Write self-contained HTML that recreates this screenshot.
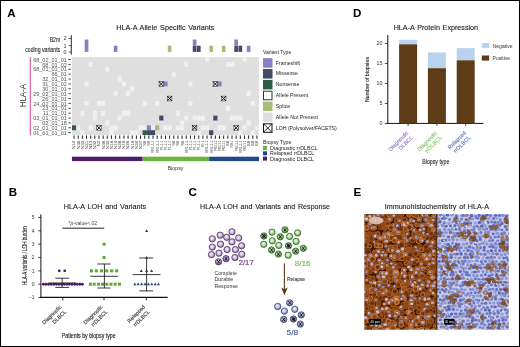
<!DOCTYPE html>
<html><head><meta charset="utf-8"><style>
html,body{margin:0;padding:0;background:#fff;}
svg{display:block;will-change:transform;}
text{font-family:"Liberation Sans", sans-serif;}
</style></head><body>
<svg width="520" height="347" viewBox="0 0 520 347" font-family="Liberation Sans, sans-serif">
<rect x="0.5" y="0.5" width="519" height="346" fill="#fff" stroke="#000" stroke-width="1"/>
<text x="7.20" y="16.90" font-size="11.6" fill="#000" font-weight="bold" >A</text>
<text x="353.00" y="17.30" font-size="11.6" fill="#000" font-weight="bold" >D</text>
<text x="8.70" y="195.60" font-size="11.6" fill="#000" font-weight="bold" >B</text>
<text x="188.40" y="196.40" font-size="11.6" fill="#000" font-weight="bold" >C</text>
<text x="353.60" y="196.10" font-size="11.6" fill="#000" font-weight="bold" >E</text>
<text x="116.20" y="30.20" font-size="7.7" fill="#222" textLength="98.2" lengthAdjust="spacingAndGlyphs" stroke="#222" stroke-width="0.12" word-spacing="0.8">HLA-A Allele Specific Variants</text>
<line x1="71.3" y1="35.2" x2="71.3" y2="54.6" stroke="#111" stroke-width="0.9"/>
<line x1="68.6" y1="38.4" x2="71.3" y2="38.4" stroke="#333" stroke-width="0.8"/>
<text x="66.60" y="40.30" font-size="5.4" fill="#333" text-anchor="end" >2</text>
<line x1="68.6" y1="45.6" x2="71.3" y2="45.6" stroke="#333" stroke-width="0.8"/>
<text x="66.60" y="47.50" font-size="5.4" fill="#333" text-anchor="end" >1</text>
<line x1="68.6" y1="52.0" x2="71.3" y2="52.0" stroke="#333" stroke-width="0.8"/>
<text x="66.60" y="53.90" font-size="5.4" fill="#333" text-anchor="end" >0</text>
<text x="60.20" y="42.30" font-size="7.2" fill="#222" text-anchor="end" textLength="10.5" lengthAdjust="spacingAndGlyphs" stroke="#222" stroke-width="0.1">B2m</text>
<text x="60.20" y="51.50" font-size="7.2" fill="#222" text-anchor="end" textLength="35.0" lengthAdjust="spacingAndGlyphs" stroke="#222" stroke-width="0.1">coding variants</text>
<rect x="84.67" y="39.50" width="3.7" height="12.40" fill="#8a7fc4"/>
<rect x="113.77" y="45.70" width="3.7" height="6.20" fill="#8a7fc4"/>
<rect x="167.81" y="45.70" width="3.7" height="6.20" fill="#a9bb78"/>
<rect x="192.75" y="45.70" width="3.7" height="6.20" fill="#434a66"/>
<rect x="192.75" y="39.50" width="3.7" height="6.20" fill="#8a7fc4"/>
<rect x="196.91" y="45.70" width="3.7" height="6.20" fill="#434a66"/>
<rect x="209.38" y="45.70" width="3.7" height="6.20" fill="#a9bb78"/>
<rect x="221.85" y="45.70" width="3.7" height="6.20" fill="#a9bb78"/>
<rect x="234.32" y="45.70" width="3.7" height="6.20" fill="#434a66"/>
<rect x="234.32" y="39.50" width="3.7" height="6.20" fill="#8a7fc4"/>
<rect x="238.48" y="45.70" width="3.7" height="6.20" fill="#434a66"/>
<rect x="246.79" y="45.70" width="3.7" height="6.20" fill="#8a7fc4"/>
<rect x="71.95" y="57.1" width="187.06" height="78.00" fill="#dfdfe0"/>
<rect x="204.97" y="57.10" width="4.16" height="4.88" fill="#f0f0f1"/>
<rect x="242.39" y="57.10" width="4.16" height="4.88" fill="#f0f0f1"/>
<rect x="88.58" y="61.98" width="4.16" height="4.88" fill="#f0f0f1"/>
<rect x="184.19" y="61.98" width="4.16" height="4.88" fill="#f0f0f1"/>
<rect x="225.76" y="61.98" width="4.16" height="4.88" fill="#f0f0f1"/>
<rect x="229.92" y="61.98" width="4.16" height="4.88" fill="#f0f0f1"/>
<rect x="105.21" y="66.85" width="4.16" height="4.88" fill="#f0f0f1"/>
<rect x="171.72" y="71.72" width="4.16" height="4.88" fill="#f0f0f1"/>
<rect x="117.68" y="76.60" width="4.16" height="4.88" fill="#f0f0f1"/>
<rect x="84.42" y="81.47" width="4.16" height="4.88" fill="#f0f0f1"/>
<rect x="121.83" y="81.47" width="4.16" height="4.88" fill="#f0f0f1"/>
<rect x="188.35" y="81.47" width="4.16" height="4.88" fill="#f0f0f1"/>
<rect x="130.15" y="86.35" width="4.16" height="4.88" fill="#f0f0f1"/>
<rect x="113.52" y="91.22" width="4.16" height="4.88" fill="#f0f0f1"/>
<rect x="125.99" y="91.22" width="4.16" height="4.88" fill="#f0f0f1"/>
<rect x="246.54" y="91.22" width="4.16" height="4.88" fill="#f0f0f1"/>
<rect x="84.42" y="100.97" width="4.16" height="4.88" fill="#f0f0f1"/>
<rect x="96.89" y="100.97" width="4.16" height="4.88" fill="#f0f0f1"/>
<rect x="101.05" y="100.97" width="4.16" height="4.88" fill="#f0f0f1"/>
<rect x="142.62" y="100.97" width="4.16" height="4.88" fill="#f0f0f1"/>
<rect x="155.09" y="100.97" width="4.16" height="4.88" fill="#f0f0f1"/>
<rect x="188.35" y="100.97" width="4.16" height="4.88" fill="#f0f0f1"/>
<rect x="250.70" y="100.97" width="4.16" height="4.88" fill="#f0f0f1"/>
<rect x="225.76" y="105.85" width="4.16" height="4.88" fill="#f0f0f1"/>
<rect x="80.26" y="110.72" width="4.16" height="4.88" fill="#f0f0f1"/>
<rect x="92.73" y="110.72" width="4.16" height="4.88" fill="#f0f0f1"/>
<rect x="101.05" y="110.72" width="4.16" height="4.88" fill="#f0f0f1"/>
<rect x="121.83" y="110.72" width="4.16" height="4.88" fill="#f0f0f1"/>
<rect x="125.99" y="110.72" width="4.16" height="4.88" fill="#f0f0f1"/>
<rect x="175.88" y="110.72" width="4.16" height="4.88" fill="#f0f0f1"/>
<rect x="92.73" y="115.60" width="4.16" height="4.88" fill="#f0f0f1"/>
<rect x="117.68" y="115.60" width="4.16" height="4.88" fill="#f0f0f1"/>
<rect x="184.19" y="115.60" width="4.16" height="4.88" fill="#f0f0f1"/>
<rect x="192.50" y="115.60" width="4.16" height="4.88" fill="#f0f0f1"/>
<rect x="196.66" y="115.60" width="4.16" height="4.88" fill="#f0f0f1"/>
<rect x="200.82" y="115.60" width="4.16" height="4.88" fill="#f0f0f1"/>
<rect x="229.92" y="115.60" width="4.16" height="4.88" fill="#f0f0f1"/>
<rect x="234.07" y="115.60" width="4.16" height="4.88" fill="#f0f0f1"/>
<rect x="238.23" y="115.60" width="4.16" height="4.88" fill="#f0f0f1"/>
<rect x="105.21" y="120.47" width="4.16" height="4.88" fill="#f0f0f1"/>
<rect x="180.03" y="120.47" width="4.16" height="4.88" fill="#f0f0f1"/>
<rect x="246.54" y="120.47" width="4.16" height="4.88" fill="#f0f0f1"/>
<rect x="76.11" y="125.35" width="4.16" height="4.88" fill="#f0f0f1"/>
<rect x="88.58" y="125.35" width="4.16" height="4.88" fill="#f0f0f1"/>
<rect x="109.36" y="125.35" width="4.16" height="4.88" fill="#f0f0f1"/>
<rect x="113.52" y="125.35" width="4.16" height="4.88" fill="#f0f0f1"/>
<rect x="138.46" y="125.35" width="4.16" height="4.88" fill="#f0f0f1"/>
<rect x="142.62" y="125.35" width="4.16" height="4.88" fill="#f0f0f1"/>
<rect x="150.93" y="125.35" width="4.16" height="4.88" fill="#f0f0f1"/>
<rect x="163.40" y="125.35" width="4.16" height="4.88" fill="#f0f0f1"/>
<rect x="167.56" y="125.35" width="4.16" height="4.88" fill="#f0f0f1"/>
<rect x="175.88" y="125.35" width="4.16" height="4.88" fill="#f0f0f1"/>
<rect x="180.03" y="125.35" width="4.16" height="4.88" fill="#f0f0f1"/>
<rect x="200.82" y="125.35" width="4.16" height="4.88" fill="#f0f0f1"/>
<rect x="204.97" y="125.35" width="4.16" height="4.88" fill="#f0f0f1"/>
<rect x="217.44" y="125.35" width="4.16" height="4.88" fill="#f0f0f1"/>
<rect x="221.60" y="125.35" width="4.16" height="4.88" fill="#f0f0f1"/>
<rect x="242.39" y="125.35" width="4.16" height="4.88" fill="#f0f0f1"/>
<rect x="254.86" y="125.35" width="4.16" height="4.88" fill="#f0f0f1"/>
<rect x="80.26" y="130.22" width="4.16" height="4.88" fill="#f0f0f1"/>
<rect x="109.36" y="130.22" width="4.16" height="4.88" fill="#f0f0f1"/>
<rect x="130.15" y="130.22" width="4.16" height="4.88" fill="#f0f0f1"/>
<rect x="134.31" y="130.22" width="4.16" height="4.88" fill="#f0f0f1"/>
<rect x="196.66" y="130.22" width="4.16" height="4.88" fill="#f0f0f1"/>
<rect x="238.23" y="130.22" width="4.16" height="4.88" fill="#f0f0f1"/>
<rect x="250.70" y="130.22" width="4.16" height="4.88" fill="#f0f0f1"/>
<rect x="71.95" y="125.35" width="4.16" height="4.88" fill="#2e5d45"/>
<rect x="142.62" y="130.22" width="4.16" height="4.88" fill="#2e5d45"/>
<rect x="163.40" y="81.47" width="4.16" height="4.88" fill="#8a7fc4"/>
<rect x="217.44" y="81.47" width="4.16" height="4.88" fill="#8a7fc4"/>
<rect x="146.78" y="125.35" width="4.16" height="4.88" fill="#8a7fc4"/>
<rect x="159.25" y="115.60" width="4.16" height="4.88" fill="#434a66"/>
<rect x="213.29" y="115.60" width="4.16" height="4.88" fill="#434a66"/>
<rect x="146.78" y="130.22" width="4.16" height="4.88" fill="#434a66"/>
<rect x="150.93" y="130.22" width="4.16" height="4.88" fill="#434a66"/>
<rect x="209.13" y="130.22" width="4.16" height="4.88" fill="#434a66"/>
<rect x="155.09" y="125.35" width="4.16" height="4.88" fill="#a9bb78"/>
<rect x="159.10" y="81.52" width="4.46" height="4.78" fill="#fff" stroke="#222" stroke-width="0.55"/>
<path d="M159.10 81.52L163.55 86.30M163.55 81.52L159.10 86.30" stroke="#111" stroke-width="1.0"/>
<rect x="213.14" y="81.52" width="4.46" height="4.78" fill="#fff" stroke="#222" stroke-width="0.55"/>
<path d="M213.14 81.52L217.60 86.30M217.60 81.52L213.14 86.30" stroke="#111" stroke-width="1.0"/>
<rect x="167.41" y="96.15" width="4.46" height="4.78" fill="#fff" stroke="#222" stroke-width="0.55"/>
<path d="M167.41 96.15L171.87 100.92M171.87 96.15L167.41 100.92" stroke="#111" stroke-width="1.0"/>
<rect x="221.45" y="96.15" width="4.46" height="4.78" fill="#fff" stroke="#222" stroke-width="0.55"/>
<path d="M221.45 96.15L225.91 100.92M225.91 96.15L221.45 100.92" stroke="#111" stroke-width="1.0"/>
<rect x="96.74" y="125.40" width="4.46" height="4.77" fill="#fff" stroke="#222" stroke-width="0.55"/>
<path d="M96.74 125.40L101.20 130.17M101.20 125.40L96.74 130.17" stroke="#111" stroke-width="1.0"/>
<rect x="192.35" y="125.40" width="4.46" height="4.77" fill="#fff" stroke="#222" stroke-width="0.55"/>
<path d="M192.35 125.40L196.81 130.17M196.81 125.40L192.35 130.17" stroke="#111" stroke-width="1.0"/>
<rect x="233.92" y="125.40" width="4.46" height="4.77" fill="#fff" stroke="#222" stroke-width="0.55"/>
<path d="M233.92 125.40L238.38 130.17M238.38 125.40L233.92 130.17" stroke="#111" stroke-width="1.0"/>
<text x="66.80" y="61.64" font-size="5.5" fill="#555" text-anchor="end" >68_02_01_01</text>
<line x1="68.4" y1="59.54" x2="70.9" y2="59.54" stroke="#222" stroke-width="0.8"/>
<text x="66.80" y="66.51" font-size="5.5" fill="#555" text-anchor="end" >68_01_02</text>
<line x1="68.4" y1="64.41" x2="70.9" y2="64.41" stroke="#222" stroke-width="0.8"/>
<text x="66.80" y="71.39" font-size="5.5" fill="#555" text-anchor="end" >68_01_01_01</text>
<line x1="68.4" y1="69.29" x2="70.9" y2="69.29" stroke="#222" stroke-width="0.8"/>
<text x="66.80" y="76.26" font-size="5.5" fill="#555" text-anchor="end" >66_01</text>
<line x1="68.4" y1="74.16" x2="70.9" y2="74.16" stroke="#222" stroke-width="0.8"/>
<text x="66.80" y="81.14" font-size="5.5" fill="#555" text-anchor="end" >32_01_01</text>
<line x1="68.4" y1="79.04" x2="70.9" y2="79.04" stroke="#222" stroke-width="0.8"/>
<text x="66.80" y="86.01" font-size="5.5" fill="#555" text-anchor="end" >31_01_02</text>
<line x1="68.4" y1="83.91" x2="70.9" y2="83.91" stroke="#222" stroke-width="0.8"/>
<text x="66.80" y="90.89" font-size="5.5" fill="#555" text-anchor="end" >30_01_01</text>
<line x1="68.4" y1="88.79" x2="70.9" y2="88.79" stroke="#222" stroke-width="0.8"/>
<text x="66.80" y="95.76" font-size="5.5" fill="#555" text-anchor="end" >29_02_01_01</text>
<line x1="68.4" y1="93.66" x2="70.9" y2="93.66" stroke="#222" stroke-width="0.8"/>
<text x="66.80" y="100.64" font-size="5.5" fill="#555" text-anchor="end" >26_01_01</text>
<line x1="68.4" y1="98.54" x2="70.9" y2="98.54" stroke="#222" stroke-width="0.8"/>
<text x="66.80" y="105.51" font-size="5.5" fill="#555" text-anchor="end" >24_02_01_01</text>
<line x1="68.4" y1="103.41" x2="70.9" y2="103.41" stroke="#222" stroke-width="0.8"/>
<text x="66.80" y="110.39" font-size="5.5" fill="#555" text-anchor="end" >23_01_01</text>
<line x1="68.4" y1="108.29" x2="70.9" y2="108.29" stroke="#222" stroke-width="0.8"/>
<text x="66.80" y="115.26" font-size="5.5" fill="#555" text-anchor="end" >11_01_01</text>
<line x1="68.4" y1="113.16" x2="70.9" y2="113.16" stroke="#222" stroke-width="0.8"/>
<text x="66.80" y="120.14" font-size="5.5" fill="#555" text-anchor="end" >03_01_01_01</text>
<line x1="68.4" y1="118.04" x2="70.9" y2="118.04" stroke="#222" stroke-width="0.8"/>
<text x="66.80" y="125.01" font-size="5.5" fill="#555" text-anchor="end" >02_01_18</text>
<line x1="68.4" y1="122.91" x2="70.9" y2="122.91" stroke="#222" stroke-width="0.8"/>
<text x="66.80" y="129.89" font-size="5.5" fill="#555" text-anchor="end" >02_01_01_01</text>
<line x1="68.4" y1="127.79" x2="70.9" y2="127.79" stroke="#222" stroke-width="0.8"/>
<text x="66.80" y="134.76" font-size="5.5" fill="#555" text-anchor="end" >01_01_01_01</text>
<line x1="68.4" y1="132.66" x2="70.9" y2="132.66" stroke="#222" stroke-width="0.8"/>
<line x1="30.3" y1="57" x2="30.3" y2="135.2" stroke="#d9539f" stroke-width="1.1"/>
<text transform="translate(25.8 95.6) rotate(-90)" x="0" y="0" font-size="8.4" fill="#333" text-anchor="middle" textLength="23.5" lengthAdjust="spacingAndGlyphs">HLA-A</text>
<line x1="74.03" y1="135.5" x2="74.03" y2="138.8" stroke="#111" stroke-width="0.95"/>
<text transform="translate(75.43 140.6) rotate(-90)" font-size="4.2" fill="#444" text-anchor="end" textLength="8.7" lengthAdjust="spacingAndGlyphs">N14</text>
<line x1="78.19" y1="135.5" x2="78.19" y2="138.8" stroke="#111" stroke-width="0.95"/>
<text transform="translate(79.59 140.6) rotate(-90)" font-size="4.2" fill="#444" text-anchor="end" textLength="8.7" lengthAdjust="spacingAndGlyphs">N38</text>
<line x1="82.34" y1="135.5" x2="82.34" y2="138.8" stroke="#111" stroke-width="0.95"/>
<text transform="translate(83.74 140.6) rotate(-90)" font-size="4.2" fill="#444" text-anchor="end" textLength="8.7" lengthAdjust="spacingAndGlyphs">N33</text>
<line x1="86.50" y1="135.5" x2="86.50" y2="138.8" stroke="#111" stroke-width="0.95"/>
<text transform="translate(87.90 140.6) rotate(-90)" font-size="4.2" fill="#444" text-anchor="end" textLength="8.7" lengthAdjust="spacingAndGlyphs">N21</text>
<line x1="90.66" y1="135.5" x2="90.66" y2="138.8" stroke="#111" stroke-width="0.95"/>
<text transform="translate(92.06 140.6) rotate(-90)" font-size="4.2" fill="#444" text-anchor="end" textLength="8.7" lengthAdjust="spacingAndGlyphs">N11</text>
<line x1="94.81" y1="135.5" x2="94.81" y2="138.8" stroke="#111" stroke-width="0.95"/>
<text transform="translate(96.21 140.6) rotate(-90)" font-size="4.2" fill="#444" text-anchor="end" textLength="8.7" lengthAdjust="spacingAndGlyphs">N32</text>
<line x1="98.97" y1="135.5" x2="98.97" y2="138.8" stroke="#111" stroke-width="0.95"/>
<text transform="translate(100.37 140.6) rotate(-90)" font-size="4.2" fill="#444" text-anchor="end" textLength="5.6" lengthAdjust="spacingAndGlyphs">N2</text>
<line x1="103.13" y1="135.5" x2="103.13" y2="138.8" stroke="#111" stroke-width="0.95"/>
<text transform="translate(104.53 140.6) rotate(-90)" font-size="4.2" fill="#444" text-anchor="end" textLength="8.7" lengthAdjust="spacingAndGlyphs">N36</text>
<line x1="107.28" y1="135.5" x2="107.28" y2="138.8" stroke="#111" stroke-width="0.95"/>
<text transform="translate(108.68 140.6) rotate(-90)" font-size="4.2" fill="#444" text-anchor="end" textLength="8.7" lengthAdjust="spacingAndGlyphs">N35</text>
<line x1="111.44" y1="135.5" x2="111.44" y2="138.8" stroke="#111" stroke-width="0.95"/>
<text transform="translate(112.84 140.6) rotate(-90)" font-size="4.2" fill="#444" text-anchor="end" textLength="8.7" lengthAdjust="spacingAndGlyphs">N16</text>
<line x1="115.60" y1="135.5" x2="115.60" y2="138.8" stroke="#111" stroke-width="0.95"/>
<text transform="translate(117.00 140.6) rotate(-90)" font-size="4.2" fill="#444" text-anchor="end" textLength="8.7" lengthAdjust="spacingAndGlyphs">N10</text>
<line x1="119.76" y1="135.5" x2="119.76" y2="138.8" stroke="#111" stroke-width="0.95"/>
<text transform="translate(121.16 140.6) rotate(-90)" font-size="4.2" fill="#444" text-anchor="end" textLength="8.7" lengthAdjust="spacingAndGlyphs">N28</text>
<line x1="123.91" y1="135.5" x2="123.91" y2="138.8" stroke="#111" stroke-width="0.95"/>
<text transform="translate(125.31 140.6) rotate(-90)" font-size="4.2" fill="#444" text-anchor="end" textLength="8.7" lengthAdjust="spacingAndGlyphs">N19</text>
<line x1="128.07" y1="135.5" x2="128.07" y2="138.8" stroke="#111" stroke-width="0.95"/>
<text transform="translate(129.47 140.6) rotate(-90)" font-size="4.2" fill="#444" text-anchor="end" textLength="8.7" lengthAdjust="spacingAndGlyphs">N26</text>
<line x1="132.23" y1="135.5" x2="132.23" y2="138.8" stroke="#111" stroke-width="0.95"/>
<text transform="translate(133.63 140.6) rotate(-90)" font-size="4.2" fill="#444" text-anchor="end" textLength="8.7" lengthAdjust="spacingAndGlyphs">N19</text>
<line x1="136.38" y1="135.5" x2="136.38" y2="138.8" stroke="#111" stroke-width="0.95"/>
<text transform="translate(137.78 140.6) rotate(-90)" font-size="4.2" fill="#444" text-anchor="end" textLength="8.7" lengthAdjust="spacingAndGlyphs">N24</text>
<line x1="140.54" y1="135.5" x2="140.54" y2="138.8" stroke="#111" stroke-width="0.95"/>
<text transform="translate(141.94 140.6) rotate(-90)" font-size="4.2" fill="#444" text-anchor="end" textLength="8.7" lengthAdjust="spacingAndGlyphs">N27</text>
<line x1="144.70" y1="135.5" x2="144.70" y2="138.8" stroke="#111" stroke-width="0.95"/>
<text transform="translate(146.10 140.6) rotate(-90)" font-size="4.2" fill="#444" text-anchor="end" textLength="5.2" lengthAdjust="spacingAndGlyphs">S8</text>
<line x1="148.85" y1="135.5" x2="148.85" y2="138.8" stroke="#111" stroke-width="0.95"/>
<text transform="translate(150.25 140.6) rotate(-90)" font-size="4.2" fill="#444" text-anchor="end" textLength="5.2" lengthAdjust="spacingAndGlyphs">S8</text>
<line x1="153.01" y1="135.5" x2="153.01" y2="138.8" stroke="#111" stroke-width="0.95"/>
<text transform="translate(154.41 140.6) rotate(-90)" font-size="4.2" fill="#444" text-anchor="end" textLength="12.2" lengthAdjust="spacingAndGlyphs">RR1-1-1</text>
<line x1="157.17" y1="135.5" x2="157.17" y2="138.8" stroke="#111" stroke-width="0.95"/>
<text transform="translate(158.57 140.6) rotate(-90)" font-size="4.2" fill="#444" text-anchor="end" textLength="12.2" lengthAdjust="spacingAndGlyphs">RR1-1-1</text>
<line x1="161.33" y1="135.5" x2="161.33" y2="138.8" stroke="#111" stroke-width="0.95"/>
<text transform="translate(162.73 140.6) rotate(-90)" font-size="4.2" fill="#444" text-anchor="end" textLength="9.6" lengthAdjust="spacingAndGlyphs">P1-1-1</text>
<line x1="165.48" y1="135.5" x2="165.48" y2="138.8" stroke="#111" stroke-width="0.95"/>
<text transform="translate(166.88 140.6) rotate(-90)" font-size="4.2" fill="#444" text-anchor="end" textLength="9.6" lengthAdjust="spacingAndGlyphs">P1-1-1</text>
<line x1="169.64" y1="135.5" x2="169.64" y2="138.8" stroke="#111" stroke-width="0.95"/>
<text transform="translate(171.04 140.6) rotate(-90)" font-size="4.2" fill="#444" text-anchor="end" textLength="9.6" lengthAdjust="spacingAndGlyphs">P1-1-1</text>
<line x1="173.80" y1="135.5" x2="173.80" y2="138.8" stroke="#111" stroke-width="0.95"/>
<text transform="translate(175.20 140.6) rotate(-90)" font-size="4.2" fill="#444" text-anchor="end" textLength="5.2" lengthAdjust="spacingAndGlyphs">S8</text>
<line x1="177.95" y1="135.5" x2="177.95" y2="138.8" stroke="#111" stroke-width="0.95"/>
<text transform="translate(179.35 140.6) rotate(-90)" font-size="4.2" fill="#444" text-anchor="end" textLength="5.2" lengthAdjust="spacingAndGlyphs">S8</text>
<line x1="182.11" y1="135.5" x2="182.11" y2="138.8" stroke="#111" stroke-width="0.95"/>
<text transform="translate(183.51 140.6) rotate(-90)" font-size="4.2" fill="#444" text-anchor="end" textLength="5.2" lengthAdjust="spacingAndGlyphs">S8</text>
<line x1="186.27" y1="135.5" x2="186.27" y2="138.8" stroke="#111" stroke-width="0.95"/>
<text transform="translate(187.67 140.6) rotate(-90)" font-size="4.2" fill="#444" text-anchor="end" textLength="12.2" lengthAdjust="spacingAndGlyphs">RR1-1-1</text>
<line x1="190.42" y1="135.5" x2="190.42" y2="138.8" stroke="#111" stroke-width="0.95"/>
<text transform="translate(191.82 140.6) rotate(-90)" font-size="4.2" fill="#444" text-anchor="end" textLength="9.6" lengthAdjust="spacingAndGlyphs">P1-1-1</text>
<line x1="194.58" y1="135.5" x2="194.58" y2="138.8" stroke="#111" stroke-width="0.95"/>
<text transform="translate(195.98 140.6) rotate(-90)" font-size="4.2" fill="#444" text-anchor="end" textLength="9.6" lengthAdjust="spacingAndGlyphs">P1-1-1</text>
<line x1="198.74" y1="135.5" x2="198.74" y2="138.8" stroke="#111" stroke-width="0.95"/>
<text transform="translate(200.14 140.6) rotate(-90)" font-size="4.2" fill="#444" text-anchor="end" textLength="9.6" lengthAdjust="spacingAndGlyphs">P1-1-1</text>
<line x1="202.90" y1="135.5" x2="202.90" y2="138.8" stroke="#111" stroke-width="0.95"/>
<text transform="translate(204.30 140.6) rotate(-90)" font-size="4.2" fill="#444" text-anchor="end" textLength="6.6" lengthAdjust="spacingAndGlyphs">R9-1</text>
<line x1="207.05" y1="135.5" x2="207.05" y2="138.8" stroke="#111" stroke-width="0.95"/>
<text transform="translate(208.45 140.6) rotate(-90)" font-size="4.2" fill="#444" text-anchor="end" textLength="12.2" lengthAdjust="spacingAndGlyphs">RR1-1-1</text>
<line x1="211.21" y1="135.5" x2="211.21" y2="138.8" stroke="#111" stroke-width="0.95"/>
<text transform="translate(212.61 140.6) rotate(-90)" font-size="4.2" fill="#444" text-anchor="end" textLength="12.2" lengthAdjust="spacingAndGlyphs">RR1-1-1</text>
<line x1="215.37" y1="135.5" x2="215.37" y2="138.8" stroke="#111" stroke-width="0.95"/>
<text transform="translate(216.77 140.6) rotate(-90)" font-size="4.2" fill="#444" text-anchor="end" textLength="10.4" lengthAdjust="spacingAndGlyphs">PR2-1-1</text>
<line x1="219.52" y1="135.5" x2="219.52" y2="138.8" stroke="#111" stroke-width="0.95"/>
<text transform="translate(220.92 140.6) rotate(-90)" font-size="4.2" fill="#444" text-anchor="end" textLength="10.4" lengthAdjust="spacingAndGlyphs">PR2-1-1</text>
<line x1="223.68" y1="135.5" x2="223.68" y2="138.8" stroke="#111" stroke-width="0.95"/>
<text transform="translate(225.08 140.6) rotate(-90)" font-size="4.2" fill="#444" text-anchor="end" textLength="10.4" lengthAdjust="spacingAndGlyphs">PR2-1-1</text>
<line x1="227.84" y1="135.5" x2="227.84" y2="138.8" stroke="#111" stroke-width="0.95"/>
<text transform="translate(229.24 140.6) rotate(-90)" font-size="4.2" fill="#444" text-anchor="end" textLength="5.7" lengthAdjust="spacingAndGlyphs">S8</text>
<line x1="231.99" y1="135.5" x2="231.99" y2="138.8" stroke="#111" stroke-width="0.95"/>
<text transform="translate(233.39 140.6) rotate(-90)" font-size="4.2" fill="#444" text-anchor="end" textLength="7.0" lengthAdjust="spacingAndGlyphs">R9-1</text>
<line x1="236.15" y1="135.5" x2="236.15" y2="138.8" stroke="#111" stroke-width="0.95"/>
<text transform="translate(237.55 140.6) rotate(-90)" font-size="4.2" fill="#444" text-anchor="end" textLength="10.4" lengthAdjust="spacingAndGlyphs">PR2-1-1</text>
<line x1="240.31" y1="135.5" x2="240.31" y2="138.8" stroke="#111" stroke-width="0.95"/>
<text transform="translate(241.71 140.6) rotate(-90)" font-size="4.2" fill="#444" text-anchor="end" textLength="12.2" lengthAdjust="spacingAndGlyphs">RR1-1-1</text>
<line x1="244.47" y1="135.5" x2="244.47" y2="138.8" stroke="#111" stroke-width="0.95"/>
<text transform="translate(245.87 140.6) rotate(-90)" font-size="4.2" fill="#444" text-anchor="end" textLength="10.4" lengthAdjust="spacingAndGlyphs">PR2-1-1</text>
<line x1="248.62" y1="135.5" x2="248.62" y2="138.8" stroke="#111" stroke-width="0.95"/>
<text transform="translate(250.02 140.6) rotate(-90)" font-size="4.2" fill="#444" text-anchor="end" textLength="5.7" lengthAdjust="spacingAndGlyphs">S8</text>
<line x1="252.78" y1="135.5" x2="252.78" y2="138.8" stroke="#111" stroke-width="0.95"/>
<text transform="translate(254.18 140.6) rotate(-90)" font-size="4.2" fill="#444" text-anchor="end" textLength="5.7" lengthAdjust="spacingAndGlyphs">S8</text>
<line x1="256.94" y1="135.5" x2="256.94" y2="138.8" stroke="#111" stroke-width="0.95"/>
<text transform="translate(258.34 140.6) rotate(-90)" font-size="4.2" fill="#444" text-anchor="end" textLength="5.7" lengthAdjust="spacingAndGlyphs">S8</text>
<rect x="71.95" y="156.7" width="70.67" height="4.4" fill="#4b1d6b"/>
<rect x="142.62" y="156.7" width="66.51" height="4.4" fill="#6cb23e"/>
<rect x="209.13" y="156.7" width="49.88" height="4.4" fill="#23478b"/>
<text x="167.50" y="169.60" font-size="6.0" fill="#333" textLength="16" lengthAdjust="spacingAndGlyphs" >Biopsy</text>
<text x="263.00" y="54.20" font-size="6.2" fill="#222" textLength="28.3" lengthAdjust="spacingAndGlyphs" >Variant Type</text>
<rect x="263" y="58.20" width="9.5" height="9.5" fill="#8a7fc4"/>
<text x="275.80" y="64.60" font-size="6.2" fill="#222" textLength="24.2" lengthAdjust="spacingAndGlyphs" >Frameshift</text>
<rect x="263" y="69.05" width="9.5" height="9.5" fill="#434a66"/>
<text x="275.80" y="75.45" font-size="6.2" fill="#222" textLength="22.0" lengthAdjust="spacingAndGlyphs" >Missense</text>
<rect x="263" y="79.90" width="9.5" height="9.5" fill="#2e5d45"/>
<text x="275.80" y="86.30" font-size="6.2" fill="#222" textLength="23.6" lengthAdjust="spacingAndGlyphs" >Nonsense</text>
<rect x="263.5" y="91.25" width="8.5" height="8.5" fill="#fff" stroke="#333" stroke-width="1"/>
<text x="275.80" y="97.15" font-size="6.2" fill="#222" textLength="32.4" lengthAdjust="spacingAndGlyphs" >Allele Present</text>
<rect x="263" y="101.60" width="9.5" height="9.5" fill="#a9bb78"/>
<text x="275.80" y="108.00" font-size="6.2" fill="#222" textLength="14.5" lengthAdjust="spacingAndGlyphs" >Splice</text>
<rect x="263" y="112.45" width="9.5" height="9.5" fill="#dfdfe0"/>
<text x="275.80" y="118.85" font-size="6.2" fill="#222" textLength="42.2" lengthAdjust="spacingAndGlyphs" >Allele Not Present</text>
<rect x="263.5" y="123.80" width="8.5" height="8.5" fill="#fff" stroke="#111" stroke-width="1"/>
<path d="M263.5 123.80L272 132.30M272 123.80L263.5 132.30" stroke="#111" stroke-width="0.9"/>
<text x="275.80" y="129.70" font-size="6.2" fill="#222" textLength="61" lengthAdjust="spacingAndGlyphs" >LOH (Polysolver/FACETS)</text>
<text x="263.00" y="144.40" font-size="6.0" fill="#222" textLength="28.3" lengthAdjust="spacingAndGlyphs" >Biopsy Type</text>
<rect x="263" y="146.00" width="4" height="4" fill="#6cb23e"/>
<text x="270.10" y="150.00" font-size="5.6" fill="#222" textLength="47.4" lengthAdjust="spacingAndGlyphs" >Diagnostic rrDLBCL</text>
<rect x="263" y="151.30" width="4" height="4" fill="#23478b"/>
<text x="270.10" y="155.30" font-size="5.6" fill="#222" textLength="44" lengthAdjust="spacingAndGlyphs" >Relapsed rrDLBCL</text>
<rect x="263" y="156.60" width="4" height="4" fill="#4b1d6b"/>
<text x="270.10" y="160.60" font-size="5.6" fill="#222" textLength="44" lengthAdjust="spacingAndGlyphs" >Diagnostic DLBCL</text>
<text x="393.70" y="30.30" font-size="7.7" fill="#222" textLength="84.4" lengthAdjust="spacingAndGlyphs" stroke="#222" stroke-width="0.12" word-spacing="0.8">HLA-A Protein Expression</text>
<line x1="387.8" y1="35" x2="387.8" y2="123.9" stroke="#111" stroke-width="1"/>
<line x1="387.3" y1="123.4" x2="483.4" y2="123.4" stroke="#111" stroke-width="1"/>
<line x1="384.8" y1="123.4" x2="387.8" y2="123.4" stroke="#111" stroke-width="0.8"/>
<text x="382.40" y="125.30" font-size="5.4" fill="#333" text-anchor="end" >0</text>
<line x1="384.8" y1="103.4" x2="387.8" y2="103.4" stroke="#111" stroke-width="0.8"/>
<text x="382.40" y="105.30" font-size="5.4" fill="#333" text-anchor="end" >5</text>
<line x1="384.8" y1="83.4" x2="387.8" y2="83.4" stroke="#111" stroke-width="0.8"/>
<text x="382.40" y="85.30" font-size="5.4" fill="#333" text-anchor="end" >10</text>
<line x1="384.8" y1="63.400000000000006" x2="387.8" y2="63.400000000000006" stroke="#111" stroke-width="0.8"/>
<text x="382.40" y="65.30" font-size="5.4" fill="#333" text-anchor="end" >15</text>
<line x1="384.8" y1="43.400000000000006" x2="387.8" y2="43.400000000000006" stroke="#111" stroke-width="0.8"/>
<text x="382.40" y="45.30" font-size="5.4" fill="#333" text-anchor="end" >20</text>
<rect x="399.1" y="39.8" width="18" height="4.5" fill="#b9d3ee"/>
<rect x="399.1" y="44.3" width="18" height="79.1" fill="#5d3c17"/>
<line x1="408.1" y1="123.4" x2="408.1" y2="125.8" stroke="#111" stroke-width="0.8"/>
<rect x="427.9" y="52.4" width="18" height="15.8" fill="#b9d3ee"/>
<rect x="427.9" y="68.2" width="18" height="55.2" fill="#5d3c17"/>
<line x1="436.9" y1="123.4" x2="436.9" y2="125.8" stroke="#111" stroke-width="0.8"/>
<rect x="456.7" y="48.1" width="18" height="12.2" fill="#b9d3ee"/>
<rect x="456.7" y="60.3" width="18" height="63.1" fill="#5d3c17"/>
<line x1="465.7" y1="123.4" x2="465.7" y2="125.8" stroke="#111" stroke-width="0.8"/>
<rect x="481.8" y="43" width="7.3" height="5.1" fill="#b9d3ee"/>
<rect x="481.8" y="55.5" width="7.3" height="5.1" fill="#5d3c17"/>
<text x="492.60" y="47.80" font-size="5.6" fill="#333" textLength="20" lengthAdjust="spacingAndGlyphs" >Negative</text>
<text x="492.60" y="60.10" font-size="5.6" fill="#333" textLength="17.5" lengthAdjust="spacingAndGlyphs" >Positive</text>
<text transform="translate(369.2 79.5) rotate(-90)" font-size="6.2" fill="#222" stroke="#222" stroke-width="0.12" text-anchor="middle" textLength="45" lengthAdjust="spacingAndGlyphs">Number of biopsies</text>
<g transform="translate(408.8 133.4) rotate(-45)" font-size="5.5" fill="#9273c0" stroke="#9273c0" stroke-width="0.12" text-anchor="end"><text x="0" y="0">Diagnostic</text><text x="0" y="6.4">DLBCL</text></g>
<g transform="translate(437.6 133.4) rotate(-45)" font-size="5.5" fill="#88c46a" stroke="#88c46a" stroke-width="0.12" text-anchor="end"><text x="0" y="0">Diagnostic</text><text x="0" y="6.4">rrDLBCL</text></g>
<g transform="translate(466.4 133.4) rotate(-45)" font-size="5.5" fill="#5b77b8" stroke="#5b77b8" stroke-width="0.12" text-anchor="end"><text x="0" y="0">Relapsed</text><text x="0" y="6.4">rrDLBCL</text></g>
<text x="422.30" y="164.00" font-size="6.6" fill="#333" textLength="27" lengthAdjust="spacingAndGlyphs" stroke="#333" stroke-width="0.15">Biopsy type</text>
<text x="63.80" y="209.40" font-size="7.7" fill="#222" textLength="82.4" lengthAdjust="spacingAndGlyphs" stroke="#222" stroke-width="0.12" word-spacing="0.8">HLA-A LOH and Variants</text>
<line x1="40.9" y1="214.3" x2="40.9" y2="297.9" stroke="#111" stroke-width="1"/>
<line x1="40.4" y1="297.4" x2="167.6" y2="297.4" stroke="#111" stroke-width="1.2"/>
<line x1="38.3" y1="217.45" x2="40.9" y2="217.45" stroke="#111" stroke-width="0.8"/>
<text x="34.60" y="219.25" font-size="5.0" fill="#333" text-anchor="end" >5</text>
<line x1="38.3" y1="230.80" x2="40.9" y2="230.80" stroke="#111" stroke-width="0.8"/>
<text x="34.60" y="232.60" font-size="5.0" fill="#333" text-anchor="end" >4</text>
<line x1="38.3" y1="244.15" x2="40.9" y2="244.15" stroke="#111" stroke-width="0.8"/>
<text x="34.60" y="245.95" font-size="5.0" fill="#333" text-anchor="end" >3</text>
<line x1="38.3" y1="257.50" x2="40.9" y2="257.50" stroke="#111" stroke-width="0.8"/>
<text x="34.60" y="259.30" font-size="5.0" fill="#333" text-anchor="end" >2</text>
<line x1="38.3" y1="270.85" x2="40.9" y2="270.85" stroke="#111" stroke-width="0.8"/>
<text x="34.60" y="272.65" font-size="5.0" fill="#333" text-anchor="end" >1</text>
<line x1="38.3" y1="284.20" x2="40.9" y2="284.20" stroke="#111" stroke-width="0.8"/>
<text x="34.60" y="286.00" font-size="5.0" fill="#333" text-anchor="end" >0</text>
<line x1="38.3" y1="297.55" x2="40.9" y2="297.55" stroke="#111" stroke-width="0.8"/>
<text x="34.60" y="299.35" font-size="5.0" fill="#333" text-anchor="end" >−1</text>
<text transform="translate(27.0 255.6) rotate(-90)" font-size="6.4" fill="#222" stroke="#222" stroke-width="0.12" text-anchor="middle" textLength="59" lengthAdjust="spacingAndGlyphs">HLA-A variants / LOH burden</text>
<line x1="62.4" y1="228.2" x2="104.2" y2="228.2" stroke="#222" stroke-width="1.0"/>
<text x="68.4" y="225.3" font-size="5.0" fill="#444" textLength="28.8" lengthAdjust="spacingAndGlyphs">*<tspan font-style="italic">p</tspan>-value&lt;.02</text>
<circle cx="43.40" cy="284.20" r="1.45" fill="#4a1a6a"/>
<circle cx="46.00" cy="284.20" r="1.45" fill="#4a1a6a"/>
<circle cx="48.60" cy="284.20" r="1.45" fill="#4a1a6a"/>
<circle cx="51.20" cy="284.20" r="1.45" fill="#4a1a6a"/>
<circle cx="53.80" cy="284.20" r="1.45" fill="#4a1a6a"/>
<circle cx="56.40" cy="284.20" r="1.45" fill="#4a1a6a"/>
<circle cx="59.00" cy="284.20" r="1.45" fill="#4a1a6a"/>
<circle cx="61.60" cy="284.20" r="1.45" fill="#4a1a6a"/>
<circle cx="64.20" cy="284.20" r="1.45" fill="#4a1a6a"/>
<circle cx="66.80" cy="284.20" r="1.45" fill="#4a1a6a"/>
<circle cx="69.40" cy="284.20" r="1.45" fill="#4a1a6a"/>
<circle cx="72.00" cy="284.20" r="1.45" fill="#4a1a6a"/>
<circle cx="74.60" cy="284.20" r="1.45" fill="#4a1a6a"/>
<circle cx="77.20" cy="284.20" r="1.45" fill="#4a1a6a"/>
<circle cx="79.80" cy="284.20" r="1.45" fill="#4a1a6a"/>
<circle cx="82.40" cy="284.20" r="1.45" fill="#4a1a6a"/>
<circle cx="59.3" cy="270.85" r="1.45" fill="#4a1a6a"/>
<circle cx="64.7" cy="270.85" r="1.45" fill="#4a1a6a"/>
<rect x="88.90" y="282.70" width="3" height="3" fill="#5ea82f"/>
<rect x="92.70" y="282.70" width="3" height="3" fill="#5ea82f"/>
<rect x="97.00" y="282.70" width="3" height="3" fill="#5ea82f"/>
<rect x="101.00" y="282.70" width="3" height="3" fill="#5ea82f"/>
<rect x="105.30" y="282.70" width="3" height="3" fill="#5ea82f"/>
<rect x="109.50" y="282.70" width="3" height="3" fill="#5ea82f"/>
<rect x="113.70" y="282.70" width="3" height="3" fill="#5ea82f"/>
<rect x="118.00" y="282.70" width="3" height="3" fill="#5ea82f"/>
<rect x="90.00" y="269.35" width="3" height="3" fill="#5ea82f"/>
<rect x="94.80" y="269.35" width="3" height="3" fill="#5ea82f"/>
<rect x="100.00" y="269.35" width="3" height="3" fill="#5ea82f"/>
<rect x="105.10" y="269.35" width="3" height="3" fill="#5ea82f"/>
<rect x="110.20" y="269.35" width="3" height="3" fill="#5ea82f"/>
<rect x="115.20" y="269.35" width="3" height="3" fill="#5ea82f"/>
<rect x="102.60" y="256.00" width="3" height="3" fill="#5ea82f"/>
<rect x="102.60" y="242.65" width="3" height="3" fill="#5ea82f"/>
<path d="M134.80 282.60L136.30 285.30L133.30 285.30Z" fill="#1e3b80"/>
<path d="M138.20 282.60L139.70 285.30L136.70 285.30Z" fill="#1e3b80"/>
<path d="M141.60 282.60L143.10 285.30L140.10 285.30Z" fill="#1e3b80"/>
<path d="M145.00 282.60L146.50 285.30L143.50 285.30Z" fill="#1e3b80"/>
<path d="M148.40 282.60L149.90 285.30L146.90 285.30Z" fill="#1e3b80"/>
<path d="M151.80 282.60L153.30 285.30L150.30 285.30Z" fill="#1e3b80"/>
<path d="M155.20 282.60L156.70 285.30L153.70 285.30Z" fill="#1e3b80"/>
<path d="M158.40 282.60L159.90 285.30L156.90 285.30Z" fill="#1e3b80"/>
<path d="M141.30 269.25L142.80 271.95L139.80 271.95Z" fill="#1e3b80"/>
<path d="M146.60 269.25L148.10 271.95L145.10 271.95Z" fill="#1e3b80"/>
<path d="M151.60 269.25L153.10 271.95L150.10 271.95Z" fill="#1e3b80"/>
<path d="M146.60 255.90L148.10 258.60L145.10 258.60Z" fill="#1e3b80"/>
<path d="M146.60 229.20L148.10 231.90L145.10 231.90Z" fill="#1e3b80"/>
<g stroke="#222" stroke-width="0.9"><line x1="48.4" y1="283.0" x2="76" y2="283.0"/><line x1="62.2" y1="278.2" x2="62.2" y2="287.4"/><line x1="55.3" y1="278.2" x2="69.1" y2="278.2"/><line x1="55.3" y1="287.4" x2="69.1" y2="287.4"/></g>
<g stroke="#222" stroke-width="0.9"><line x1="90.4" y1="276.3" x2="117.9" y2="276.3"/><line x1="104.4" y1="264" x2="104.4" y2="288"/><line x1="97.3" y1="264" x2="110.6" y2="264"/><line x1="97.3" y1="288" x2="110.6" y2="288"/></g>
<g stroke="#222" stroke-width="0.9"><line x1="132.6" y1="274.6" x2="160.5" y2="274.6"/><line x1="146.6" y1="258" x2="146.6" y2="290.9"/><line x1="139.3" y1="258" x2="153.2" y2="258"/><line x1="139.3" y1="290.9" x2="153.2" y2="290.9"/></g>
<line x1="62.8" y1="297.4" x2="62.8" y2="300.4" stroke="#111" stroke-width="0.9"/>
<g transform="translate(61.8 307.3) rotate(-45)" font-size="5.3" fill="#333" stroke="#333" stroke-width="0.14" text-anchor="end"><text x="0" y="0">Diagnostic</text><text x="0" y="6.8">DLBCL</text></g>
<line x1="104.0" y1="297.4" x2="104.0" y2="300.4" stroke="#111" stroke-width="0.9"/>
<g transform="translate(103.0 307.3) rotate(-45)" font-size="5.3" fill="#333" stroke="#333" stroke-width="0.14" text-anchor="end"><text x="0" y="0">Diagnostic</text><text x="0" y="6.8">rrDLBCL</text></g>
<line x1="146.3" y1="297.4" x2="146.3" y2="300.4" stroke="#111" stroke-width="0.9"/>
<g transform="translate(145.3 307.3) rotate(-45)" font-size="5.3" fill="#333" stroke="#333" stroke-width="0.14" text-anchor="end"><text x="0" y="0">Relapsed</text><text x="0" y="6.8">rrDLBCL</text></g>
<text x="61.80" y="338.40" font-size="6.8" fill="#222" textLength="53.8" lengthAdjust="spacingAndGlyphs" stroke="#222" stroke-width="0.15">Patients by biopsy type</text>
<text x="200.00" y="209.20" font-size="7.7" fill="#222" textLength="130" lengthAdjust="spacingAndGlyphs" stroke="#222" stroke-width="0.12" word-spacing="0.8">HLA-A LOH and Variants and Response</text>
<defs><radialGradient id="gp" cx="0.45" cy="0.42" r="0.58"><stop offset="0" stop-color="#fdfbfe"/><stop offset="0.5" stop-color="#d2bde0"/><stop offset="1" stop-color="#8a64a2"/></radialGradient><radialGradient id="gpx" cx="0.45" cy="0.42" r="0.58"><stop offset="0" stop-color="#e8dcf0"/><stop offset="0.5" stop-color="#b89ccc"/><stop offset="1" stop-color="#6e4a86"/></radialGradient><radialGradient id="gg" cx="0.45" cy="0.42" r="0.58"><stop offset="0" stop-color="#fbfef9"/><stop offset="0.5" stop-color="#b4e0a0"/><stop offset="1" stop-color="#5a9c44"/></radialGradient><radialGradient id="ggx" cx="0.45" cy="0.42" r="0.58"><stop offset="0" stop-color="#e2f4da"/><stop offset="0.5" stop-color="#98cc84"/><stop offset="1" stop-color="#4a8a38"/></radialGradient><radialGradient id="gb" cx="0.45" cy="0.42" r="0.58"><stop offset="0" stop-color="#fbfcfe"/><stop offset="0.5" stop-color="#bcc4e6"/><stop offset="1" stop-color="#6474a8"/></radialGradient><radialGradient id="gbx" cx="0.45" cy="0.42" r="0.58"><stop offset="0" stop-color="#dfe3f4"/><stop offset="0.5" stop-color="#a2acd6"/><stop offset="1" stop-color="#54628f"/></radialGradient></defs>
<circle cx="232.0" cy="231.8" r="3.15" fill="url(#gp)" stroke="#4c3360" stroke-width="0.8"/>
<circle cx="220.2" cy="235.2" r="3.15" fill="url(#gp)" stroke="#4c3360" stroke-width="0.8"/>
<circle cx="226.7" cy="237.3" r="3.15" fill="url(#gp)" stroke="#4c3360" stroke-width="0.8"/>
<circle cx="212.3" cy="238.8" r="3.15" fill="url(#gp)" stroke="#4c3360" stroke-width="0.8"/>
<circle cx="238.7" cy="238.0" r="3.15" fill="url(#gp)" stroke="#4c3360" stroke-width="0.8"/>
<circle cx="232.0" cy="241.9" r="3.15" fill="url(#gp)" stroke="#4c3360" stroke-width="0.8"/>
<circle cx="220.5" cy="244.2" r="3.15" fill="url(#gp)" stroke="#4c3360" stroke-width="0.8"/>
<circle cx="212.3" cy="247.1" r="3.15" fill="url(#gp)" stroke="#4c3360" stroke-width="0.8"/>
<circle cx="241.6" cy="245.7" r="3.15" fill="url(#gp)" stroke="#4c3360" stroke-width="0.8"/>
<circle cx="227.1" cy="249.6" r="3.15" fill="url(#gp)" stroke="#4c3360" stroke-width="0.8"/>
<circle cx="235.4" cy="249.6" r="3.15" fill="url(#gp)" stroke="#4c3360" stroke-width="0.8"/>
<circle cx="219.0" cy="253.2" r="3.15" fill="url(#gp)" stroke="#4c3360" stroke-width="0.8"/>
<circle cx="211.5" cy="254.6" r="3.15" fill="url(#gp)" stroke="#4c3360" stroke-width="0.8"/>
<circle cx="241.8" cy="254.3" r="3.15" fill="url(#gp)" stroke="#4c3360" stroke-width="0.8"/>
<circle cx="234.9" cy="257.5" r="3.15" fill="url(#gp)" stroke="#4c3360" stroke-width="0.8"/>
<circle cx="226.0" cy="258.7" r="3.15" fill="url(#gpx)" stroke="#4c3360" stroke-width="0.8"/>
<path d="M224.65 256.95L227.35 260.45M227.35 256.95L224.65 260.45" stroke="#111" stroke-width="0.95"/>
<circle cx="218.5" cy="261.8" r="3.15" fill="url(#gpx)" stroke="#4c3360" stroke-width="0.8"/>
<path d="M217.15 260.05L219.85 263.55M219.85 260.05L217.15 263.55" stroke="#111" stroke-width="0.95"/>
<circle cx="285.0" cy="229.8" r="3.15" fill="url(#ggx)" stroke="#34652b" stroke-width="0.8"/>
<path d="M283.65 228.05L286.35 231.55M286.35 228.05L283.65 231.55" stroke="#111" stroke-width="0.95"/>
<circle cx="272.0" cy="232.1" r="3.15" fill="url(#gg)" stroke="#34652b" stroke-width="0.8"/>
<circle cx="297.6" cy="232.9" r="3.15" fill="url(#gg)" stroke="#34652b" stroke-width="0.8"/>
<circle cx="263.9" cy="236.0" r="3.15" fill="url(#ggx)" stroke="#34652b" stroke-width="0.8"/>
<path d="M262.05 233.85L264.75 237.35M264.75 233.85L262.05 237.35" stroke="#111" stroke-width="1.0"/>
<path d="M263.15 234.75L265.85 238.25M265.85 234.75L263.15 238.25" stroke="#111" stroke-width="1.0"/>
<circle cx="263.9" cy="236.0" r="1.6" fill="#222" opacity="0.55"/>
<circle cx="280.3" cy="236.8" r="3.15" fill="url(#ggx)" stroke="#34652b" stroke-width="0.8"/>
<path d="M278.95 235.05L281.65 238.55M281.65 235.05L278.95 238.55" stroke="#111" stroke-width="0.95"/>
<circle cx="289.6" cy="236.5" r="3.15" fill="url(#gg)" stroke="#34652b" stroke-width="0.8"/>
<circle cx="272.3" cy="240.8" r="3.15" fill="url(#gg)" stroke="#34652b" stroke-width="0.8"/>
<circle cx="296.1" cy="241.4" r="3.15" fill="url(#gg)" stroke="#34652b" stroke-width="0.8"/>
<circle cx="263.7" cy="244.3" r="3.15" fill="url(#gg)" stroke="#34652b" stroke-width="0.8"/>
<circle cx="278.8" cy="245.4" r="3.15" fill="url(#gg)" stroke="#34652b" stroke-width="0.8"/>
<circle cx="288.5" cy="245.7" r="3.15" fill="url(#ggx)" stroke="#34652b" stroke-width="0.8"/>
<path d="M286.65 243.55L289.35 247.05M289.35 243.55L286.65 247.05" stroke="#111" stroke-width="1.0"/>
<path d="M287.75 244.45L290.45 247.95M290.45 244.45L287.75 247.95" stroke="#111" stroke-width="1.0"/>
<circle cx="288.5" cy="245.7" r="1.6" fill="#222" opacity="0.55"/>
<circle cx="303.3" cy="248.3" r="3.15" fill="url(#ggx)" stroke="#34652b" stroke-width="0.8"/>
<path d="M301.95 246.55L304.65 250.05M304.65 246.55L301.95 250.05" stroke="#111" stroke-width="0.95"/>
<circle cx="271.6" cy="250.0" r="3.15" fill="url(#ggx)" stroke="#34652b" stroke-width="0.8"/>
<path d="M270.25 248.25L272.95 251.75M272.95 248.25L270.25 251.75" stroke="#111" stroke-width="0.95"/>
<circle cx="295.7" cy="251.2" r="3.15" fill="url(#ggx)" stroke="#34652b" stroke-width="0.8"/>
<path d="M294.35 249.45L297.05 252.95M297.05 249.45L294.35 252.95" stroke="#111" stroke-width="0.95"/>
<circle cx="278.4" cy="254.1" r="3.15" fill="url(#ggx)" stroke="#34652b" stroke-width="0.8"/>
<path d="M277.05 252.35L279.75 255.85M279.75 252.35L277.05 255.85" stroke="#111" stroke-width="0.95"/>
<circle cx="288.2" cy="255.2" r="3.15" fill="url(#gg)" stroke="#34652b" stroke-width="0.8"/>
<circle cx="289.7" cy="302.8" r="3.15" fill="url(#gbx)" stroke="#3b4672" stroke-width="0.8"/>
<path d="M288.35 301.05L291.05 304.55M291.05 301.05L288.35 304.55" stroke="#111" stroke-width="0.95"/>
<circle cx="277.7" cy="306.5" r="3.15" fill="url(#gb)" stroke="#3b4672" stroke-width="0.8"/>
<circle cx="284.4" cy="311.1" r="3.15" fill="url(#gb)" stroke="#3b4672" stroke-width="0.8"/>
<circle cx="294.8" cy="309.3" r="3.15" fill="url(#gb)" stroke="#3b4672" stroke-width="0.8"/>
<circle cx="301.3" cy="314.9" r="3.15" fill="url(#gbx)" stroke="#3b4672" stroke-width="0.8"/>
<path d="M299.95 313.15L302.65 316.65M302.65 313.15L299.95 316.65" stroke="#111" stroke-width="0.95"/>
<circle cx="283.7" cy="319.4" r="3.15" fill="url(#gbx)" stroke="#3b4672" stroke-width="0.8"/>
<path d="M282.35 317.65L285.05 321.15M285.05 317.65L282.35 321.15" stroke="#111" stroke-width="0.95"/>
<circle cx="293.4" cy="319.0" r="3.15" fill="url(#gbx)" stroke="#3b4672" stroke-width="0.8"/>
<path d="M291.55 316.85L294.25 320.35M294.25 316.85L291.55 320.35" stroke="#111" stroke-width="1.0"/>
<path d="M292.65 317.75L295.35 321.25M295.35 317.75L292.65 321.25" stroke="#111" stroke-width="1.0"/>
<circle cx="293.4" cy="319.0" r="1.6" fill="#222" opacity="0.55"/>
<circle cx="300.3" cy="324.1" r="3.15" fill="url(#gbx)" stroke="#3b4672" stroke-width="0.8"/>
<path d="M298.95 322.35L301.65 325.85M301.65 322.35L298.95 325.85" stroke="#111" stroke-width="0.95"/>
<text x="238.7" y="265.1" font-size="7.4" fill="#6e4290" stroke="#6e4290" stroke-width="0.2" textLength="15" lengthAdjust="spacingAndGlyphs">2/17</text>
<text x="294.7" y="265.5" font-size="7.4" fill="#80bc60" stroke="#80bc60" stroke-width="0.2" textLength="15.9" lengthAdjust="spacingAndGlyphs">8/16</text>
<text x="286.5" y="335.1" font-size="7.4" fill="#556aa0" stroke="#556aa0" stroke-width="0.2" textLength="11.7" lengthAdjust="spacingAndGlyphs">5/8</text>
<text x="214.40" y="274.90" font-size="5.9" fill="#333" textLength="22.5" lengthAdjust="spacingAndGlyphs" >Complete</text>
<text x="214.40" y="281.30" font-size="5.9" fill="#333" textLength="19.0" lengthAdjust="spacingAndGlyphs" >Durable</text>
<text x="214.40" y="287.70" font-size="5.9" fill="#333" textLength="23.5" lengthAdjust="spacingAndGlyphs" >Response</text>
<line x1="284.4" y1="263.5" x2="284.4" y2="290" stroke="#5a3a17" stroke-width="1.1"/>
<path d="M281.2 287.4L284.4 295.2L287.7 287.4L284.4 289.3Z" fill="#5a3a17"/>
<text x="287.00" y="280.70" font-size="6.2" fill="#444" textLength="18.1" lengthAdjust="spacingAndGlyphs" stroke="#444" stroke-width="0.12">Relapse</text>
<text x="384.70" y="209.00" font-size="7.7" fill="#222" textLength="104.3" lengthAdjust="spacingAndGlyphs" stroke="#222" stroke-width="0.12" word-spacing="0.8">Immunohistochemistry of HLA-A</text>
<defs><clipPath id="cl"><rect x="364.3" y="214.1" width="72.2" height="115.7"/></clipPath><clipPath id="cr"><rect x="436.5" y="214.1" width="72.3" height="115.7"/></clipPath></defs>
<filter id="bl" x="0" y="0" width="1" height="1"><feGaussianBlur stdDeviation="0.5"/></filter>
<g clip-path="url(#cl)"><g filter="url(#bl)"><rect x="361.3" y="211.1" width="78.2" height="121.7" fill="#3e1805"/>
<ellipse cx="361.2" cy="211.3" rx="2.7" ry="2.5" fill="#743611" stroke="#af6329" stroke-width="0.9"/>
<ellipse cx="367.4" cy="211.0" rx="2.8" ry="2.8" fill="#894318" stroke="#ad6128" stroke-width="0.9"/>
<ellipse cx="371.1" cy="211.3" rx="2.5" ry="2.2" fill="#632c0b" stroke="#984f1b" stroke-width="1.0"/>
<ellipse cx="375.1" cy="211.1" rx="2.3" ry="2.1" fill="#743711" stroke="#c87939" stroke-width="0.8"/>
<ellipse cx="381.3" cy="211.9" rx="2.2" ry="2.1" fill="#7f3d14" stroke="#c67838" stroke-width="1.0"/>
<ellipse cx="381.7" cy="212.2" rx="1.4" ry="1.0" fill="#c7c2e4"/>
<ellipse cx="384.7" cy="210.5" rx="2.7" ry="2.3" fill="#944a1b" stroke="#9e541f" stroke-width="1.0"/>
<ellipse cx="389.6" cy="212.0" rx="2.2" ry="1.8" fill="#632c0b" stroke="#af6329" stroke-width="0.9"/>
<ellipse cx="396.1" cy="209.8" rx="2.8" ry="2.7" fill="#713510" stroke="#b66a2e" stroke-width="1.1"/>
<ellipse cx="396.4" cy="209.4" rx="1.5" ry="1.5" fill="#b2add2"/>
<ellipse cx="401.9" cy="212.4" rx="2.2" ry="1.9" fill="#813e15" stroke="#a55a23" stroke-width="1.0"/>
<ellipse cx="401.7" cy="212.5" rx="1.1" ry="1.3" fill="#b0abd1"/>
<ellipse cx="405.8" cy="211.4" rx="2.2" ry="2.0" fill="#833f16" stroke="#ca7b3a" stroke-width="1.0"/>
<ellipse cx="409.3" cy="209.7" rx="2.6" ry="2.4" fill="#8c4519" stroke="#bd6f32" stroke-width="1.2"/>
<ellipse cx="415.3" cy="209.9" rx="2.7" ry="2.5" fill="#793912" stroke="#a65b24" stroke-width="1.2"/>
<ellipse cx="419.2" cy="210.4" rx="2.5" ry="2.2" fill="#954a1c" stroke="#a85d25" stroke-width="0.8"/>
<ellipse cx="423.7" cy="211.0" rx="2.7" ry="2.7" fill="#823f15" stroke="#bb6e31" stroke-width="0.9"/>
<ellipse cx="429.7" cy="212.1" rx="2.1" ry="2.0" fill="#793a12" stroke="#944b18" stroke-width="1.0"/>
<ellipse cx="429.8" cy="211.9" rx="1.2" ry="1.2" fill="#b9b4d8"/>
<ellipse cx="434.9" cy="211.5" rx="2.3" ry="2.4" fill="#954a1c" stroke="#904716" stroke-width="1.1"/>
<ellipse cx="439.7" cy="211.6" rx="2.4" ry="2.4" fill="#6c310e" stroke="#c07234" stroke-width="1.0"/>
<ellipse cx="363.6" cy="214.9" rx="2.2" ry="2.0" fill="#662e0c" stroke="#bf7133" stroke-width="1.2"/>
<ellipse cx="363.5" cy="214.7" rx="1.1" ry="1.4" fill="#9b96bf"/>
<ellipse cx="370.0" cy="216.9" rx="2.7" ry="2.5" fill="#743611" stroke="#a55b23" stroke-width="0.8"/>
<ellipse cx="369.9" cy="216.9" rx="1.9" ry="1.8" fill="#c6c1e3"/>
<ellipse cx="374.5" cy="216.1" rx="2.4" ry="2.5" fill="#70340f" stroke="#994f1c" stroke-width="1.2"/>
<ellipse cx="374.4" cy="216.1" rx="1.3" ry="1.6" fill="#c2bde0"/>
<ellipse cx="377.9" cy="214.7" rx="2.8" ry="2.4" fill="#844016" stroke="#994f1c" stroke-width="1.2"/>
<ellipse cx="378.1" cy="214.6" rx="2.0" ry="1.8" fill="#928db7"/>
<ellipse cx="382.8" cy="214.3" rx="2.6" ry="2.7" fill="#884317" stroke="#944b19" stroke-width="1.0"/>
<ellipse cx="382.6" cy="214.5" rx="1.4" ry="1.3" fill="#9a95be"/>
<ellipse cx="389.0" cy="215.2" rx="2.3" ry="2.0" fill="#8e4619" stroke="#b76a2e" stroke-width="1.1"/>
<ellipse cx="394.1" cy="215.2" rx="2.5" ry="2.6" fill="#713410" stroke="#9a511d" stroke-width="1.1"/>
<ellipse cx="393.8" cy="215.6" rx="1.5" ry="1.4" fill="#b5b0d5"/>
<ellipse cx="399.3" cy="216.5" rx="2.5" ry="2.2" fill="#823f15" stroke="#8e4615" stroke-width="0.9"/>
<ellipse cx="401.6" cy="214.7" rx="2.2" ry="1.9" fill="#8c4519" stroke="#9e541f" stroke-width="0.9"/>
<ellipse cx="409.0" cy="215.4" rx="2.2" ry="1.8" fill="#9a4d1d" stroke="#c67837" stroke-width="1.0"/>
<ellipse cx="414.1" cy="215.2" rx="2.4" ry="2.0" fill="#7c3b13" stroke="#c87939" stroke-width="1.0"/>
<ellipse cx="416.5" cy="215.9" rx="2.4" ry="2.2" fill="#8d4619" stroke="#b66a2e" stroke-width="1.0"/>
<ellipse cx="423.3" cy="214.9" rx="2.6" ry="2.2" fill="#984c1d" stroke="#ad6228" stroke-width="1.1"/>
<ellipse cx="423.1" cy="214.8" rx="1.7" ry="1.6" fill="#b3aed3"/>
<ellipse cx="426.3" cy="215.0" rx="2.7" ry="2.3" fill="#7c3b13" stroke="#9b511d" stroke-width="1.0"/>
<ellipse cx="426.4" cy="215.2" rx="1.7" ry="1.7" fill="#8e89b3"/>
<ellipse cx="433.6" cy="216.2" rx="2.2" ry="2.1" fill="#602a0a" stroke="#954c1a" stroke-width="1.0"/>
<ellipse cx="433.9" cy="215.9" rx="1.6" ry="1.3" fill="#9d98c0"/>
<ellipse cx="436.2" cy="214.8" rx="2.5" ry="2.1" fill="#6d320e" stroke="#bf7133" stroke-width="0.9"/>
<ellipse cx="436.3" cy="214.8" rx="1.4" ry="1.5" fill="#a09bc3"/>
<ellipse cx="360.2" cy="218.7" rx="2.2" ry="1.9" fill="#69300d" stroke="#c17334" stroke-width="0.9"/>
<ellipse cx="367.0" cy="219.0" rx="2.7" ry="2.4" fill="#622c0b" stroke="#bf7133" stroke-width="0.9"/>
<ellipse cx="366.7" cy="219.0" rx="1.8" ry="1.8" fill="#cbc6e7"/>
<ellipse cx="371.3" cy="219.8" rx="2.2" ry="1.8" fill="#8b4418" stroke="#a95e26" stroke-width="0.9"/>
<ellipse cx="375.1" cy="220.5" rx="2.2" ry="2.0" fill="#70340f" stroke="#a55a23" stroke-width="0.8"/>
<ellipse cx="375.3" cy="220.7" rx="1.2" ry="1.1" fill="#ccc7e8"/>
<ellipse cx="379.9" cy="220.3" rx="2.5" ry="2.6" fill="#7a3a13" stroke="#9b521d" stroke-width="0.9"/>
<ellipse cx="380.0" cy="219.9" rx="1.5" ry="1.5" fill="#cbc6e7"/>
<ellipse cx="384.7" cy="219.7" rx="2.1" ry="2.2" fill="#884317" stroke="#a25721" stroke-width="1.0"/>
<ellipse cx="389.9" cy="219.3" rx="2.4" ry="2.2" fill="#91481a" stroke="#a55a23" stroke-width="1.1"/>
<ellipse cx="389.6" cy="219.3" rx="1.3" ry="1.2" fill="#a29dc5"/>
<ellipse cx="396.9" cy="220.7" rx="2.3" ry="2.1" fill="#713510" stroke="#aa5f26" stroke-width="1.2"/>
<ellipse cx="400.0" cy="221.0" rx="2.7" ry="2.2" fill="#753711" stroke="#994f1c" stroke-width="1.1"/>
<ellipse cx="399.6" cy="220.7" rx="1.5" ry="1.5" fill="#9d98c1"/>
<ellipse cx="404.6" cy="219.6" rx="2.7" ry="2.4" fill="#6f330f" stroke="#ba6d30" stroke-width="0.9"/>
<ellipse cx="411.3" cy="220.3" rx="2.4" ry="2.4" fill="#8a4418" stroke="#bd7032" stroke-width="0.8"/>
<ellipse cx="411.0" cy="220.6" rx="1.3" ry="1.5" fill="#a49fc7"/>
<ellipse cx="414.1" cy="221.3" rx="2.5" ry="2.1" fill="#763811" stroke="#8f4716" stroke-width="0.8"/>
<ellipse cx="413.7" cy="221.1" rx="1.5" ry="1.4" fill="#b2add2"/>
<ellipse cx="419.3" cy="219.2" rx="2.2" ry="2.2" fill="#6e330f" stroke="#b96c30" stroke-width="1.1"/>
<ellipse cx="419.1" cy="219.4" rx="1.3" ry="1.2" fill="#9994bd"/>
<ellipse cx="425.8" cy="219.4" rx="2.7" ry="2.4" fill="#70340f" stroke="#9a511d" stroke-width="0.9"/>
<ellipse cx="425.9" cy="219.5" rx="1.8" ry="1.8" fill="#8d88b3"/>
<ellipse cx="429.3" cy="218.7" rx="2.3" ry="2.0" fill="#964b1c" stroke="#b76a2e" stroke-width="1.1"/>
<ellipse cx="433.7" cy="220.1" rx="2.8" ry="2.7" fill="#6d320e" stroke="#c47636" stroke-width="0.8"/>
<ellipse cx="433.3" cy="220.0" rx="1.6" ry="1.6" fill="#a5a0c7"/>
<ellipse cx="439.0" cy="220.2" rx="2.3" ry="2.1" fill="#773812" stroke="#964d1a" stroke-width="0.9"/>
<ellipse cx="363.4" cy="224.2" rx="2.3" ry="2.1" fill="#733610" stroke="#924917" stroke-width="0.9"/>
<ellipse cx="369.9" cy="224.3" rx="2.6" ry="2.1" fill="#894318" stroke="#af642a" stroke-width="1.0"/>
<ellipse cx="369.9" cy="223.9" rx="1.6" ry="1.5" fill="#908bb5"/>
<ellipse cx="373.8" cy="225.3" rx="2.4" ry="2.0" fill="#6e330f" stroke="#a15621" stroke-width="0.9"/>
<ellipse cx="377.6" cy="223.3" rx="2.5" ry="2.1" fill="#874217" stroke="#9d531e" stroke-width="1.0"/>
<ellipse cx="384.5" cy="225.2" rx="2.8" ry="2.9" fill="#813e15" stroke="#a35922" stroke-width="1.1"/>
<ellipse cx="387.5" cy="223.4" rx="2.5" ry="2.2" fill="#773812" stroke="#a65b24" stroke-width="1.1"/>
<ellipse cx="393.8" cy="225.5" rx="2.4" ry="2.0" fill="#612b0a" stroke="#c77838" stroke-width="1.0"/>
<ellipse cx="394.2" cy="225.3" rx="1.3" ry="1.2" fill="#a39ec5"/>
<ellipse cx="397.2" cy="225.6" rx="2.6" ry="2.4" fill="#5f2a0a" stroke="#9b511d" stroke-width="1.0"/>
<ellipse cx="397.3" cy="225.6" rx="1.6" ry="1.5" fill="#aca7cd"/>
<ellipse cx="404.0" cy="224.6" rx="2.7" ry="2.4" fill="#733610" stroke="#ca7c3a" stroke-width="1.2"/>
<ellipse cx="404.2" cy="224.7" rx="1.9" ry="1.7" fill="#bab5d9"/>
<ellipse cx="407.6" cy="223.2" rx="2.2" ry="2.1" fill="#7c3b13" stroke="#b4682c" stroke-width="0.9"/>
<ellipse cx="407.7" cy="223.0" rx="1.2" ry="1.2" fill="#bcb7db"/>
<ellipse cx="411.5" cy="225.6" rx="2.2" ry="1.8" fill="#662e0c" stroke="#ad6128" stroke-width="0.8"/>
<ellipse cx="411.1" cy="225.6" rx="1.5" ry="1.2" fill="#b9b4d8"/>
<ellipse cx="416.9" cy="224.9" rx="2.2" ry="1.8" fill="#93491b" stroke="#c47636" stroke-width="0.9"/>
<ellipse cx="421.9" cy="225.2" rx="2.7" ry="2.3" fill="#894318" stroke="#a55a23" stroke-width="1.1"/>
<ellipse cx="422.1" cy="225.5" rx="1.8" ry="1.5" fill="#a19cc4"/>
<ellipse cx="427.7" cy="223.7" rx="2.4" ry="2.4" fill="#844016" stroke="#b96d30" stroke-width="1.1"/>
<ellipse cx="427.9" cy="223.5" rx="1.3" ry="1.1" fill="#a49fc6"/>
<ellipse cx="431.4" cy="224.9" rx="2.5" ry="2.1" fill="#994c1d" stroke="#c97a39" stroke-width="1.1"/>
<ellipse cx="431.4" cy="225.3" rx="1.8" ry="1.2" fill="#b5b0d4"/>
<ellipse cx="436.0" cy="223.5" rx="2.6" ry="2.3" fill="#612b0a" stroke="#934a18" stroke-width="1.1"/>
<ellipse cx="361.5" cy="229.7" rx="2.2" ry="2.0" fill="#602a0a" stroke="#a15721" stroke-width="1.0"/>
<ellipse cx="361.7" cy="230.0" rx="1.2" ry="1.2" fill="#a09bc3"/>
<ellipse cx="366.5" cy="228.1" rx="2.5" ry="2.3" fill="#994d1d" stroke="#bd7032" stroke-width="1.1"/>
<ellipse cx="372.3" cy="227.9" rx="2.7" ry="2.2" fill="#69300d" stroke="#954c19" stroke-width="1.2"/>
<ellipse cx="372.0" cy="227.7" rx="1.3" ry="1.5" fill="#aba6cc"/>
<ellipse cx="374.6" cy="228.1" rx="2.2" ry="1.9" fill="#6f330f" stroke="#b4682d" stroke-width="1.0"/>
<ellipse cx="374.3" cy="227.7" rx="1.5" ry="1.1" fill="#9c97c0"/>
<ellipse cx="380.7" cy="227.5" rx="2.2" ry="2.3" fill="#7c3b13" stroke="#974e1b" stroke-width="0.9"/>
<ellipse cx="384.9" cy="228.3" rx="2.4" ry="2.2" fill="#8f471a" stroke="#a65c24" stroke-width="0.8"/>
<ellipse cx="390.9" cy="227.7" rx="2.6" ry="2.6" fill="#6f330f" stroke="#b4682c" stroke-width="1.1"/>
<ellipse cx="395.2" cy="229.8" rx="2.4" ry="2.0" fill="#8a4418" stroke="#c27435" stroke-width="0.8"/>
<ellipse cx="394.9" cy="229.7" rx="1.6" ry="1.3" fill="#938eb8"/>
<ellipse cx="401.8" cy="229.1" rx="2.5" ry="2.6" fill="#6b310e" stroke="#8c4414" stroke-width="0.8"/>
<ellipse cx="405.9" cy="228.9" rx="2.7" ry="2.4" fill="#8b4418" stroke="#bf7133" stroke-width="1.1"/>
<ellipse cx="409.3" cy="227.4" rx="2.6" ry="2.7" fill="#652d0c" stroke="#cc7d3b" stroke-width="1.0"/>
<ellipse cx="413.9" cy="229.8" rx="2.3" ry="2.1" fill="#602a0a" stroke="#c77838" stroke-width="0.9"/>
<ellipse cx="414.0" cy="230.1" rx="1.3" ry="1.4" fill="#a49fc6"/>
<ellipse cx="420.7" cy="230.0" rx="2.3" ry="2.1" fill="#954a1c" stroke="#9e541f" stroke-width="0.8"/>
<ellipse cx="420.4" cy="230.2" rx="1.5" ry="1.4" fill="#bcb7da"/>
<ellipse cx="423.7" cy="229.1" rx="2.2" ry="2.0" fill="#672f0c" stroke="#924a18" stroke-width="1.0"/>
<ellipse cx="423.6" cy="228.9" rx="1.4" ry="1.5" fill="#aca7cd"/>
<ellipse cx="429.9" cy="229.3" rx="2.2" ry="2.2" fill="#723510" stroke="#c57737" stroke-width="0.8"/>
<ellipse cx="434.3" cy="230.1" rx="2.4" ry="2.2" fill="#6c310e" stroke="#ca7b3a" stroke-width="1.1"/>
<ellipse cx="434.4" cy="230.5" rx="1.4" ry="1.2" fill="#9d98c1"/>
<ellipse cx="438.5" cy="228.8" rx="2.4" ry="2.3" fill="#672f0c" stroke="#cc7d3b" stroke-width="1.0"/>
<ellipse cx="364.4" cy="234.2" rx="2.2" ry="2.3" fill="#94491b" stroke="#b4672c" stroke-width="1.1"/>
<ellipse cx="369.3" cy="233.7" rx="2.5" ry="2.4" fill="#91481a" stroke="#934a18" stroke-width="1.0"/>
<ellipse cx="374.4" cy="234.3" rx="2.4" ry="2.3" fill="#6c320e" stroke="#a55a23" stroke-width="1.0"/>
<ellipse cx="378.0" cy="233.6" rx="2.1" ry="2.0" fill="#793a12" stroke="#b4682d" stroke-width="1.0"/>
<ellipse cx="384.5" cy="234.1" rx="2.2" ry="2.2" fill="#9a4d1d" stroke="#aa5f26" stroke-width="0.9"/>
<ellipse cx="388.0" cy="233.9" rx="2.8" ry="2.3" fill="#93491b" stroke="#a65b24" stroke-width="1.2"/>
<ellipse cx="388.3" cy="234.0" rx="2.0" ry="1.8" fill="#9b96be"/>
<ellipse cx="394.2" cy="233.3" rx="2.7" ry="2.2" fill="#9a4d1d" stroke="#ad6128" stroke-width="1.1"/>
<ellipse cx="398.4" cy="232.8" rx="2.3" ry="2.1" fill="#7a3a13" stroke="#c07234" stroke-width="1.1"/>
<ellipse cx="398.5" cy="232.4" rx="1.4" ry="1.4" fill="#9e99c1"/>
<ellipse cx="403.2" cy="233.4" rx="2.4" ry="2.5" fill="#8e4619" stroke="#9b521d" stroke-width="1.1"/>
<ellipse cx="406.7" cy="233.5" rx="2.7" ry="2.4" fill="#682f0d" stroke="#bf7233" stroke-width="0.8"/>
<ellipse cx="407.0" cy="233.8" rx="1.4" ry="1.3" fill="#a29dc5"/>
<ellipse cx="414.1" cy="234.2" rx="2.4" ry="2.4" fill="#844016" stroke="#c37535" stroke-width="0.8"/>
<ellipse cx="418.3" cy="232.8" rx="2.2" ry="2.2" fill="#93491b" stroke="#b4682d" stroke-width="0.9"/>
<ellipse cx="423.2" cy="233.3" rx="2.4" ry="2.1" fill="#733610" stroke="#8c4414" stroke-width="1.1"/>
<ellipse cx="423.4" cy="233.1" rx="1.3" ry="1.5" fill="#b3aed3"/>
<ellipse cx="427.3" cy="234.0" rx="2.4" ry="2.5" fill="#652e0c" stroke="#944b19" stroke-width="1.0"/>
<ellipse cx="427.7" cy="234.2" rx="1.6" ry="1.3" fill="#9893bc"/>
<ellipse cx="431.2" cy="233.8" rx="2.3" ry="2.2" fill="#672f0c" stroke="#a65b24" stroke-width="1.0"/>
<ellipse cx="435.9" cy="233.4" rx="2.4" ry="2.5" fill="#7d3c14" stroke="#a95e26" stroke-width="0.9"/>
<ellipse cx="361.2" cy="236.7" rx="2.3" ry="2.3" fill="#70340f" stroke="#b1652b" stroke-width="0.9"/>
<ellipse cx="366.8" cy="237.5" rx="2.6" ry="2.3" fill="#974b1c" stroke="#a95e26" stroke-width="1.1"/>
<ellipse cx="371.4" cy="238.7" rx="2.4" ry="2.1" fill="#783912" stroke="#904716" stroke-width="1.0"/>
<ellipse cx="375.3" cy="236.1" rx="2.3" ry="2.0" fill="#874217" stroke="#b96c2f" stroke-width="1.0"/>
<ellipse cx="375.1" cy="236.1" rx="1.3" ry="1.5" fill="#c6c1e3"/>
<ellipse cx="380.3" cy="238.0" rx="2.7" ry="2.2" fill="#7f3d14" stroke="#b2662b" stroke-width="1.2"/>
<ellipse cx="380.2" cy="238.2" rx="1.7" ry="1.4" fill="#a39ec5"/>
<ellipse cx="385.0" cy="236.6" rx="2.7" ry="2.6" fill="#602a0a" stroke="#c97b39" stroke-width="1.0"/>
<ellipse cx="384.8" cy="236.7" rx="1.7" ry="1.8" fill="#aaa5cb"/>
<ellipse cx="391.8" cy="237.9" rx="2.8" ry="2.8" fill="#763811" stroke="#cc7d3b" stroke-width="1.1"/>
<ellipse cx="395.4" cy="238.6" rx="2.8" ry="2.5" fill="#7a3a13" stroke="#904716" stroke-width="1.1"/>
<ellipse cx="395.2" cy="238.5" rx="1.5" ry="1.5" fill="#ccc7e8"/>
<ellipse cx="400.0" cy="238.0" rx="2.6" ry="2.5" fill="#69300d" stroke="#914817" stroke-width="1.0"/>
<ellipse cx="404.6" cy="237.3" rx="2.3" ry="2.3" fill="#8a4418" stroke="#c07334" stroke-width="0.8"/>
<ellipse cx="404.8" cy="237.7" rx="1.6" ry="1.0" fill="#8d88b2"/>
<ellipse cx="411.2" cy="238.7" rx="2.3" ry="1.9" fill="#7f3d14" stroke="#ae6329" stroke-width="1.1"/>
<ellipse cx="410.9" cy="238.7" rx="1.2" ry="1.1" fill="#aca7cd"/>
<ellipse cx="416.3" cy="237.2" rx="2.5" ry="2.1" fill="#8d4519" stroke="#9f551f" stroke-width="1.0"/>
<ellipse cx="416.2" cy="237.2" rx="1.5" ry="1.6" fill="#9a95bd"/>
<ellipse cx="420.3" cy="237.0" rx="2.2" ry="2.3" fill="#682f0d" stroke="#c37536" stroke-width="1.0"/>
<ellipse cx="420.6" cy="237.4" rx="1.3" ry="1.0" fill="#b3aed3"/>
<ellipse cx="424.0" cy="237.5" rx="2.2" ry="2.2" fill="#8b4418" stroke="#c17334" stroke-width="0.9"/>
<ellipse cx="430.8" cy="238.5" rx="2.1" ry="2.2" fill="#713410" stroke="#934a18" stroke-width="1.1"/>
<ellipse cx="435.4" cy="238.8" rx="2.1" ry="1.8" fill="#632c0b" stroke="#a75c24" stroke-width="0.8"/>
<ellipse cx="439.1" cy="236.6" rx="2.3" ry="2.4" fill="#864117" stroke="#ab6027" stroke-width="1.2"/>
<ellipse cx="363.6" cy="241.3" rx="2.5" ry="2.1" fill="#763811" stroke="#c67838" stroke-width="1.1"/>
<ellipse cx="363.6" cy="241.3" rx="1.4" ry="1.3" fill="#a39ec6"/>
<ellipse cx="367.8" cy="241.7" rx="2.4" ry="2.0" fill="#91481a" stroke="#8f4615" stroke-width="1.0"/>
<ellipse cx="373.9" cy="241.9" rx="2.4" ry="2.1" fill="#642d0b" stroke="#9a501c" stroke-width="0.9"/>
<ellipse cx="374.1" cy="241.9" rx="1.2" ry="1.3" fill="#9a95be"/>
<ellipse cx="377.9" cy="242.8" rx="2.8" ry="2.9" fill="#823f15" stroke="#8c4414" stroke-width="0.9"/>
<ellipse cx="384.7" cy="241.8" rx="2.4" ry="2.2" fill="#833f16" stroke="#9f5520" stroke-width="0.9"/>
<ellipse cx="384.9" cy="241.4" rx="1.2" ry="1.2" fill="#ada8ce"/>
<ellipse cx="387.1" cy="240.6" rx="2.3" ry="2.3" fill="#783912" stroke="#bf7233" stroke-width="1.0"/>
<ellipse cx="386.7" cy="241.0" rx="1.6" ry="1.2" fill="#b8b3d7"/>
<ellipse cx="394.2" cy="240.6" rx="2.3" ry="2.2" fill="#8e4619" stroke="#c17334" stroke-width="0.8"/>
<ellipse cx="398.6" cy="242.1" rx="2.1" ry="2.2" fill="#803d15" stroke="#b4682c" stroke-width="1.1"/>
<ellipse cx="398.8" cy="242.2" rx="1.1" ry="1.3" fill="#c8c3e5"/>
<ellipse cx="402.4" cy="242.7" rx="2.4" ry="2.5" fill="#9a4d1d" stroke="#b86b2f" stroke-width="0.8"/>
<ellipse cx="406.5" cy="240.9" rx="2.4" ry="2.2" fill="#753711" stroke="#bc6f32" stroke-width="1.0"/>
<ellipse cx="406.7" cy="240.5" rx="1.3" ry="1.5" fill="#a09bc3"/>
<ellipse cx="412.6" cy="240.6" rx="2.6" ry="2.1" fill="#652e0c" stroke="#af6329" stroke-width="0.9"/>
<ellipse cx="418.6" cy="241.2" rx="2.5" ry="2.3" fill="#6b310e" stroke="#c77938" stroke-width="1.0"/>
<ellipse cx="421.5" cy="240.6" rx="2.2" ry="1.8" fill="#7b3b13" stroke="#c47636" stroke-width="1.0"/>
<ellipse cx="421.9" cy="240.6" rx="1.4" ry="1.2" fill="#b7b2d7"/>
<ellipse cx="427.8" cy="241.8" rx="2.6" ry="2.2" fill="#8b4418" stroke="#924a18" stroke-width="1.0"/>
<ellipse cx="427.5" cy="241.6" rx="1.7" ry="1.5" fill="#a29dc5"/>
<ellipse cx="432.7" cy="242.3" rx="2.4" ry="2.1" fill="#91481a" stroke="#b1652a" stroke-width="1.0"/>
<ellipse cx="432.6" cy="242.5" rx="1.3" ry="1.2" fill="#cbc6e7"/>
<ellipse cx="438.1" cy="243.2" rx="2.6" ry="2.1" fill="#6e330f" stroke="#b1652a" stroke-width="1.1"/>
<ellipse cx="438.1" cy="243.3" rx="1.6" ry="1.8" fill="#bab5d9"/>
<ellipse cx="361.8" cy="245.5" rx="2.7" ry="2.3" fill="#7c3b13" stroke="#a95e26" stroke-width="1.1"/>
<ellipse cx="362.1" cy="245.1" rx="1.8" ry="1.6" fill="#9f9ac2"/>
<ellipse cx="366.1" cy="245.4" rx="2.5" ry="2.6" fill="#682f0d" stroke="#a15721" stroke-width="1.1"/>
<ellipse cx="369.7" cy="246.2" rx="2.2" ry="1.8" fill="#6c310e" stroke="#be7133" stroke-width="1.0"/>
<ellipse cx="376.6" cy="245.4" rx="2.2" ry="2.2" fill="#813e15" stroke="#bd7032" stroke-width="1.2"/>
<ellipse cx="380.3" cy="245.9" rx="2.4" ry="2.1" fill="#8a4318" stroke="#c97b3a" stroke-width="1.1"/>
<ellipse cx="386.4" cy="246.4" rx="2.3" ry="2.1" fill="#602a0a" stroke="#9c521d" stroke-width="0.9"/>
<ellipse cx="386.1" cy="246.3" rx="1.3" ry="1.2" fill="#9c97bf"/>
<ellipse cx="391.0" cy="247.0" rx="2.3" ry="1.9" fill="#93491b" stroke="#ad6128" stroke-width="1.1"/>
<ellipse cx="395.3" cy="247.1" rx="2.5" ry="2.4" fill="#8b4418" stroke="#af6329" stroke-width="1.1"/>
<ellipse cx="401.6" cy="245.1" rx="2.6" ry="2.7" fill="#622b0b" stroke="#9c531e" stroke-width="0.9"/>
<ellipse cx="406.6" cy="246.9" rx="2.3" ry="2.2" fill="#753711" stroke="#a95e26" stroke-width="1.2"/>
<ellipse cx="409.3" cy="246.2" rx="2.5" ry="2.6" fill="#6c320e" stroke="#a25821" stroke-width="0.8"/>
<ellipse cx="415.6" cy="247.4" rx="2.6" ry="2.1" fill="#954a1c" stroke="#904816" stroke-width="1.0"/>
<ellipse cx="415.4" cy="247.7" rx="1.3" ry="1.5" fill="#ccc7e8"/>
<ellipse cx="419.8" cy="246.5" rx="2.1" ry="2.2" fill="#813e15" stroke="#8d4515" stroke-width="1.1"/>
<ellipse cx="426.1" cy="247.1" rx="2.6" ry="2.5" fill="#632c0b" stroke="#ad6228" stroke-width="0.9"/>
<ellipse cx="431.1" cy="246.2" rx="2.3" ry="2.3" fill="#6a310d" stroke="#ac6027" stroke-width="1.0"/>
<ellipse cx="431.1" cy="246.2" rx="1.7" ry="1.4" fill="#918cb6"/>
<ellipse cx="435.2" cy="245.5" rx="2.2" ry="2.1" fill="#733610" stroke="#9f5520" stroke-width="1.2"/>
<ellipse cx="440.3" cy="247.2" rx="2.8" ry="2.9" fill="#92481b" stroke="#c87939" stroke-width="0.8"/>
<ellipse cx="440.5" cy="247.3" rx="1.8" ry="1.8" fill="#b2add2"/>
<ellipse cx="364.1" cy="251.3" rx="2.2" ry="1.7" fill="#984c1d" stroke="#ad6228" stroke-width="0.8"/>
<ellipse cx="367.8" cy="251.8" rx="2.8" ry="2.8" fill="#602b0a" stroke="#8d4514" stroke-width="1.1"/>
<ellipse cx="374.9" cy="252.0" rx="2.5" ry="2.0" fill="#8f471a" stroke="#bd6f32" stroke-width="0.8"/>
<ellipse cx="378.6" cy="251.5" rx="2.8" ry="2.5" fill="#773812" stroke="#c27435" stroke-width="0.9"/>
<ellipse cx="378.4" cy="251.6" rx="1.7" ry="1.5" fill="#beb9dc"/>
<ellipse cx="382.8" cy="251.8" rx="2.6" ry="2.6" fill="#6d320e" stroke="#a95e26" stroke-width="0.9"/>
<ellipse cx="382.8" cy="252.1" rx="1.5" ry="1.3" fill="#9c97bf"/>
<ellipse cx="389.2" cy="250.3" rx="2.6" ry="2.2" fill="#7e3c14" stroke="#9c531e" stroke-width="1.2"/>
<ellipse cx="389.1" cy="250.1" rx="1.7" ry="1.5" fill="#9b96be"/>
<ellipse cx="392.0" cy="250.5" rx="2.7" ry="2.6" fill="#632c0b" stroke="#af6329" stroke-width="0.9"/>
<ellipse cx="392.4" cy="250.4" rx="1.5" ry="1.7" fill="#a6a1c8"/>
<ellipse cx="398.2" cy="251.5" rx="2.8" ry="2.8" fill="#672e0c" stroke="#a55a23" stroke-width="1.1"/>
<ellipse cx="398.1" cy="251.3" rx="1.8" ry="1.7" fill="#bfbadd"/>
<ellipse cx="402.9" cy="249.4" rx="2.4" ry="2.2" fill="#5f2a0a" stroke="#c17334" stroke-width="1.0"/>
<ellipse cx="402.6" cy="249.1" rx="1.7" ry="1.6" fill="#c7c2e4"/>
<ellipse cx="408.7" cy="249.5" rx="2.8" ry="2.3" fill="#964b1c" stroke="#a25721" stroke-width="1.1"/>
<ellipse cx="413.6" cy="249.8" rx="2.2" ry="2.3" fill="#874217" stroke="#944b19" stroke-width="1.1"/>
<ellipse cx="417.2" cy="251.5" rx="2.4" ry="2.1" fill="#662e0c" stroke="#a45922" stroke-width="1.2"/>
<ellipse cx="417.1" cy="251.1" rx="1.4" ry="1.2" fill="#9893bc"/>
<ellipse cx="421.5" cy="249.7" rx="2.2" ry="2.1" fill="#7f3d14" stroke="#ae6229" stroke-width="1.1"/>
<ellipse cx="427.5" cy="251.3" rx="2.8" ry="2.3" fill="#6c320e" stroke="#914817" stroke-width="0.9"/>
<ellipse cx="433.3" cy="251.2" rx="2.7" ry="2.4" fill="#682f0d" stroke="#ac6128" stroke-width="1.0"/>
<ellipse cx="433.7" cy="251.2" rx="1.7" ry="1.8" fill="#bfbadd"/>
<ellipse cx="438.5" cy="250.7" rx="2.4" ry="2.5" fill="#974b1c" stroke="#984f1b" stroke-width="0.8"/>
<ellipse cx="362.6" cy="253.9" rx="2.4" ry="2.0" fill="#682f0d" stroke="#8f4716" stroke-width="1.1"/>
<ellipse cx="362.3" cy="254.2" rx="1.5" ry="1.4" fill="#8d88b3"/>
<ellipse cx="365.4" cy="255.2" rx="2.4" ry="2.1" fill="#5f2a0a" stroke="#974e1b" stroke-width="0.8"/>
<ellipse cx="365.3" cy="255.2" rx="1.5" ry="1.3" fill="#b4afd4"/>
<ellipse cx="370.5" cy="255.7" rx="2.3" ry="2.1" fill="#813e15" stroke="#c57737" stroke-width="1.0"/>
<ellipse cx="370.8" cy="255.5" rx="1.7" ry="1.5" fill="#a19cc4"/>
<ellipse cx="376.4" cy="255.2" rx="2.7" ry="2.8" fill="#7d3c14" stroke="#964d1a" stroke-width="0.9"/>
<ellipse cx="376.2" cy="255.2" rx="1.5" ry="1.8" fill="#bbb6d9"/>
<ellipse cx="381.9" cy="255.3" rx="2.3" ry="2.0" fill="#884217" stroke="#924917" stroke-width="1.0"/>
<ellipse cx="381.9" cy="255.2" rx="1.2" ry="1.3" fill="#c7c2e4"/>
<ellipse cx="385.3" cy="254.8" rx="2.3" ry="2.1" fill="#844016" stroke="#b1652a" stroke-width="0.8"/>
<ellipse cx="385.4" cy="255.1" rx="1.3" ry="1.3" fill="#aba6cc"/>
<ellipse cx="391.7" cy="256.2" rx="2.2" ry="2.2" fill="#6d320e" stroke="#bf7233" stroke-width="1.1"/>
<ellipse cx="391.7" cy="256.2" rx="1.3" ry="1.4" fill="#c6c1e3"/>
<ellipse cx="394.8" cy="256.1" rx="2.4" ry="2.5" fill="#70340f" stroke="#ab5f27" stroke-width="1.0"/>
<ellipse cx="394.6" cy="256.3" rx="1.7" ry="1.6" fill="#9893bc"/>
<ellipse cx="401.8" cy="255.2" rx="2.7" ry="2.7" fill="#8e4619" stroke="#b86b2f" stroke-width="1.1"/>
<ellipse cx="405.6" cy="254.3" rx="2.2" ry="1.9" fill="#713410" stroke="#c07334" stroke-width="1.2"/>
<ellipse cx="405.5" cy="254.5" rx="1.4" ry="1.5" fill="#ada8ce"/>
<ellipse cx="410.4" cy="255.1" rx="2.8" ry="2.7" fill="#622c0b" stroke="#b5692d" stroke-width="0.8"/>
<ellipse cx="415.5" cy="253.8" rx="2.7" ry="2.6" fill="#6a300d" stroke="#a05620" stroke-width="1.1"/>
<ellipse cx="421.4" cy="255.1" rx="2.5" ry="2.1" fill="#8a4418" stroke="#944b19" stroke-width="1.1"/>
<ellipse cx="424.7" cy="255.9" rx="2.6" ry="2.7" fill="#813e15" stroke="#c47636" stroke-width="1.1"/>
<ellipse cx="424.6" cy="255.6" rx="1.4" ry="1.7" fill="#a49fc7"/>
<ellipse cx="430.1" cy="255.1" rx="2.3" ry="2.2" fill="#8d4519" stroke="#b6692e" stroke-width="1.0"/>
<ellipse cx="429.8" cy="255.2" rx="1.5" ry="1.5" fill="#9d98c1"/>
<ellipse cx="435.3" cy="253.9" rx="2.3" ry="2.0" fill="#954a1c" stroke="#c87939" stroke-width="1.2"/>
<ellipse cx="439.8" cy="254.9" rx="2.8" ry="2.4" fill="#723510" stroke="#be7032" stroke-width="1.0"/>
<ellipse cx="440.1" cy="254.9" rx="1.7" ry="1.7" fill="#8e89b3"/>
<ellipse cx="365.0" cy="260.7" rx="2.3" ry="2.0" fill="#813e15" stroke="#984f1b" stroke-width="0.9"/>
<ellipse cx="364.9" cy="260.7" rx="1.6" ry="1.4" fill="#8f8ab4"/>
<ellipse cx="368.0" cy="259.4" rx="2.4" ry="2.2" fill="#6d320e" stroke="#a65b24" stroke-width="1.2"/>
<ellipse cx="368.2" cy="259.6" rx="1.5" ry="1.4" fill="#a8a3c9"/>
<ellipse cx="372.5" cy="259.3" rx="2.8" ry="2.6" fill="#6e330f" stroke="#c67838" stroke-width="1.2"/>
<ellipse cx="379.3" cy="260.6" rx="2.2" ry="1.9" fill="#622c0b" stroke="#bd7032" stroke-width="1.0"/>
<ellipse cx="379.5" cy="260.5" rx="1.5" ry="1.3" fill="#bab5d9"/>
<ellipse cx="383.3" cy="259.0" rx="2.6" ry="2.1" fill="#783912" stroke="#a95e26" stroke-width="1.0"/>
<ellipse cx="387.4" cy="259.8" rx="2.7" ry="2.4" fill="#632c0b" stroke="#8f4716" stroke-width="1.1"/>
<ellipse cx="387.3" cy="259.9" rx="1.8" ry="1.5" fill="#948fb9"/>
<ellipse cx="394.3" cy="258.5" rx="2.6" ry="2.1" fill="#834016" stroke="#b86b2f" stroke-width="1.1"/>
<ellipse cx="394.3" cy="258.1" rx="1.3" ry="1.4" fill="#8f8ab5"/>
<ellipse cx="398.8" cy="258.2" rx="2.4" ry="2.5" fill="#984c1d" stroke="#924a18" stroke-width="1.0"/>
<ellipse cx="402.1" cy="258.7" rx="2.3" ry="2.0" fill="#662e0c" stroke="#cb7d3b" stroke-width="0.9"/>
<ellipse cx="408.4" cy="259.0" rx="2.5" ry="2.5" fill="#763811" stroke="#a65b24" stroke-width="0.9"/>
<ellipse cx="412.3" cy="259.8" rx="2.6" ry="2.4" fill="#743711" stroke="#a95e25" stroke-width="1.0"/>
<ellipse cx="412.3" cy="259.7" rx="1.7" ry="1.4" fill="#b4afd4"/>
<ellipse cx="416.5" cy="260.1" rx="2.4" ry="2.2" fill="#7a3a13" stroke="#c57737" stroke-width="1.2"/>
<ellipse cx="421.5" cy="259.5" rx="2.6" ry="2.6" fill="#874217" stroke="#a65b24" stroke-width="0.9"/>
<ellipse cx="426.8" cy="258.7" rx="2.8" ry="2.5" fill="#874217" stroke="#b66a2e" stroke-width="1.1"/>
<ellipse cx="426.8" cy="259.0" rx="1.6" ry="1.7" fill="#beb9dc"/>
<ellipse cx="432.4" cy="259.3" rx="2.1" ry="1.8" fill="#8c4519" stroke="#a75c24" stroke-width="1.0"/>
<ellipse cx="432.8" cy="259.1" rx="1.5" ry="1.0" fill="#a5a0c7"/>
<ellipse cx="436.9" cy="259.3" rx="2.5" ry="2.3" fill="#91481a" stroke="#c17334" stroke-width="1.0"/>
<ellipse cx="361.4" cy="262.9" rx="2.6" ry="2.3" fill="#813e15" stroke="#bc6f31" stroke-width="1.1"/>
<ellipse cx="365.4" cy="264.3" rx="2.5" ry="2.5" fill="#672e0c" stroke="#cc7d3b" stroke-width="0.9"/>
<ellipse cx="371.5" cy="264.0" rx="2.8" ry="2.6" fill="#813e15" stroke="#9d531e" stroke-width="1.0"/>
<ellipse cx="371.8" cy="264.1" rx="1.6" ry="1.8" fill="#b4afd4"/>
<ellipse cx="377.0" cy="264.2" rx="2.4" ry="2.2" fill="#833f16" stroke="#954c19" stroke-width="1.0"/>
<ellipse cx="381.9" cy="263.2" rx="2.5" ry="2.5" fill="#743611" stroke="#c97b3a" stroke-width="0.8"/>
<ellipse cx="382.1" cy="263.4" rx="1.5" ry="1.3" fill="#b8b3d8"/>
<ellipse cx="386.5" cy="264.8" rx="2.4" ry="2.1" fill="#602a0a" stroke="#ae6329" stroke-width="1.1"/>
<ellipse cx="386.8" cy="265.1" rx="1.3" ry="1.2" fill="#a09bc3"/>
<ellipse cx="391.8" cy="263.4" rx="2.2" ry="2.1" fill="#8e4619" stroke="#914817" stroke-width="0.9"/>
<ellipse cx="391.4" cy="263.6" rx="1.5" ry="1.1" fill="#b9b4d8"/>
<ellipse cx="395.1" cy="265.1" rx="2.6" ry="2.6" fill="#733610" stroke="#b96c2f" stroke-width="0.9"/>
<ellipse cx="395.0" cy="265.3" rx="1.6" ry="1.5" fill="#a09bc3"/>
<ellipse cx="399.7" cy="265.3" rx="2.8" ry="2.7" fill="#6c320e" stroke="#9a501c" stroke-width="0.9"/>
<ellipse cx="406.5" cy="262.9" rx="2.3" ry="2.4" fill="#783912" stroke="#a85d25" stroke-width="1.2"/>
<ellipse cx="409.6" cy="264.5" rx="2.2" ry="1.9" fill="#894318" stroke="#a35822" stroke-width="1.2"/>
<ellipse cx="414.5" cy="262.8" rx="2.3" ry="2.2" fill="#6c320e" stroke="#a35922" stroke-width="0.8"/>
<ellipse cx="421.0" cy="263.7" rx="2.1" ry="2.0" fill="#7f3d14" stroke="#c27435" stroke-width="0.8"/>
<ellipse cx="421.4" cy="263.8" rx="1.5" ry="1.0" fill="#a29dc5"/>
<ellipse cx="425.8" cy="262.9" rx="2.2" ry="1.8" fill="#884317" stroke="#8d4514" stroke-width="0.9"/>
<ellipse cx="429.6" cy="264.4" rx="2.6" ry="2.3" fill="#7b3a13" stroke="#a05620" stroke-width="1.0"/>
<ellipse cx="429.4" cy="264.3" rx="1.4" ry="1.2" fill="#a39ec5"/>
<ellipse cx="433.4" cy="263.1" rx="2.3" ry="1.9" fill="#6f330f" stroke="#b2662b" stroke-width="1.1"/>
<ellipse cx="433.3" cy="263.4" rx="1.5" ry="1.4" fill="#ada8ce"/>
<ellipse cx="440.2" cy="265.1" rx="2.6" ry="2.3" fill="#7d3c14" stroke="#b96c2f" stroke-width="1.0"/>
<ellipse cx="365.1" cy="267.2" rx="2.4" ry="2.4" fill="#7e3d14" stroke="#ae6229" stroke-width="1.2"/>
<ellipse cx="364.9" cy="266.8" rx="1.6" ry="1.4" fill="#8d88b3"/>
<ellipse cx="368.7" cy="269.0" rx="2.3" ry="2.3" fill="#93491b" stroke="#984f1b" stroke-width="1.1"/>
<ellipse cx="373.6" cy="268.8" rx="2.6" ry="2.5" fill="#763811" stroke="#a95e26" stroke-width="1.2"/>
<ellipse cx="377.6" cy="267.1" rx="2.7" ry="2.4" fill="#632c0b" stroke="#c27435" stroke-width="1.2"/>
<ellipse cx="382.2" cy="267.0" rx="2.5" ry="2.3" fill="#92491b" stroke="#a05520" stroke-width="1.2"/>
<ellipse cx="381.9" cy="266.7" rx="1.4" ry="1.5" fill="#ccc7e8"/>
<ellipse cx="388.4" cy="268.3" rx="2.2" ry="2.0" fill="#974b1c" stroke="#b0642a" stroke-width="1.1"/>
<ellipse cx="393.3" cy="267.3" rx="2.5" ry="2.6" fill="#7a3a13" stroke="#974e1a" stroke-width="1.1"/>
<ellipse cx="393.4" cy="267.2" rx="1.6" ry="1.5" fill="#a9a4ca"/>
<ellipse cx="397.2" cy="267.5" rx="2.1" ry="1.8" fill="#864117" stroke="#9a501c" stroke-width="0.8"/>
<ellipse cx="403.9" cy="269.7" rx="2.3" ry="1.9" fill="#803e15" stroke="#ca7b3a" stroke-width="1.1"/>
<ellipse cx="404.1" cy="269.9" rx="1.2" ry="1.1" fill="#c0bbde"/>
<ellipse cx="409.0" cy="267.2" rx="2.7" ry="2.1" fill="#6b310e" stroke="#954c19" stroke-width="0.9"/>
<ellipse cx="408.9" cy="267.0" rx="1.8" ry="1.3" fill="#cac5e6"/>
<ellipse cx="411.5" cy="269.6" rx="2.5" ry="2.1" fill="#974b1c" stroke="#b3672c" stroke-width="1.0"/>
<ellipse cx="411.3" cy="269.7" rx="1.4" ry="1.4" fill="#c1bcdf"/>
<ellipse cx="417.5" cy="269.0" rx="2.8" ry="2.9" fill="#6f340f" stroke="#9b511d" stroke-width="1.1"/>
<ellipse cx="417.3" cy="268.9" rx="1.9" ry="1.7" fill="#9893bc"/>
<ellipse cx="422.1" cy="268.2" rx="2.8" ry="2.5" fill="#844016" stroke="#b76a2e" stroke-width="1.1"/>
<ellipse cx="422.1" cy="268.1" rx="1.7" ry="1.3" fill="#8f8ab5"/>
<ellipse cx="427.5" cy="268.1" rx="2.1" ry="1.9" fill="#753711" stroke="#cb7d3b" stroke-width="0.9"/>
<ellipse cx="432.6" cy="266.9" rx="2.7" ry="2.5" fill="#7d3c14" stroke="#974e1b" stroke-width="1.1"/>
<ellipse cx="437.8" cy="269.3" rx="2.3" ry="1.9" fill="#8a4418" stroke="#984f1b" stroke-width="1.1"/>
<ellipse cx="437.8" cy="269.5" rx="1.4" ry="1.4" fill="#9893bc"/>
<ellipse cx="360.4" cy="272.6" rx="2.6" ry="2.6" fill="#622b0b" stroke="#ba6d30" stroke-width="0.9"/>
<ellipse cx="360.0" cy="272.9" rx="1.5" ry="1.2" fill="#8e89b4"/>
<ellipse cx="366.9" cy="272.4" rx="2.1" ry="2.2" fill="#833f16" stroke="#c37535" stroke-width="0.8"/>
<ellipse cx="366.6" cy="272.1" rx="1.2" ry="1.3" fill="#9e99c1"/>
<ellipse cx="370.2" cy="271.8" rx="2.2" ry="2.0" fill="#7f3d14" stroke="#964d1a" stroke-width="0.9"/>
<ellipse cx="376.0" cy="271.3" rx="2.5" ry="2.0" fill="#7b3b13" stroke="#a55a23" stroke-width="1.0"/>
<ellipse cx="375.6" cy="271.7" rx="1.5" ry="1.3" fill="#a19cc4"/>
<ellipse cx="382.0" cy="273.5" rx="2.5" ry="2.2" fill="#662e0c" stroke="#c97a39" stroke-width="1.1"/>
<ellipse cx="382.3" cy="273.2" rx="1.4" ry="1.3" fill="#b9b4d8"/>
<ellipse cx="386.4" cy="273.7" rx="2.6" ry="2.7" fill="#884317" stroke="#be7133" stroke-width="0.9"/>
<ellipse cx="386.6" cy="273.4" rx="1.9" ry="1.6" fill="#c3bee0"/>
<ellipse cx="391.1" cy="272.4" rx="2.7" ry="2.8" fill="#833f16" stroke="#a35922" stroke-width="1.2"/>
<ellipse cx="395.9" cy="272.7" rx="2.7" ry="2.6" fill="#91481a" stroke="#cc7d3b" stroke-width="1.2"/>
<ellipse cx="395.9" cy="272.4" rx="1.8" ry="1.3" fill="#a6a1c8"/>
<ellipse cx="401.9" cy="273.6" rx="2.5" ry="2.4" fill="#723510" stroke="#9e541f" stroke-width="0.9"/>
<ellipse cx="402.2" cy="273.4" rx="1.5" ry="1.5" fill="#c3bee1"/>
<ellipse cx="404.7" cy="273.9" rx="2.2" ry="2.1" fill="#6a310d" stroke="#c37535" stroke-width="0.9"/>
<ellipse cx="404.3" cy="273.7" rx="1.3" ry="1.5" fill="#8c87b2"/>
<ellipse cx="411.0" cy="273.5" rx="2.5" ry="2.2" fill="#894318" stroke="#904716" stroke-width="1.0"/>
<ellipse cx="416.1" cy="272.4" rx="2.7" ry="2.4" fill="#783912" stroke="#c87a39" stroke-width="1.0"/>
<ellipse cx="416.1" cy="272.6" rx="1.4" ry="1.7" fill="#bcb7da"/>
<ellipse cx="421.2" cy="273.8" rx="2.8" ry="2.3" fill="#834016" stroke="#994f1c" stroke-width="0.8"/>
<ellipse cx="421.4" cy="273.8" rx="1.8" ry="1.9" fill="#9792bc"/>
<ellipse cx="425.5" cy="273.4" rx="2.1" ry="2.0" fill="#612b0a" stroke="#924917" stroke-width="1.1"/>
<ellipse cx="430.6" cy="272.4" rx="2.5" ry="2.1" fill="#753711" stroke="#c37536" stroke-width="1.1"/>
<ellipse cx="430.3" cy="272.2" rx="1.3" ry="1.4" fill="#9a95be"/>
<ellipse cx="435.4" cy="271.5" rx="2.2" ry="1.9" fill="#90471a" stroke="#b3662c" stroke-width="0.8"/>
<ellipse cx="439.3" cy="272.6" rx="2.6" ry="2.5" fill="#803d15" stroke="#c57737" stroke-width="1.1"/>
<ellipse cx="362.4" cy="276.7" rx="2.8" ry="2.7" fill="#8d4519" stroke="#9e541f" stroke-width="1.0"/>
<ellipse cx="362.2" cy="276.8" rx="1.7" ry="1.6" fill="#aaa5cc"/>
<ellipse cx="369.0" cy="277.4" rx="2.1" ry="2.1" fill="#833f16" stroke="#944b19" stroke-width="1.2"/>
<ellipse cx="372.8" cy="278.3" rx="2.3" ry="2.3" fill="#7d3c14" stroke="#a95e26" stroke-width="1.0"/>
<ellipse cx="378.9" cy="276.6" rx="2.4" ry="2.2" fill="#7b3b13" stroke="#a55b23" stroke-width="1.2"/>
<ellipse cx="378.6" cy="276.8" rx="1.3" ry="1.2" fill="#a5a0c7"/>
<ellipse cx="383.8" cy="277.3" rx="2.4" ry="2.2" fill="#8c4519" stroke="#b3662c" stroke-width="0.9"/>
<ellipse cx="383.6" cy="276.9" rx="1.7" ry="1.3" fill="#c5c0e2"/>
<ellipse cx="388.3" cy="276.8" rx="2.2" ry="2.2" fill="#944a1b" stroke="#944b19" stroke-width="0.8"/>
<ellipse cx="394.5" cy="277.5" rx="2.2" ry="1.8" fill="#833f16" stroke="#a85d25" stroke-width="1.2"/>
<ellipse cx="394.8" cy="277.2" rx="1.1" ry="1.3" fill="#9590b9"/>
<ellipse cx="398.6" cy="277.8" rx="2.4" ry="2.1" fill="#8e4619" stroke="#c67838" stroke-width="0.8"/>
<ellipse cx="404.3" cy="275.8" rx="2.4" ry="2.1" fill="#964b1c" stroke="#9f5520" stroke-width="1.1"/>
<ellipse cx="404.7" cy="275.9" rx="1.4" ry="1.5" fill="#c8c3e4"/>
<ellipse cx="408.2" cy="277.8" rx="2.7" ry="2.5" fill="#612b0a" stroke="#bf7233" stroke-width="0.9"/>
<ellipse cx="412.1" cy="276.8" rx="2.8" ry="2.6" fill="#6d320e" stroke="#c47636" stroke-width="0.9"/>
<ellipse cx="412.3" cy="276.7" rx="1.6" ry="1.7" fill="#bcb7da"/>
<ellipse cx="416.4" cy="276.2" rx="2.6" ry="2.1" fill="#662e0c" stroke="#aa5e26" stroke-width="0.9"/>
<ellipse cx="422.2" cy="276.0" rx="2.4" ry="2.2" fill="#743711" stroke="#b5692d" stroke-width="0.9"/>
<ellipse cx="426.8" cy="278.2" rx="2.5" ry="2.4" fill="#894318" stroke="#944b19" stroke-width="1.0"/>
<ellipse cx="432.5" cy="277.1" rx="2.5" ry="2.3" fill="#994c1d" stroke="#c47637" stroke-width="1.1"/>
<ellipse cx="432.4" cy="277.2" rx="1.5" ry="1.3" fill="#a6a1c8"/>
<ellipse cx="438.6" cy="277.3" rx="2.7" ry="2.7" fill="#874217" stroke="#bf7233" stroke-width="1.0"/>
<ellipse cx="362.7" cy="281.9" rx="2.3" ry="2.3" fill="#652d0c" stroke="#a05620" stroke-width="1.2"/>
<ellipse cx="362.4" cy="281.6" rx="1.5" ry="1.5" fill="#a49fc6"/>
<ellipse cx="367.1" cy="280.3" rx="2.2" ry="1.8" fill="#8c4519" stroke="#9c521e" stroke-width="1.2"/>
<ellipse cx="366.8" cy="280.1" rx="1.3" ry="1.1" fill="#aaa5cc"/>
<ellipse cx="371.4" cy="282.2" rx="2.6" ry="2.6" fill="#854016" stroke="#8d4515" stroke-width="0.9"/>
<ellipse cx="371.0" cy="282.5" rx="1.7" ry="1.2" fill="#938eb8"/>
<ellipse cx="374.7" cy="282.7" rx="2.4" ry="2.0" fill="#723510" stroke="#b2662b" stroke-width="1.0"/>
<ellipse cx="374.6" cy="283.0" rx="1.7" ry="1.4" fill="#cbc6e7"/>
<ellipse cx="379.9" cy="281.4" rx="2.2" ry="2.1" fill="#642d0b" stroke="#c07234" stroke-width="0.8"/>
<ellipse cx="379.7" cy="281.8" rx="1.4" ry="1.4" fill="#a6a1c8"/>
<ellipse cx="384.9" cy="281.5" rx="2.8" ry="2.5" fill="#854116" stroke="#bd6f32" stroke-width="1.1"/>
<ellipse cx="391.0" cy="280.3" rx="2.2" ry="2.1" fill="#773812" stroke="#ae6229" stroke-width="1.1"/>
<ellipse cx="396.8" cy="281.3" rx="2.5" ry="2.1" fill="#90471a" stroke="#bf7133" stroke-width="0.9"/>
<ellipse cx="397.2" cy="281.1" rx="1.5" ry="1.4" fill="#9691ba"/>
<ellipse cx="400.6" cy="281.8" rx="2.5" ry="2.2" fill="#8d4619" stroke="#9e541f" stroke-width="1.1"/>
<ellipse cx="405.0" cy="280.9" rx="2.1" ry="2.1" fill="#642d0b" stroke="#af6329" stroke-width="0.8"/>
<ellipse cx="405.1" cy="281.0" rx="1.2" ry="1.2" fill="#bdb8dc"/>
<ellipse cx="410.7" cy="281.7" rx="2.2" ry="2.2" fill="#6e330f" stroke="#aa5e26" stroke-width="0.8"/>
<ellipse cx="410.8" cy="281.7" rx="1.1" ry="1.5" fill="#9893bc"/>
<ellipse cx="414.6" cy="282.1" rx="2.7" ry="2.7" fill="#682f0d" stroke="#a45a23" stroke-width="1.2"/>
<ellipse cx="414.8" cy="282.5" rx="1.5" ry="1.3" fill="#bdb8db"/>
<ellipse cx="419.5" cy="280.1" rx="2.2" ry="2.3" fill="#954a1c" stroke="#9b511d" stroke-width="1.0"/>
<ellipse cx="419.3" cy="280.3" rx="1.5" ry="1.4" fill="#a29dc5"/>
<ellipse cx="424.3" cy="280.2" rx="2.4" ry="2.1" fill="#7b3a13" stroke="#a95e26" stroke-width="1.0"/>
<ellipse cx="428.9" cy="282.2" rx="2.6" ry="2.2" fill="#813e15" stroke="#a15621" stroke-width="0.8"/>
<ellipse cx="428.6" cy="281.9" rx="1.5" ry="1.7" fill="#a39ec5"/>
<ellipse cx="434.5" cy="282.6" rx="2.7" ry="2.4" fill="#723510" stroke="#8d4515" stroke-width="0.9"/>
<ellipse cx="434.8" cy="282.5" rx="1.4" ry="1.3" fill="#b2add2"/>
<ellipse cx="440.4" cy="280.2" rx="2.1" ry="2.1" fill="#6c320e" stroke="#bd7032" stroke-width="1.1"/>
<ellipse cx="440.2" cy="280.5" rx="1.4" ry="1.1" fill="#9893bc"/>
<ellipse cx="365.1" cy="287.1" rx="2.4" ry="2.4" fill="#7b3a13" stroke="#a35822" stroke-width="0.9"/>
<ellipse cx="367.5" cy="287.0" rx="2.7" ry="2.8" fill="#984c1d" stroke="#b3662c" stroke-width="0.9"/>
<ellipse cx="373.4" cy="285.8" rx="2.2" ry="2.0" fill="#662e0c" stroke="#c07234" stroke-width="1.0"/>
<ellipse cx="379.8" cy="285.2" rx="2.6" ry="2.6" fill="#944a1b" stroke="#994f1c" stroke-width="1.0"/>
<ellipse cx="379.6" cy="285.1" rx="1.8" ry="1.5" fill="#9e99c1"/>
<ellipse cx="383.4" cy="287.1" rx="2.7" ry="2.6" fill="#6d320e" stroke="#904816" stroke-width="0.9"/>
<ellipse cx="383.1" cy="287.1" rx="1.7" ry="1.4" fill="#908bb5"/>
<ellipse cx="388.9" cy="285.8" rx="2.5" ry="2.4" fill="#602a0a" stroke="#9e541f" stroke-width="0.9"/>
<ellipse cx="388.7" cy="285.5" rx="1.4" ry="1.3" fill="#a49fc6"/>
<ellipse cx="394.5" cy="286.8" rx="2.2" ry="1.8" fill="#7b3b13" stroke="#8d4515" stroke-width="1.2"/>
<ellipse cx="394.5" cy="286.4" rx="1.1" ry="1.4" fill="#a8a3ca"/>
<ellipse cx="398.3" cy="284.8" rx="2.5" ry="2.5" fill="#733610" stroke="#ac6027" stroke-width="1.0"/>
<ellipse cx="403.3" cy="285.8" rx="2.7" ry="2.6" fill="#8a4418" stroke="#c67737" stroke-width="1.0"/>
<ellipse cx="407.0" cy="284.6" rx="2.5" ry="2.5" fill="#90471a" stroke="#ae6229" stroke-width="0.8"/>
<ellipse cx="412.8" cy="284.8" rx="2.5" ry="2.1" fill="#954a1c" stroke="#b2662b" stroke-width="1.0"/>
<ellipse cx="412.6" cy="284.9" rx="1.3" ry="1.6" fill="#c9c4e6"/>
<ellipse cx="417.5" cy="286.4" rx="2.4" ry="2.5" fill="#713510" stroke="#bb6e31" stroke-width="0.8"/>
<ellipse cx="417.8" cy="286.6" rx="1.4" ry="1.1" fill="#bbb6da"/>
<ellipse cx="422.4" cy="285.2" rx="2.6" ry="2.7" fill="#622c0b" stroke="#bb6e31" stroke-width="1.0"/>
<ellipse cx="422.3" cy="284.9" rx="1.8" ry="1.7" fill="#aba6cc"/>
<ellipse cx="427.7" cy="285.7" rx="2.2" ry="2.1" fill="#6f330f" stroke="#a85d25" stroke-width="0.8"/>
<ellipse cx="427.7" cy="285.6" rx="1.4" ry="1.5" fill="#a6a1c8"/>
<ellipse cx="433.1" cy="286.0" rx="2.8" ry="2.4" fill="#90471a" stroke="#c67838" stroke-width="0.9"/>
<ellipse cx="433.2" cy="285.9" rx="2.0" ry="1.4" fill="#b5b0d5"/>
<ellipse cx="438.6" cy="287.2" rx="2.1" ry="2.1" fill="#6b310e" stroke="#914917" stroke-width="1.1"/>
<ellipse cx="438.4" cy="287.4" rx="1.5" ry="1.1" fill="#9b96bf"/>
<ellipse cx="362.0" cy="289.6" rx="2.2" ry="2.1" fill="#994c1d" stroke="#ca7c3a" stroke-width="1.0"/>
<ellipse cx="365.1" cy="291.4" rx="2.6" ry="2.5" fill="#6f330f" stroke="#ad6128" stroke-width="1.1"/>
<ellipse cx="364.8" cy="291.8" rx="1.4" ry="1.3" fill="#b5b0d5"/>
<ellipse cx="371.9" cy="290.6" rx="2.8" ry="2.8" fill="#964b1c" stroke="#c97b3a" stroke-width="1.1"/>
<ellipse cx="375.6" cy="289.7" rx="2.5" ry="2.5" fill="#8a4418" stroke="#904816" stroke-width="1.1"/>
<ellipse cx="375.8" cy="289.7" rx="1.7" ry="1.7" fill="#8f8ab5"/>
<ellipse cx="381.4" cy="290.5" rx="2.4" ry="2.3" fill="#864117" stroke="#b76b2f" stroke-width="0.9"/>
<ellipse cx="386.1" cy="290.7" rx="2.1" ry="2.1" fill="#8a4418" stroke="#c67838" stroke-width="1.0"/>
<ellipse cx="386.2" cy="290.7" rx="1.1" ry="1.0" fill="#a9a4ca"/>
<ellipse cx="391.4" cy="289.4" rx="2.4" ry="2.0" fill="#6c320e" stroke="#9b521d" stroke-width="1.0"/>
<ellipse cx="394.9" cy="291.6" rx="2.7" ry="2.8" fill="#602a0a" stroke="#b76b2f" stroke-width="1.0"/>
<ellipse cx="401.7" cy="291.4" rx="2.5" ry="2.1" fill="#733610" stroke="#a35822" stroke-width="1.1"/>
<ellipse cx="402.0" cy="291.5" rx="1.6" ry="1.6" fill="#b8b3d7"/>
<ellipse cx="404.1" cy="289.1" rx="2.8" ry="2.5" fill="#9a4d1d" stroke="#c07334" stroke-width="0.8"/>
<ellipse cx="409.7" cy="290.1" rx="2.5" ry="2.3" fill="#834016" stroke="#c47636" stroke-width="0.8"/>
<ellipse cx="415.5" cy="289.2" rx="2.5" ry="2.6" fill="#823f15" stroke="#cc7d3b" stroke-width="1.1"/>
<ellipse cx="420.2" cy="289.1" rx="2.4" ry="1.9" fill="#763811" stroke="#c67837" stroke-width="0.9"/>
<ellipse cx="420.1" cy="288.9" rx="1.6" ry="1.1" fill="#ccc7e8"/>
<ellipse cx="423.8" cy="290.8" rx="2.3" ry="2.2" fill="#662e0c" stroke="#a55a23" stroke-width="1.0"/>
<ellipse cx="430.0" cy="290.7" rx="2.3" ry="2.2" fill="#6a310d" stroke="#cb7c3b" stroke-width="0.9"/>
<ellipse cx="430.4" cy="290.5" rx="1.4" ry="1.3" fill="#9f9ac2"/>
<ellipse cx="434.4" cy="290.2" rx="2.3" ry="2.0" fill="#622c0b" stroke="#ae6329" stroke-width="0.9"/>
<ellipse cx="438.9" cy="289.9" rx="2.6" ry="2.7" fill="#823f15" stroke="#b96c30" stroke-width="1.1"/>
<ellipse cx="439.1" cy="290.1" rx="1.9" ry="1.7" fill="#948fb9"/>
<ellipse cx="364.4" cy="295.6" rx="2.2" ry="2.1" fill="#844016" stroke="#b0642a" stroke-width="0.9"/>
<ellipse cx="367.5" cy="293.6" rx="2.5" ry="2.2" fill="#994d1d" stroke="#9d531e" stroke-width="0.8"/>
<ellipse cx="374.4" cy="295.0" rx="2.3" ry="2.2" fill="#713410" stroke="#9a501c" stroke-width="0.9"/>
<ellipse cx="379.2" cy="293.9" rx="2.7" ry="2.8" fill="#944a1b" stroke="#cc7d3b" stroke-width="0.9"/>
<ellipse cx="383.1" cy="294.0" rx="2.2" ry="1.8" fill="#632c0b" stroke="#b1652b" stroke-width="1.2"/>
<ellipse cx="383.2" cy="293.6" rx="1.5" ry="1.0" fill="#bab5d9"/>
<ellipse cx="389.1" cy="294.3" rx="2.7" ry="2.5" fill="#7c3b13" stroke="#c17334" stroke-width="0.8"/>
<ellipse cx="393.6" cy="296.1" rx="2.1" ry="2.1" fill="#964b1c" stroke="#ae6229" stroke-width="0.8"/>
<ellipse cx="397.6" cy="294.8" rx="2.6" ry="2.4" fill="#8d4519" stroke="#a15721" stroke-width="1.0"/>
<ellipse cx="403.6" cy="295.9" rx="2.3" ry="2.0" fill="#94491b" stroke="#9e541f" stroke-width="1.1"/>
<ellipse cx="403.2" cy="296.2" rx="1.5" ry="1.5" fill="#9893bc"/>
<ellipse cx="407.6" cy="294.3" rx="2.5" ry="2.0" fill="#682f0d" stroke="#904716" stroke-width="1.0"/>
<ellipse cx="411.6" cy="295.8" rx="2.8" ry="2.4" fill="#6c320e" stroke="#9f551f" stroke-width="0.9"/>
<ellipse cx="411.6" cy="295.6" rx="2.0" ry="1.4" fill="#aca7cd"/>
<ellipse cx="416.5" cy="293.5" rx="2.7" ry="2.2" fill="#652d0c" stroke="#ae6229" stroke-width="1.0"/>
<ellipse cx="422.7" cy="294.7" rx="2.1" ry="2.1" fill="#6c320e" stroke="#b96c30" stroke-width="1.1"/>
<ellipse cx="428.0" cy="294.1" rx="2.3" ry="2.3" fill="#994c1d" stroke="#964d1a" stroke-width="1.2"/>
<ellipse cx="433.1" cy="293.5" rx="2.1" ry="1.7" fill="#954a1c" stroke="#a35922" stroke-width="0.9"/>
<ellipse cx="433.0" cy="293.2" rx="1.2" ry="1.1" fill="#c5c0e2"/>
<ellipse cx="436.4" cy="295.2" rx="2.4" ry="2.0" fill="#864117" stroke="#b4672c" stroke-width="1.0"/>
<ellipse cx="436.7" cy="295.0" rx="1.6" ry="1.2" fill="#a8a3ca"/>
<ellipse cx="360.1" cy="298.6" rx="2.4" ry="2.2" fill="#5f2a0a" stroke="#bf7133" stroke-width="1.0"/>
<ellipse cx="366.8" cy="299.6" rx="2.8" ry="2.3" fill="#6c320e" stroke="#b96c2f" stroke-width="1.0"/>
<ellipse cx="366.5" cy="299.8" rx="1.6" ry="1.3" fill="#afaad0"/>
<ellipse cx="370.5" cy="298.1" rx="2.2" ry="2.2" fill="#91481a" stroke="#c87a39" stroke-width="1.0"/>
<ellipse cx="375.6" cy="299.7" rx="2.2" ry="1.9" fill="#974b1c" stroke="#bb6e31" stroke-width="0.8"/>
<ellipse cx="375.8" cy="299.8" rx="1.3" ry="1.1" fill="#918cb6"/>
<ellipse cx="380.5" cy="298.0" rx="2.5" ry="2.4" fill="#672e0c" stroke="#944b19" stroke-width="1.1"/>
<ellipse cx="386.4" cy="299.3" rx="2.7" ry="2.2" fill="#713410" stroke="#944b19" stroke-width="1.0"/>
<ellipse cx="386.5" cy="299.5" rx="1.6" ry="1.8" fill="#c4bfe1"/>
<ellipse cx="391.9" cy="300.3" rx="2.7" ry="2.3" fill="#8f471a" stroke="#c17435" stroke-width="0.9"/>
<ellipse cx="391.9" cy="300.7" rx="1.5" ry="1.5" fill="#bdb8dc"/>
<ellipse cx="396.8" cy="298.9" rx="2.7" ry="2.8" fill="#8c4519" stroke="#ca7c3a" stroke-width="1.2"/>
<ellipse cx="396.4" cy="299.1" rx="1.9" ry="1.5" fill="#b4afd3"/>
<ellipse cx="401.3" cy="298.6" rx="2.2" ry="2.0" fill="#622c0b" stroke="#b0652a" stroke-width="0.8"/>
<ellipse cx="401.5" cy="298.8" rx="1.3" ry="1.2" fill="#c1bcde"/>
<ellipse cx="404.9" cy="298.8" rx="2.1" ry="1.9" fill="#813e15" stroke="#bf7133" stroke-width="0.9"/>
<ellipse cx="404.6" cy="298.5" rx="1.3" ry="1.0" fill="#908bb5"/>
<ellipse cx="411.5" cy="300.2" rx="2.7" ry="2.5" fill="#93491b" stroke="#b3672c" stroke-width="0.9"/>
<ellipse cx="411.6" cy="300.3" rx="1.7" ry="1.2" fill="#c2bde0"/>
<ellipse cx="414.5" cy="298.7" rx="2.2" ry="2.3" fill="#91481a" stroke="#a85d25" stroke-width="1.0"/>
<ellipse cx="414.5" cy="298.6" rx="1.6" ry="1.1" fill="#8f8ab4"/>
<ellipse cx="419.7" cy="298.7" rx="2.2" ry="2.2" fill="#602b0a" stroke="#8d4414" stroke-width="1.1"/>
<ellipse cx="419.8" cy="298.5" rx="1.4" ry="1.5" fill="#8c87b2"/>
<ellipse cx="424.7" cy="298.8" rx="2.6" ry="2.3" fill="#833f16" stroke="#9e541f" stroke-width="1.1"/>
<ellipse cx="424.9" cy="299.1" rx="1.5" ry="1.8" fill="#c4bfe1"/>
<ellipse cx="429.0" cy="299.3" rx="2.5" ry="2.2" fill="#854116" stroke="#9c521e" stroke-width="0.8"/>
<ellipse cx="428.8" cy="299.0" rx="1.7" ry="1.2" fill="#b3aed3"/>
<ellipse cx="435.6" cy="299.2" rx="2.6" ry="2.7" fill="#743711" stroke="#9d531e" stroke-width="1.1"/>
<ellipse cx="440.6" cy="299.3" rx="2.8" ry="2.7" fill="#974b1c" stroke="#b3672c" stroke-width="1.0"/>
<ellipse cx="440.7" cy="299.1" rx="1.8" ry="1.8" fill="#a49fc6"/>
<ellipse cx="362.8" cy="304.2" rx="2.6" ry="2.3" fill="#602a0a" stroke="#9a511d" stroke-width="1.0"/>
<ellipse cx="369.7" cy="302.9" rx="2.5" ry="2.3" fill="#833f16" stroke="#ad6228" stroke-width="1.1"/>
<ellipse cx="372.2" cy="303.5" rx="2.5" ry="2.3" fill="#662e0c" stroke="#9b511d" stroke-width="1.2"/>
<ellipse cx="378.6" cy="303.7" rx="2.3" ry="2.1" fill="#7e3c14" stroke="#b1652a" stroke-width="0.9"/>
<ellipse cx="384.7" cy="303.9" rx="2.2" ry="1.8" fill="#6f340f" stroke="#9a511d" stroke-width="0.9"/>
<ellipse cx="384.4" cy="304.0" rx="1.4" ry="1.3" fill="#aea9ce"/>
<ellipse cx="389.1" cy="302.3" rx="2.4" ry="2.2" fill="#70340f" stroke="#b3672c" stroke-width="1.1"/>
<ellipse cx="389.2" cy="302.7" rx="1.5" ry="1.4" fill="#bbb6da"/>
<ellipse cx="393.3" cy="304.3" rx="2.6" ry="2.4" fill="#753711" stroke="#9e541f" stroke-width="1.1"/>
<ellipse cx="396.9" cy="302.3" rx="2.2" ry="2.1" fill="#994d1d" stroke="#ca7b3a" stroke-width="1.2"/>
<ellipse cx="403.6" cy="304.6" rx="2.4" ry="2.2" fill="#602a0a" stroke="#914917" stroke-width="1.1"/>
<ellipse cx="406.7" cy="303.9" rx="2.6" ry="2.5" fill="#8b4418" stroke="#a85d25" stroke-width="1.1"/>
<ellipse cx="411.8" cy="304.2" rx="2.6" ry="2.5" fill="#642d0b" stroke="#b0642a" stroke-width="1.1"/>
<ellipse cx="411.7" cy="303.9" rx="1.6" ry="1.4" fill="#cbc6e7"/>
<ellipse cx="418.1" cy="302.8" rx="2.2" ry="2.2" fill="#69300d" stroke="#c57737" stroke-width="0.9"/>
<ellipse cx="421.8" cy="304.2" rx="2.8" ry="2.2" fill="#92481b" stroke="#914917" stroke-width="1.2"/>
<ellipse cx="427.5" cy="304.2" rx="2.4" ry="2.0" fill="#7a3a13" stroke="#b5682d" stroke-width="0.9"/>
<ellipse cx="427.2" cy="304.3" rx="1.5" ry="1.4" fill="#c4bfe1"/>
<ellipse cx="432.1" cy="303.0" rx="2.7" ry="2.8" fill="#723510" stroke="#b2662b" stroke-width="1.0"/>
<ellipse cx="432.3" cy="302.7" rx="1.7" ry="1.5" fill="#afaad0"/>
<ellipse cx="438.6" cy="304.0" rx="2.3" ry="2.1" fill="#6c320e" stroke="#964d1a" stroke-width="1.0"/>
<ellipse cx="361.3" cy="308.0" rx="2.3" ry="2.3" fill="#7b3b13" stroke="#b4672c" stroke-width="1.1"/>
<ellipse cx="361.3" cy="307.9" rx="1.3" ry="1.4" fill="#cbc6e7"/>
<ellipse cx="366.8" cy="308.5" rx="2.4" ry="2.4" fill="#6e330f" stroke="#b86b2f" stroke-width="0.9"/>
<ellipse cx="372.3" cy="307.6" rx="2.4" ry="2.2" fill="#813e15" stroke="#a65b24" stroke-width="1.0"/>
<ellipse cx="376.9" cy="308.4" rx="2.8" ry="2.9" fill="#642d0b" stroke="#bc6f31" stroke-width="0.8"/>
<ellipse cx="376.7" cy="308.0" rx="1.5" ry="1.6" fill="#c1bcdf"/>
<ellipse cx="381.9" cy="308.8" rx="2.7" ry="2.2" fill="#682f0d" stroke="#8d4514" stroke-width="0.8"/>
<ellipse cx="382.3" cy="308.9" rx="1.9" ry="1.6" fill="#aba6cd"/>
<ellipse cx="386.7" cy="309.0" rx="2.7" ry="2.4" fill="#6d320e" stroke="#b76b2e" stroke-width="1.0"/>
<ellipse cx="386.7" cy="308.7" rx="1.7" ry="1.7" fill="#c8c3e4"/>
<ellipse cx="392.0" cy="308.3" rx="2.3" ry="2.0" fill="#642d0b" stroke="#b2662b" stroke-width="0.9"/>
<ellipse cx="395.7" cy="308.5" rx="2.6" ry="2.4" fill="#884217" stroke="#9a511d" stroke-width="1.1"/>
<ellipse cx="401.3" cy="307.7" rx="2.3" ry="2.2" fill="#7a3a13" stroke="#cc7d3b" stroke-width="0.9"/>
<ellipse cx="401.0" cy="307.3" rx="1.2" ry="1.3" fill="#b5b0d5"/>
<ellipse cx="405.2" cy="306.9" rx="2.2" ry="2.0" fill="#8d4519" stroke="#9d531e" stroke-width="0.9"/>
<ellipse cx="411.0" cy="309.3" rx="2.8" ry="2.6" fill="#793a12" stroke="#b4682c" stroke-width="1.1"/>
<ellipse cx="414.9" cy="307.0" rx="2.6" ry="2.2" fill="#8d4619" stroke="#9c521d" stroke-width="0.9"/>
<ellipse cx="419.3" cy="307.7" rx="2.2" ry="2.3" fill="#70340f" stroke="#b0642a" stroke-width="1.0"/>
<ellipse cx="424.4" cy="309.2" rx="2.8" ry="2.5" fill="#8d4519" stroke="#a95e26" stroke-width="1.0"/>
<ellipse cx="424.8" cy="309.4" rx="1.6" ry="1.6" fill="#b6b1d6"/>
<ellipse cx="428.7" cy="307.4" rx="2.3" ry="1.9" fill="#8d4519" stroke="#a55a23" stroke-width="1.0"/>
<ellipse cx="433.7" cy="308.3" rx="2.2" ry="2.0" fill="#6e330f" stroke="#bb6e31" stroke-width="0.9"/>
<ellipse cx="440.5" cy="307.0" rx="2.4" ry="2.4" fill="#783912" stroke="#b86b2f" stroke-width="1.0"/>
<ellipse cx="440.3" cy="306.8" rx="1.7" ry="1.3" fill="#aba6cd"/>
<ellipse cx="362.5" cy="312.2" rx="2.6" ry="2.2" fill="#844016" stroke="#964d1a" stroke-width="0.9"/>
<ellipse cx="362.9" cy="312.6" rx="1.5" ry="1.2" fill="#8d88b3"/>
<ellipse cx="368.9" cy="313.4" rx="2.6" ry="2.6" fill="#612b0a" stroke="#b76a2e" stroke-width="0.8"/>
<ellipse cx="369.1" cy="313.2" rx="1.6" ry="1.7" fill="#beb9dc"/>
<ellipse cx="372.3" cy="311.2" rx="2.5" ry="2.1" fill="#6a300d" stroke="#ae6229" stroke-width="0.9"/>
<ellipse cx="377.6" cy="311.5" rx="2.5" ry="2.4" fill="#854016" stroke="#a95e26" stroke-width="1.1"/>
<ellipse cx="377.6" cy="311.8" rx="1.8" ry="1.6" fill="#c2bde0"/>
<ellipse cx="382.6" cy="312.9" rx="2.6" ry="2.3" fill="#803d15" stroke="#b86c2f" stroke-width="0.8"/>
<ellipse cx="388.5" cy="311.5" rx="2.3" ry="2.2" fill="#7f3d14" stroke="#b3672c" stroke-width="1.0"/>
<ellipse cx="388.7" cy="311.8" rx="1.3" ry="1.2" fill="#9f9ac2"/>
<ellipse cx="392.3" cy="311.7" rx="2.4" ry="2.4" fill="#844016" stroke="#a75c25" stroke-width="1.1"/>
<ellipse cx="397.1" cy="313.0" rx="2.6" ry="2.4" fill="#793a12" stroke="#cb7c3a" stroke-width="1.1"/>
<ellipse cx="397.1" cy="313.1" rx="1.6" ry="1.4" fill="#c1bcdf"/>
<ellipse cx="402.4" cy="312.4" rx="2.1" ry="2.2" fill="#7b3b13" stroke="#9e541f" stroke-width="0.9"/>
<ellipse cx="408.7" cy="312.2" rx="2.8" ry="2.2" fill="#6f340f" stroke="#bf7133" stroke-width="1.2"/>
<ellipse cx="409.1" cy="312.4" rx="1.9" ry="1.8" fill="#9f9ac2"/>
<ellipse cx="412.1" cy="313.4" rx="2.2" ry="2.0" fill="#642d0b" stroke="#ac6128" stroke-width="1.0"/>
<ellipse cx="418.8" cy="311.9" rx="2.3" ry="2.0" fill="#672f0c" stroke="#b76a2e" stroke-width="0.8"/>
<ellipse cx="422.7" cy="313.6" rx="2.5" ry="2.6" fill="#783912" stroke="#ba6d30" stroke-width="1.1"/>
<ellipse cx="427.4" cy="311.5" rx="2.7" ry="2.5" fill="#70340f" stroke="#974e1b" stroke-width="1.0"/>
<ellipse cx="431.1" cy="313.6" rx="2.6" ry="2.4" fill="#974b1c" stroke="#8f4615" stroke-width="0.9"/>
<ellipse cx="438.1" cy="312.0" rx="2.5" ry="2.2" fill="#803d15" stroke="#c37536" stroke-width="1.0"/>
<ellipse cx="438.2" cy="311.7" rx="1.4" ry="1.2" fill="#a29dc5"/>
<ellipse cx="361.4" cy="316.7" rx="2.1" ry="1.9" fill="#8b4418" stroke="#ae6229" stroke-width="1.2"/>
<ellipse cx="365.6" cy="318.1" rx="2.6" ry="2.3" fill="#944a1b" stroke="#9e541f" stroke-width="1.1"/>
<ellipse cx="365.7" cy="317.8" rx="1.7" ry="1.2" fill="#c9c4e6"/>
<ellipse cx="371.5" cy="316.0" rx="2.4" ry="2.1" fill="#733610" stroke="#a45923" stroke-width="0.9"/>
<ellipse cx="371.8" cy="315.8" rx="1.6" ry="1.3" fill="#928db7"/>
<ellipse cx="374.6" cy="316.6" rx="2.8" ry="2.8" fill="#894318" stroke="#c57737" stroke-width="1.2"/>
<ellipse cx="380.5" cy="317.5" rx="2.4" ry="2.1" fill="#632c0b" stroke="#b2662b" stroke-width="0.9"/>
<ellipse cx="386.4" cy="317.0" rx="2.1" ry="1.9" fill="#632c0b" stroke="#bd6f32" stroke-width="1.0"/>
<ellipse cx="389.7" cy="315.7" rx="2.5" ry="2.2" fill="#864117" stroke="#954c19" stroke-width="1.0"/>
<ellipse cx="389.7" cy="315.6" rx="1.4" ry="1.7" fill="#cac5e6"/>
<ellipse cx="395.1" cy="316.0" rx="2.3" ry="2.3" fill="#7f3d14" stroke="#9b521d" stroke-width="1.2"/>
<ellipse cx="395.3" cy="316.0" rx="1.5" ry="1.4" fill="#a19cc4"/>
<ellipse cx="401.5" cy="316.7" rx="2.2" ry="1.9" fill="#69300d" stroke="#8f4616" stroke-width="0.9"/>
<ellipse cx="401.2" cy="316.8" rx="1.4" ry="1.1" fill="#938eb8"/>
<ellipse cx="405.8" cy="318.1" rx="2.2" ry="1.8" fill="#632c0b" stroke="#bb6e31" stroke-width="1.0"/>
<ellipse cx="405.8" cy="318.1" rx="1.3" ry="1.0" fill="#bfbadd"/>
<ellipse cx="409.6" cy="316.8" rx="2.7" ry="2.2" fill="#90471a" stroke="#a55a23" stroke-width="1.0"/>
<ellipse cx="414.2" cy="317.5" rx="2.2" ry="2.3" fill="#974b1c" stroke="#904816" stroke-width="1.2"/>
<ellipse cx="418.7" cy="317.6" rx="2.6" ry="2.2" fill="#7b3b13" stroke="#b3662c" stroke-width="1.1"/>
<ellipse cx="418.3" cy="317.4" rx="1.4" ry="1.6" fill="#b8b3d7"/>
<ellipse cx="426.0" cy="317.6" rx="2.4" ry="2.3" fill="#8d4619" stroke="#9e541f" stroke-width="0.9"/>
<ellipse cx="425.6" cy="317.2" rx="1.7" ry="1.6" fill="#8c87b2"/>
<ellipse cx="428.7" cy="316.1" rx="2.5" ry="2.4" fill="#7f3d14" stroke="#c97a39" stroke-width="0.8"/>
<ellipse cx="428.7" cy="316.2" rx="1.4" ry="1.5" fill="#b3aed3"/>
<ellipse cx="435.4" cy="315.6" rx="2.2" ry="2.1" fill="#783912" stroke="#ab6027" stroke-width="0.8"/>
<ellipse cx="435.1" cy="315.6" rx="1.6" ry="1.3" fill="#bab5d9"/>
<ellipse cx="439.6" cy="316.6" rx="2.6" ry="2.3" fill="#994c1d" stroke="#be7032" stroke-width="1.0"/>
<ellipse cx="365.0" cy="321.3" rx="2.1" ry="2.0" fill="#6f330f" stroke="#aa5f26" stroke-width="1.1"/>
<ellipse cx="369.7" cy="320.6" rx="2.5" ry="2.4" fill="#632c0b" stroke="#b86c2f" stroke-width="1.2"/>
<ellipse cx="374.4" cy="320.9" rx="2.4" ry="2.1" fill="#773812" stroke="#ad6128" stroke-width="0.9"/>
<ellipse cx="379.6" cy="320.0" rx="2.5" ry="2.5" fill="#834016" stroke="#8e4615" stroke-width="1.1"/>
<ellipse cx="379.4" cy="320.0" rx="1.5" ry="1.2" fill="#c9c4e6"/>
<ellipse cx="384.3" cy="320.3" rx="2.3" ry="1.9" fill="#69300d" stroke="#984e1b" stroke-width="1.1"/>
<ellipse cx="388.4" cy="321.2" rx="2.3" ry="2.1" fill="#783912" stroke="#c97b3a" stroke-width="1.2"/>
<ellipse cx="392.2" cy="322.0" rx="2.4" ry="2.1" fill="#8b4418" stroke="#bc6f31" stroke-width="0.8"/>
<ellipse cx="397.5" cy="320.6" rx="2.6" ry="2.6" fill="#662e0c" stroke="#b3662c" stroke-width="0.9"/>
<ellipse cx="401.8" cy="320.6" rx="2.5" ry="2.3" fill="#632c0b" stroke="#b5682d" stroke-width="1.1"/>
<ellipse cx="401.7" cy="320.8" rx="1.6" ry="1.3" fill="#8e89b4"/>
<ellipse cx="407.8" cy="321.7" rx="2.2" ry="2.1" fill="#91481a" stroke="#c27435" stroke-width="0.9"/>
<ellipse cx="412.4" cy="321.6" rx="2.1" ry="2.2" fill="#723510" stroke="#974d1a" stroke-width="0.8"/>
<ellipse cx="412.6" cy="321.4" rx="1.1" ry="1.4" fill="#bbb6da"/>
<ellipse cx="416.5" cy="320.8" rx="2.8" ry="2.3" fill="#803e15" stroke="#c77838" stroke-width="1.1"/>
<ellipse cx="422.4" cy="322.4" rx="2.7" ry="2.8" fill="#7d3c14" stroke="#bd7032" stroke-width="1.0"/>
<ellipse cx="422.7" cy="322.5" rx="1.9" ry="1.4" fill="#b5b0d5"/>
<ellipse cx="428.4" cy="321.5" rx="2.7" ry="2.2" fill="#733610" stroke="#c57637" stroke-width="1.0"/>
<ellipse cx="431.0" cy="320.8" rx="2.8" ry="2.7" fill="#8a4418" stroke="#b0642a" stroke-width="0.9"/>
<ellipse cx="437.8" cy="320.4" rx="2.4" ry="2.1" fill="#6f330f" stroke="#9a501c" stroke-width="1.1"/>
<ellipse cx="361.5" cy="325.4" rx="2.3" ry="2.3" fill="#8e4619" stroke="#8f4716" stroke-width="1.1"/>
<ellipse cx="364.8" cy="326.9" rx="2.1" ry="1.9" fill="#7a3a13" stroke="#9e541f" stroke-width="1.1"/>
<ellipse cx="364.8" cy="326.5" rx="1.1" ry="1.3" fill="#8c87b2"/>
<ellipse cx="371.9" cy="324.7" rx="2.5" ry="2.4" fill="#632c0b" stroke="#af6329" stroke-width="1.0"/>
<ellipse cx="371.7" cy="324.7" rx="1.5" ry="1.5" fill="#9a95be"/>
<ellipse cx="376.3" cy="324.9" rx="2.6" ry="2.2" fill="#833f16" stroke="#9d541f" stroke-width="1.1"/>
<ellipse cx="376.5" cy="325.2" rx="1.6" ry="1.7" fill="#b2add2"/>
<ellipse cx="380.6" cy="325.6" rx="2.8" ry="2.4" fill="#743611" stroke="#bf7133" stroke-width="1.1"/>
<ellipse cx="380.2" cy="325.7" rx="1.6" ry="1.8" fill="#9792bb"/>
<ellipse cx="385.2" cy="325.0" rx="2.7" ry="2.3" fill="#733610" stroke="#ae6229" stroke-width="0.8"/>
<ellipse cx="385.1" cy="324.7" rx="1.9" ry="1.4" fill="#c4bfe1"/>
<ellipse cx="390.4" cy="326.0" rx="2.6" ry="2.2" fill="#994c1d" stroke="#a95e26" stroke-width="1.0"/>
<ellipse cx="394.9" cy="324.7" rx="2.1" ry="2.1" fill="#733610" stroke="#c77938" stroke-width="0.8"/>
<ellipse cx="395.1" cy="325.0" rx="1.5" ry="1.2" fill="#918cb6"/>
<ellipse cx="401.1" cy="325.0" rx="2.2" ry="2.2" fill="#7d3c14" stroke="#be7133" stroke-width="1.1"/>
<ellipse cx="406.6" cy="325.7" rx="2.2" ry="2.0" fill="#632c0b" stroke="#954c19" stroke-width="0.9"/>
<ellipse cx="410.9" cy="325.0" rx="2.1" ry="1.8" fill="#662e0c" stroke="#bd7032" stroke-width="1.2"/>
<ellipse cx="411.0" cy="324.9" rx="1.2" ry="1.0" fill="#b2add2"/>
<ellipse cx="416.1" cy="324.4" rx="2.6" ry="2.6" fill="#833f16" stroke="#a45922" stroke-width="0.8"/>
<ellipse cx="416.5" cy="324.5" rx="1.4" ry="1.4" fill="#a29dc5"/>
<ellipse cx="419.1" cy="324.4" rx="2.1" ry="1.8" fill="#632c0b" stroke="#ad6128" stroke-width="1.0"/>
<ellipse cx="425.5" cy="326.1" rx="2.2" ry="2.2" fill="#713510" stroke="#b1652b" stroke-width="0.8"/>
<ellipse cx="429.0" cy="325.2" rx="2.4" ry="2.3" fill="#70340f" stroke="#974e1a" stroke-width="0.8"/>
<ellipse cx="435.7" cy="325.8" rx="2.3" ry="2.1" fill="#632c0b" stroke="#a65b24" stroke-width="1.2"/>
<ellipse cx="435.8" cy="325.9" rx="1.2" ry="1.1" fill="#9792bb"/>
<ellipse cx="438.6" cy="324.7" rx="2.5" ry="2.5" fill="#602a0a" stroke="#9b511d" stroke-width="1.1"/>
<ellipse cx="362.8" cy="328.8" rx="2.7" ry="2.6" fill="#713510" stroke="#99501c" stroke-width="1.0"/>
<ellipse cx="368.4" cy="328.7" rx="2.5" ry="2.0" fill="#6d320e" stroke="#9b511d" stroke-width="0.8"/>
<ellipse cx="374.7" cy="329.7" rx="2.2" ry="1.8" fill="#984c1d" stroke="#c47637" stroke-width="1.2"/>
<ellipse cx="378.5" cy="330.3" rx="2.1" ry="1.8" fill="#743611" stroke="#a45a23" stroke-width="0.8"/>
<ellipse cx="378.4" cy="330.3" rx="1.2" ry="1.4" fill="#8d88b2"/>
<ellipse cx="384.1" cy="330.8" rx="2.7" ry="2.4" fill="#8f461a" stroke="#ac6027" stroke-width="1.1"/>
<ellipse cx="387.9" cy="329.4" rx="2.3" ry="2.0" fill="#743611" stroke="#bc6e31" stroke-width="1.0"/>
<ellipse cx="387.7" cy="329.4" rx="1.6" ry="1.4" fill="#bab5d9"/>
<ellipse cx="392.9" cy="328.5" rx="2.7" ry="2.7" fill="#884217" stroke="#bb6e31" stroke-width="1.1"/>
<ellipse cx="397.8" cy="330.5" rx="2.5" ry="2.3" fill="#7f3d14" stroke="#b66a2e" stroke-width="1.2"/>
<ellipse cx="397.8" cy="330.3" rx="1.7" ry="1.5" fill="#9893bc"/>
<ellipse cx="404.3" cy="330.7" rx="2.1" ry="1.9" fill="#844016" stroke="#99501c" stroke-width="1.1"/>
<ellipse cx="404.5" cy="331.1" rx="1.1" ry="1.2" fill="#938eb8"/>
<ellipse cx="408.3" cy="330.2" rx="2.5" ry="2.3" fill="#7d3c14" stroke="#b3672c" stroke-width="1.2"/>
<ellipse cx="411.4" cy="329.4" rx="2.4" ry="2.4" fill="#874217" stroke="#c07334" stroke-width="1.2"/>
<ellipse cx="411.2" cy="329.7" rx="1.7" ry="1.2" fill="#9994bd"/>
<ellipse cx="417.2" cy="330.3" rx="2.4" ry="2.3" fill="#8a4418" stroke="#c57737" stroke-width="1.2"/>
<ellipse cx="421.4" cy="329.6" rx="2.2" ry="2.1" fill="#70340f" stroke="#ca7c3a" stroke-width="1.1"/>
<ellipse cx="421.8" cy="329.8" rx="1.5" ry="1.0" fill="#9f9ac2"/>
<ellipse cx="427.5" cy="330.7" rx="2.5" ry="2.5" fill="#984c1d" stroke="#bc6e31" stroke-width="0.9"/>
<ellipse cx="427.3" cy="330.8" rx="1.4" ry="1.2" fill="#9792bb"/>
<ellipse cx="433.3" cy="330.2" rx="2.2" ry="1.8" fill="#8f471a" stroke="#b86b2f" stroke-width="1.0"/>
<ellipse cx="436.3" cy="330.6" rx="2.4" ry="1.9" fill="#8f471a" stroke="#ae6329" stroke-width="1.1"/>
<ellipse cx="376" cy="220.5" rx="7.5" ry="3.8" fill="#e6cbbd" opacity="0.85"/>
</g></g>
<g clip-path="url(#cr)"><g filter="url(#bl)"><rect x="433.5" y="211.1" width="78.3" height="121.7" fill="#c8cbe8"/>
<ellipse cx="434.9" cy="211.8" rx="1.9" ry="1.8" fill="#6572c3"/>
<ellipse cx="438.4" cy="212.9" rx="1.5" ry="1.7" fill="#949ed7"/>
<ellipse cx="441.5" cy="211.3" rx="1.7" ry="1.6" fill="#5e6cc0"/>
<ellipse cx="446.5" cy="212.9" rx="1.8" ry="1.4" fill="#6875c4"/>
<ellipse cx="449.5" cy="211.5" rx="1.8" ry="1.6" fill="#8893d2"/>
<ellipse cx="453.9" cy="212.6" rx="1.5" ry="1.7" fill="#5966be"/>
<ellipse cx="458.0" cy="212.4" rx="1.5" ry="1.7" fill="#939dd6"/>
<ellipse cx="461.0" cy="211.6" rx="1.9" ry="1.4" fill="#8690d1"/>
<ellipse cx="465.9" cy="212.5" rx="1.4" ry="1.7" fill="#616ec1"/>
<ellipse cx="468.9" cy="211.4" rx="1.8" ry="1.4" fill="#6b78c6"/>
<ellipse cx="473.2" cy="211.9" rx="1.5" ry="1.5" fill="#7e89cd"/>
<ellipse cx="477.1" cy="211.5" rx="1.9" ry="1.4" fill="#7a86cc"/>
<ellipse cx="480.5" cy="212.4" rx="1.4" ry="1.4" fill="#8792d1"/>
<ellipse cx="486.0" cy="212.3" rx="1.4" ry="1.8" fill="#818dcf"/>
<ellipse cx="489.9" cy="211.4" rx="1.5" ry="1.7" fill="#8e99d4"/>
<ellipse cx="493.2" cy="211.9" rx="1.9" ry="1.6" fill="#7e8ace"/>
<ellipse cx="497.5" cy="212.3" rx="1.9" ry="1.4" fill="#6c78c6"/>
<ellipse cx="501.0" cy="212.8" rx="1.6" ry="1.5" fill="#909ad5"/>
<ellipse cx="505.5" cy="211.4" rx="1.8" ry="1.4" fill="#8b95d3"/>
<ellipse cx="508.5" cy="211.4" rx="1.9" ry="1.5" fill="#7f8ace"/>
<ellipse cx="436.6" cy="215.1" rx="1.8" ry="1.7" fill="#7884cb"/>
<ellipse cx="440.7" cy="215.3" rx="1.6" ry="1.4" fill="#6d7ac6"/>
<ellipse cx="443.4" cy="216.3" rx="1.6" ry="1.7" fill="#7d88cd"/>
<ellipse cx="447.5" cy="215.2" rx="1.8" ry="1.4" fill="#5664bd"/>
<ellipse cx="452.1" cy="214.8" rx="1.9" ry="1.5" fill="#8d97d4"/>
<ellipse cx="456.4" cy="216.0" rx="1.5" ry="1.4" fill="#5a68be"/>
<ellipse cx="459.2" cy="215.8" rx="1.8" ry="1.3" fill="#949ed7"/>
<ellipse cx="463.1" cy="215.7" rx="1.7" ry="1.6" fill="#5462bc"/>
<ellipse cx="466.9" cy="215.2" rx="1.9" ry="1.8" fill="#7884cb"/>
<ellipse cx="471.5" cy="215.7" rx="1.9" ry="1.6" fill="#5c6abf"/>
<ellipse cx="475.7" cy="216.4" rx="1.5" ry="1.4" fill="#737fc9"/>
<ellipse cx="479.1" cy="215.3" rx="1.6" ry="1.6" fill="#606dc1"/>
<ellipse cx="482.7" cy="216.0" rx="1.5" ry="1.4" fill="#6571c3"/>
<ellipse cx="486.9" cy="215.1" rx="1.9" ry="1.5" fill="#5866bd"/>
<ellipse cx="490.5" cy="215.5" rx="1.5" ry="1.8" fill="#717ec8"/>
<ellipse cx="495.6" cy="215.5" rx="1.8" ry="1.3" fill="#5462bc"/>
<ellipse cx="499.4" cy="215.5" rx="1.7" ry="1.6" fill="#6773c4"/>
<ellipse cx="502.9" cy="215.2" rx="1.7" ry="1.7" fill="#828dcf"/>
<ellipse cx="506.5" cy="216.0" rx="1.6" ry="1.5" fill="#5866bd"/>
<ellipse cx="509.8" cy="215.5" rx="1.6" ry="1.4" fill="#737fc9"/>
<ellipse cx="434.1" cy="218.7" rx="1.4" ry="1.3" fill="#5c69bf"/>
<ellipse cx="438.1" cy="218.6" rx="1.9" ry="1.6" fill="#7e8ace"/>
<ellipse cx="442.4" cy="218.3" rx="1.7" ry="1.6" fill="#616ec1"/>
<ellipse cx="445.7" cy="218.7" rx="1.8" ry="1.4" fill="#6673c3"/>
<ellipse cx="449.5" cy="219.7" rx="1.4" ry="1.4" fill="#6874c4"/>
<ellipse cx="454.3" cy="219.8" rx="1.7" ry="1.7" fill="#909bd5"/>
<ellipse cx="457.2" cy="218.5" rx="1.5" ry="1.5" fill="#7480c9"/>
<ellipse cx="461.5" cy="219.1" rx="1.6" ry="1.6" fill="#7581ca"/>
<ellipse cx="466.3" cy="219.7" rx="1.6" ry="1.4" fill="#5563bc"/>
<ellipse cx="470.2" cy="218.2" rx="1.7" ry="1.8" fill="#737fc9"/>
<ellipse cx="472.6" cy="218.8" rx="1.9" ry="1.5" fill="#8d98d4"/>
<ellipse cx="477.3" cy="218.2" rx="1.9" ry="1.4" fill="#6774c4"/>
<ellipse cx="481.0" cy="218.4" rx="1.4" ry="1.7" fill="#6d79c6"/>
<ellipse cx="485.9" cy="218.6" rx="1.9" ry="1.4" fill="#8590d0"/>
<ellipse cx="488.8" cy="218.5" rx="1.8" ry="1.6" fill="#8b95d3"/>
<ellipse cx="493.6" cy="218.4" rx="1.8" ry="1.6" fill="#717dc8"/>
<ellipse cx="496.8" cy="218.6" rx="1.9" ry="1.5" fill="#929cd6"/>
<ellipse cx="500.3" cy="220.0" rx="1.6" ry="1.8" fill="#7783cb"/>
<ellipse cx="505.1" cy="219.5" rx="1.6" ry="1.5" fill="#8c96d3"/>
<ellipse cx="508.3" cy="220.0" rx="1.8" ry="1.7" fill="#6875c4"/>
<ellipse cx="437.3" cy="222.8" rx="1.7" ry="1.7" fill="#7c88cd"/>
<ellipse cx="439.9" cy="221.8" rx="1.7" ry="1.7" fill="#5462bc"/>
<ellipse cx="444.3" cy="222.6" rx="1.8" ry="1.4" fill="#848fd0"/>
<ellipse cx="448.8" cy="223.5" rx="1.9" ry="1.6" fill="#919bd5"/>
<ellipse cx="452.6" cy="222.1" rx="1.5" ry="1.4" fill="#8a94d2"/>
<ellipse cx="456.8" cy="222.8" rx="1.7" ry="1.8" fill="#626fc2"/>
<ellipse cx="459.0" cy="222.1" rx="1.9" ry="1.8" fill="#6b77c5"/>
<ellipse cx="464.6" cy="223.1" rx="1.4" ry="1.8" fill="#5664bd"/>
<ellipse cx="468.1" cy="222.9" rx="1.8" ry="1.8" fill="#7480c9"/>
<ellipse cx="470.7" cy="223.4" rx="1.4" ry="1.8" fill="#6874c4"/>
<ellipse cx="475.1" cy="223.1" rx="1.6" ry="1.7" fill="#919bd6"/>
<ellipse cx="479.4" cy="222.6" rx="1.9" ry="1.6" fill="#5462bc"/>
<ellipse cx="483.3" cy="223.4" rx="1.8" ry="1.5" fill="#949ed7"/>
<ellipse cx="487.8" cy="222.4" rx="1.7" ry="1.8" fill="#5f6dc1"/>
<ellipse cx="491.7" cy="222.0" rx="1.7" ry="1.4" fill="#7783ca"/>
<ellipse cx="494.7" cy="222.3" rx="1.5" ry="1.5" fill="#5d6bc0"/>
<ellipse cx="498.0" cy="222.4" rx="1.9" ry="1.4" fill="#737fc9"/>
<ellipse cx="501.9" cy="223.4" rx="1.8" ry="1.8" fill="#6370c2"/>
<ellipse cx="507.2" cy="222.6" rx="1.6" ry="1.5" fill="#6370c2"/>
<ellipse cx="509.8" cy="222.2" rx="1.5" ry="1.6" fill="#5865bd"/>
<ellipse cx="435.0" cy="225.7" rx="1.5" ry="1.7" fill="#6471c2"/>
<ellipse cx="437.7" cy="226.0" rx="1.7" ry="1.7" fill="#737fc9"/>
<ellipse cx="442.4" cy="225.4" rx="1.9" ry="1.8" fill="#8590d0"/>
<ellipse cx="446.0" cy="226.2" rx="1.8" ry="1.3" fill="#5b68bf"/>
<ellipse cx="450.5" cy="225.9" rx="1.5" ry="1.4" fill="#5b69bf"/>
<ellipse cx="454.9" cy="225.7" rx="1.5" ry="1.7" fill="#5e6bc0"/>
<ellipse cx="458.4" cy="225.3" rx="1.7" ry="1.6" fill="#8792d2"/>
<ellipse cx="462.5" cy="226.2" rx="1.7" ry="1.3" fill="#8590d0"/>
<ellipse cx="465.1" cy="226.7" rx="1.5" ry="1.6" fill="#727ec8"/>
<ellipse cx="470.3" cy="225.4" rx="1.5" ry="1.5" fill="#949ed7"/>
<ellipse cx="474.2" cy="226.9" rx="1.8" ry="1.5" fill="#7a86cc"/>
<ellipse cx="477.1" cy="226.6" rx="1.7" ry="1.8" fill="#6e7ac7"/>
<ellipse cx="481.7" cy="226.2" rx="1.9" ry="1.6" fill="#5765bd"/>
<ellipse cx="485.0" cy="225.8" rx="1.6" ry="1.7" fill="#909ad5"/>
<ellipse cx="489.7" cy="226.6" rx="1.5" ry="1.7" fill="#5563bc"/>
<ellipse cx="493.8" cy="225.3" rx="1.7" ry="1.8" fill="#6976c5"/>
<ellipse cx="497.0" cy="226.5" rx="1.8" ry="1.6" fill="#7884cb"/>
<ellipse cx="500.3" cy="225.2" rx="1.9" ry="1.5" fill="#6471c3"/>
<ellipse cx="505.4" cy="226.6" rx="1.6" ry="1.5" fill="#5563bc"/>
<ellipse cx="509.0" cy="225.8" rx="1.6" ry="1.3" fill="#616ec1"/>
<ellipse cx="436.3" cy="230.2" rx="1.7" ry="1.5" fill="#929cd6"/>
<ellipse cx="439.6" cy="230.0" rx="1.7" ry="1.5" fill="#7883cb"/>
<ellipse cx="444.6" cy="229.5" rx="1.7" ry="1.8" fill="#8994d2"/>
<ellipse cx="449.0" cy="229.8" rx="1.8" ry="1.4" fill="#8691d1"/>
<ellipse cx="452.7" cy="229.0" rx="1.9" ry="1.7" fill="#828dcf"/>
<ellipse cx="455.8" cy="229.2" rx="1.6" ry="1.3" fill="#5664bd"/>
<ellipse cx="459.8" cy="230.1" rx="1.9" ry="1.7" fill="#7f8bce"/>
<ellipse cx="464.6" cy="230.3" rx="1.7" ry="1.7" fill="#7f8bce"/>
<ellipse cx="468.3" cy="230.5" rx="1.8" ry="1.4" fill="#7883cb"/>
<ellipse cx="472.0" cy="230.0" rx="1.7" ry="1.3" fill="#737fc9"/>
<ellipse cx="474.7" cy="229.4" rx="1.9" ry="1.3" fill="#7984cb"/>
<ellipse cx="479.3" cy="228.9" rx="1.8" ry="1.8" fill="#848fd0"/>
<ellipse cx="484.0" cy="229.4" rx="1.8" ry="1.6" fill="#939dd7"/>
<ellipse cx="486.7" cy="228.8" rx="1.6" ry="1.6" fill="#737fc9"/>
<ellipse cx="491.1" cy="229.3" rx="1.8" ry="1.6" fill="#6a76c5"/>
<ellipse cx="495.8" cy="229.8" rx="1.7" ry="1.7" fill="#707cc8"/>
<ellipse cx="498.7" cy="229.0" rx="1.8" ry="1.7" fill="#8b95d3"/>
<ellipse cx="501.9" cy="229.9" rx="1.4" ry="1.4" fill="#6471c2"/>
<ellipse cx="506.9" cy="229.6" rx="1.7" ry="1.3" fill="#5967be"/>
<ellipse cx="510.6" cy="229.4" rx="1.8" ry="1.5" fill="#737fc9"/>
<ellipse cx="435.2" cy="232.3" rx="1.6" ry="1.6" fill="#8d98d4"/>
<ellipse cx="437.9" cy="233.6" rx="1.5" ry="1.6" fill="#6572c3"/>
<ellipse cx="442.0" cy="232.8" rx="1.5" ry="1.5" fill="#5c69bf"/>
<ellipse cx="446.1" cy="232.7" rx="1.9" ry="1.4" fill="#848fd0"/>
<ellipse cx="450.6" cy="232.4" rx="1.9" ry="1.6" fill="#6370c2"/>
<ellipse cx="454.1" cy="233.5" rx="1.9" ry="1.7" fill="#8893d2"/>
<ellipse cx="457.6" cy="233.5" rx="1.9" ry="1.8" fill="#6471c2"/>
<ellipse cx="461.5" cy="233.3" rx="1.9" ry="1.7" fill="#5462bc"/>
<ellipse cx="465.0" cy="232.8" rx="1.7" ry="1.5" fill="#6370c2"/>
<ellipse cx="469.7" cy="233.3" rx="1.6" ry="1.3" fill="#8792d1"/>
<ellipse cx="473.4" cy="232.3" rx="1.6" ry="1.4" fill="#8e99d4"/>
<ellipse cx="477.5" cy="233.8" rx="1.5" ry="1.6" fill="#828dcf"/>
<ellipse cx="480.9" cy="232.6" rx="1.5" ry="1.8" fill="#717dc8"/>
<ellipse cx="485.4" cy="232.6" rx="1.4" ry="1.8" fill="#818ccf"/>
<ellipse cx="488.4" cy="232.3" rx="1.9" ry="1.7" fill="#7e89ce"/>
<ellipse cx="493.2" cy="233.8" rx="1.6" ry="1.4" fill="#5f6cc0"/>
<ellipse cx="497.4" cy="233.3" rx="1.9" ry="1.6" fill="#8994d2"/>
<ellipse cx="501.5" cy="233.7" rx="1.9" ry="1.6" fill="#7f8bce"/>
<ellipse cx="504.3" cy="232.9" rx="1.6" ry="1.8" fill="#717dc8"/>
<ellipse cx="509.5" cy="233.9" rx="1.5" ry="1.8" fill="#5c69bf"/>
<ellipse cx="436.7" cy="236.8" rx="1.5" ry="1.6" fill="#5563bc"/>
<ellipse cx="440.1" cy="235.9" rx="1.6" ry="1.3" fill="#6370c2"/>
<ellipse cx="443.9" cy="236.1" rx="1.4" ry="1.5" fill="#808bce"/>
<ellipse cx="448.4" cy="236.9" rx="1.8" ry="1.4" fill="#5a68be"/>
<ellipse cx="452.3" cy="237.3" rx="1.4" ry="1.6" fill="#7884cb"/>
<ellipse cx="455.1" cy="236.1" rx="1.9" ry="1.4" fill="#6a77c5"/>
<ellipse cx="459.1" cy="236.4" rx="1.9" ry="1.3" fill="#6774c4"/>
<ellipse cx="464.5" cy="236.5" rx="1.7" ry="1.5" fill="#7480c9"/>
<ellipse cx="468.2" cy="236.0" rx="1.7" ry="1.3" fill="#5f6cc0"/>
<ellipse cx="471.3" cy="237.1" rx="1.6" ry="1.5" fill="#5462bc"/>
<ellipse cx="475.1" cy="237.0" rx="1.8" ry="1.5" fill="#6572c3"/>
<ellipse cx="479.5" cy="236.9" rx="1.7" ry="1.7" fill="#7c87cd"/>
<ellipse cx="482.4" cy="236.3" rx="1.7" ry="1.7" fill="#919bd6"/>
<ellipse cx="488.0" cy="236.4" rx="1.4" ry="1.8" fill="#7884cb"/>
<ellipse cx="490.7" cy="237.5" rx="1.4" ry="1.7" fill="#7682ca"/>
<ellipse cx="495.1" cy="237.0" rx="1.9" ry="1.5" fill="#7581ca"/>
<ellipse cx="498.8" cy="236.8" rx="1.9" ry="1.8" fill="#737fc9"/>
<ellipse cx="502.6" cy="236.2" rx="1.6" ry="1.5" fill="#8691d1"/>
<ellipse cx="506.3" cy="236.1" rx="1.9" ry="1.6" fill="#848fd0"/>
<ellipse cx="510.9" cy="235.9" rx="1.7" ry="1.6" fill="#828dcf"/>
<ellipse cx="433.8" cy="240.1" rx="1.6" ry="1.4" fill="#626fc1"/>
<ellipse cx="439.3" cy="240.6" rx="1.4" ry="1.4" fill="#949fd7"/>
<ellipse cx="442.6" cy="240.5" rx="1.8" ry="1.7" fill="#616ec1"/>
<ellipse cx="445.7" cy="240.1" rx="1.5" ry="1.7" fill="#6875c4"/>
<ellipse cx="449.2" cy="240.1" rx="1.8" ry="1.7" fill="#8590d0"/>
<ellipse cx="453.2" cy="239.4" rx="1.4" ry="1.7" fill="#7b87cc"/>
<ellipse cx="457.2" cy="239.8" rx="1.5" ry="1.5" fill="#8d97d4"/>
<ellipse cx="461.8" cy="239.6" rx="1.9" ry="1.7" fill="#949ed7"/>
<ellipse cx="464.9" cy="239.4" rx="1.5" ry="1.8" fill="#8b96d3"/>
<ellipse cx="470.4" cy="241.0" rx="1.5" ry="1.8" fill="#8a95d3"/>
<ellipse cx="474.2" cy="239.4" rx="1.9" ry="1.8" fill="#8994d2"/>
<ellipse cx="476.9" cy="240.8" rx="1.5" ry="1.7" fill="#5a67be"/>
<ellipse cx="480.4" cy="239.5" rx="1.6" ry="1.7" fill="#5f6cc0"/>
<ellipse cx="485.5" cy="240.9" rx="1.6" ry="1.5" fill="#8a95d3"/>
<ellipse cx="489.9" cy="240.7" rx="1.9" ry="1.6" fill="#818dcf"/>
<ellipse cx="492.7" cy="240.5" rx="1.5" ry="1.4" fill="#6a77c5"/>
<ellipse cx="497.7" cy="240.8" rx="1.8" ry="1.4" fill="#7c87cd"/>
<ellipse cx="501.6" cy="240.6" rx="1.7" ry="1.6" fill="#8590d0"/>
<ellipse cx="505.2" cy="240.5" rx="1.6" ry="1.3" fill="#7682ca"/>
<ellipse cx="508.5" cy="240.2" rx="1.8" ry="1.8" fill="#7783cb"/>
<ellipse cx="437.2" cy="243.7" rx="1.8" ry="1.4" fill="#949ed7"/>
<ellipse cx="439.5" cy="243.5" rx="1.6" ry="1.8" fill="#8c97d4"/>
<ellipse cx="444.9" cy="244.0" rx="1.4" ry="1.3" fill="#929cd6"/>
<ellipse cx="448.1" cy="244.4" rx="1.8" ry="1.6" fill="#5765bd"/>
<ellipse cx="452.5" cy="243.1" rx="1.6" ry="1.6" fill="#7d88cd"/>
<ellipse cx="456.3" cy="244.3" rx="1.5" ry="1.7" fill="#5a67be"/>
<ellipse cx="459.0" cy="244.4" rx="1.5" ry="1.7" fill="#6370c2"/>
<ellipse cx="463.6" cy="244.2" rx="1.9" ry="1.8" fill="#949ed7"/>
<ellipse cx="466.8" cy="243.3" rx="1.4" ry="1.4" fill="#838ecf"/>
<ellipse cx="471.2" cy="243.1" rx="1.7" ry="1.8" fill="#7a86cc"/>
<ellipse cx="475.7" cy="244.1" rx="1.7" ry="1.3" fill="#5663bc"/>
<ellipse cx="479.6" cy="244.3" rx="1.4" ry="1.6" fill="#8590d1"/>
<ellipse cx="482.6" cy="243.2" rx="1.9" ry="1.7" fill="#8691d1"/>
<ellipse cx="487.0" cy="244.1" rx="1.6" ry="1.7" fill="#8792d1"/>
<ellipse cx="491.5" cy="244.5" rx="1.7" ry="1.6" fill="#7783cb"/>
<ellipse cx="495.6" cy="243.7" rx="1.6" ry="1.7" fill="#717dc8"/>
<ellipse cx="499.3" cy="244.2" rx="1.9" ry="1.8" fill="#7e8ace"/>
<ellipse cx="502.8" cy="243.9" rx="1.5" ry="1.6" fill="#8893d2"/>
<ellipse cx="507.3" cy="244.2" rx="1.8" ry="1.8" fill="#7480c9"/>
<ellipse cx="509.9" cy="242.8" rx="1.4" ry="1.8" fill="#606ec1"/>
<ellipse cx="434.9" cy="247.7" rx="1.6" ry="1.6" fill="#949ed7"/>
<ellipse cx="437.8" cy="247.7" rx="1.6" ry="1.7" fill="#6d79c6"/>
<ellipse cx="442.8" cy="246.5" rx="1.9" ry="1.5" fill="#818ccf"/>
<ellipse cx="445.6" cy="247.4" rx="1.6" ry="1.8" fill="#7480c9"/>
<ellipse cx="450.3" cy="246.5" rx="1.9" ry="1.8" fill="#7682ca"/>
<ellipse cx="454.7" cy="246.6" rx="1.8" ry="1.4" fill="#5563bc"/>
<ellipse cx="458.5" cy="247.9" rx="1.7" ry="1.3" fill="#7480c9"/>
<ellipse cx="461.1" cy="247.5" rx="1.8" ry="1.5" fill="#7a85cc"/>
<ellipse cx="465.8" cy="247.8" rx="1.6" ry="1.4" fill="#7783cb"/>
<ellipse cx="469.5" cy="246.9" rx="1.9" ry="1.7" fill="#6471c3"/>
<ellipse cx="473.0" cy="247.7" rx="1.8" ry="1.8" fill="#7783cb"/>
<ellipse cx="477.1" cy="247.8" rx="1.6" ry="1.6" fill="#8590d1"/>
<ellipse cx="480.5" cy="247.8" rx="1.4" ry="1.8" fill="#6975c5"/>
<ellipse cx="484.3" cy="247.5" rx="1.6" ry="1.8" fill="#5966be"/>
<ellipse cx="489.9" cy="246.8" rx="1.9" ry="1.3" fill="#6875c4"/>
<ellipse cx="493.2" cy="246.9" rx="1.6" ry="1.6" fill="#5d6bc0"/>
<ellipse cx="496.1" cy="247.7" rx="1.9" ry="1.8" fill="#8893d2"/>
<ellipse cx="500.8" cy="247.6" rx="1.9" ry="1.3" fill="#606dc1"/>
<ellipse cx="503.9" cy="246.5" rx="1.6" ry="1.3" fill="#727ec9"/>
<ellipse cx="508.1" cy="247.7" rx="1.9" ry="1.8" fill="#616ec1"/>
<ellipse cx="435.6" cy="249.7" rx="1.9" ry="1.7" fill="#6a77c5"/>
<ellipse cx="440.1" cy="250.4" rx="1.7" ry="1.4" fill="#5664bc"/>
<ellipse cx="444.9" cy="251.2" rx="1.8" ry="1.4" fill="#6673c3"/>
<ellipse cx="447.7" cy="251.0" rx="1.4" ry="1.5" fill="#6b77c5"/>
<ellipse cx="451.8" cy="251.1" rx="1.5" ry="1.4" fill="#6874c4"/>
<ellipse cx="456.2" cy="249.8" rx="1.4" ry="1.8" fill="#6e7bc7"/>
<ellipse cx="459.8" cy="250.5" rx="1.6" ry="1.3" fill="#6571c3"/>
<ellipse cx="463.7" cy="250.7" rx="1.5" ry="1.3" fill="#8994d2"/>
<ellipse cx="468.0" cy="250.4" rx="1.9" ry="1.8" fill="#6c78c6"/>
<ellipse cx="471.6" cy="251.2" rx="1.7" ry="1.3" fill="#727ec9"/>
<ellipse cx="475.8" cy="250.0" rx="1.8" ry="1.4" fill="#8f99d5"/>
<ellipse cx="478.7" cy="250.2" rx="1.5" ry="1.6" fill="#8b96d3"/>
<ellipse cx="484.1" cy="250.4" rx="1.7" ry="1.4" fill="#6673c4"/>
<ellipse cx="487.8" cy="251.4" rx="1.5" ry="1.3" fill="#7783cb"/>
<ellipse cx="491.4" cy="250.4" rx="1.8" ry="1.5" fill="#5b69bf"/>
<ellipse cx="495.4" cy="250.6" rx="1.8" ry="1.4" fill="#7581ca"/>
<ellipse cx="499.7" cy="250.6" rx="1.6" ry="1.7" fill="#606dc1"/>
<ellipse cx="503.0" cy="250.9" rx="1.7" ry="1.6" fill="#848fd0"/>
<ellipse cx="506.9" cy="250.0" rx="1.9" ry="1.7" fill="#6471c3"/>
<ellipse cx="510.7" cy="250.5" rx="1.6" ry="1.6" fill="#8993d2"/>
<ellipse cx="434.8" cy="254.6" rx="1.7" ry="1.7" fill="#828ecf"/>
<ellipse cx="437.9" cy="253.9" rx="1.8" ry="1.5" fill="#6572c3"/>
<ellipse cx="441.9" cy="254.9" rx="1.5" ry="1.5" fill="#7681ca"/>
<ellipse cx="446.2" cy="254.0" rx="1.4" ry="1.4" fill="#8e98d4"/>
<ellipse cx="450.9" cy="254.6" rx="1.8" ry="1.7" fill="#7783cb"/>
<ellipse cx="454.6" cy="254.1" rx="1.8" ry="1.6" fill="#818ccf"/>
<ellipse cx="457.2" cy="253.9" rx="1.7" ry="1.5" fill="#5e6bc0"/>
<ellipse cx="461.1" cy="253.9" rx="1.7" ry="1.8" fill="#5462bc"/>
<ellipse cx="465.6" cy="254.1" rx="1.8" ry="1.6" fill="#727ec9"/>
<ellipse cx="470.5" cy="254.2" rx="1.7" ry="1.8" fill="#5664bd"/>
<ellipse cx="472.9" cy="253.5" rx="1.6" ry="1.8" fill="#7f8ace"/>
<ellipse cx="477.7" cy="254.1" rx="1.9" ry="1.8" fill="#808bce"/>
<ellipse cx="481.1" cy="254.1" rx="1.7" ry="1.6" fill="#7a86cc"/>
<ellipse cx="485.0" cy="254.4" rx="1.9" ry="1.4" fill="#6975c4"/>
<ellipse cx="489.3" cy="253.3" rx="1.6" ry="1.5" fill="#959fd7"/>
<ellipse cx="493.0" cy="253.7" rx="1.6" ry="1.6" fill="#7c87cd"/>
<ellipse cx="497.0" cy="254.0" rx="1.9" ry="1.4" fill="#5765bd"/>
<ellipse cx="501.3" cy="254.9" rx="1.9" ry="1.7" fill="#8d98d4"/>
<ellipse cx="505.1" cy="254.3" rx="1.5" ry="1.6" fill="#8590d1"/>
<ellipse cx="508.6" cy="253.4" rx="1.8" ry="1.7" fill="#5865bd"/>
<ellipse cx="436.9" cy="257.1" rx="1.6" ry="1.3" fill="#616fc1"/>
<ellipse cx="440.1" cy="257.8" rx="1.8" ry="1.3" fill="#808bce"/>
<ellipse cx="443.8" cy="258.3" rx="1.9" ry="1.4" fill="#7c87cd"/>
<ellipse cx="448.2" cy="258.5" rx="1.6" ry="1.3" fill="#8f9ad5"/>
<ellipse cx="451.2" cy="257.5" rx="1.8" ry="1.4" fill="#5967be"/>
<ellipse cx="455.6" cy="257.7" rx="1.6" ry="1.3" fill="#8c97d4"/>
<ellipse cx="460.1" cy="257.8" rx="1.6" ry="1.4" fill="#8994d2"/>
<ellipse cx="464.5" cy="257.5" rx="1.6" ry="1.6" fill="#5462bc"/>
<ellipse cx="467.4" cy="258.0" rx="1.7" ry="1.3" fill="#7480c9"/>
<ellipse cx="471.6" cy="257.2" rx="1.9" ry="1.5" fill="#5462bc"/>
<ellipse cx="476.2" cy="257.1" rx="1.9" ry="1.6" fill="#838ed0"/>
<ellipse cx="478.6" cy="257.7" rx="1.5" ry="1.4" fill="#848fd0"/>
<ellipse cx="484.0" cy="258.2" rx="1.9" ry="1.8" fill="#7581ca"/>
<ellipse cx="487.7" cy="257.8" rx="1.7" ry="1.5" fill="#6370c2"/>
<ellipse cx="491.1" cy="257.2" rx="1.6" ry="1.8" fill="#6b78c6"/>
<ellipse cx="494.3" cy="257.5" rx="1.7" ry="1.3" fill="#6d79c6"/>
<ellipse cx="499.4" cy="257.7" rx="1.4" ry="1.8" fill="#8b96d3"/>
<ellipse cx="503.6" cy="258.1" rx="1.5" ry="1.3" fill="#6370c2"/>
<ellipse cx="506.7" cy="257.8" rx="1.9" ry="1.5" fill="#6b77c5"/>
<ellipse cx="510.4" cy="258.3" rx="1.8" ry="1.4" fill="#6976c5"/>
<ellipse cx="435.1" cy="260.5" rx="1.9" ry="1.8" fill="#8590d1"/>
<ellipse cx="439.1" cy="261.4" rx="1.8" ry="1.7" fill="#5664bd"/>
<ellipse cx="442.0" cy="261.5" rx="1.7" ry="1.4" fill="#8893d2"/>
<ellipse cx="446.1" cy="261.4" rx="1.7" ry="1.6" fill="#808bce"/>
<ellipse cx="450.1" cy="261.3" rx="1.5" ry="1.5" fill="#8691d1"/>
<ellipse cx="454.8" cy="261.8" rx="1.9" ry="1.8" fill="#7d89cd"/>
<ellipse cx="457.9" cy="260.9" rx="1.5" ry="1.5" fill="#8e98d4"/>
<ellipse cx="462.2" cy="261.4" rx="1.7" ry="1.3" fill="#7682ca"/>
<ellipse cx="465.0" cy="261.1" rx="1.9" ry="1.5" fill="#6c78c6"/>
<ellipse cx="469.2" cy="261.4" rx="1.9" ry="1.6" fill="#8e98d4"/>
<ellipse cx="472.9" cy="260.7" rx="1.9" ry="1.3" fill="#909ad5"/>
<ellipse cx="477.0" cy="260.7" rx="1.9" ry="1.5" fill="#7a86cc"/>
<ellipse cx="481.4" cy="261.8" rx="1.5" ry="1.8" fill="#6b78c6"/>
<ellipse cx="485.5" cy="261.4" rx="1.7" ry="1.6" fill="#7984cb"/>
<ellipse cx="489.6" cy="260.9" rx="1.7" ry="1.6" fill="#8f99d5"/>
<ellipse cx="492.9" cy="261.4" rx="1.6" ry="1.8" fill="#717dc8"/>
<ellipse cx="496.4" cy="261.6" rx="1.7" ry="1.3" fill="#7e8ace"/>
<ellipse cx="501.6" cy="261.8" rx="1.4" ry="1.6" fill="#7e89cd"/>
<ellipse cx="503.9" cy="261.8" rx="1.6" ry="1.4" fill="#616fc1"/>
<ellipse cx="508.1" cy="260.4" rx="1.6" ry="1.4" fill="#626fc2"/>
<ellipse cx="436.7" cy="264.3" rx="1.8" ry="1.4" fill="#6471c3"/>
<ellipse cx="439.8" cy="264.8" rx="1.6" ry="1.4" fill="#8b96d3"/>
<ellipse cx="444.3" cy="264.7" rx="1.6" ry="1.5" fill="#8691d1"/>
<ellipse cx="448.2" cy="264.8" rx="1.5" ry="1.8" fill="#5462bc"/>
<ellipse cx="452.5" cy="265.0" rx="1.6" ry="1.6" fill="#7480c9"/>
<ellipse cx="456.3" cy="265.2" rx="1.5" ry="1.8" fill="#5967be"/>
<ellipse cx="459.8" cy="264.9" rx="1.6" ry="1.8" fill="#7d89cd"/>
<ellipse cx="463.1" cy="263.8" rx="1.6" ry="1.7" fill="#6774c4"/>
<ellipse cx="467.6" cy="264.9" rx="1.6" ry="1.8" fill="#8c96d3"/>
<ellipse cx="471.1" cy="265.4" rx="1.5" ry="1.6" fill="#616fc1"/>
<ellipse cx="475.1" cy="264.6" rx="1.7" ry="1.6" fill="#7984cb"/>
<ellipse cx="479.3" cy="265.4" rx="1.5" ry="1.5" fill="#8792d1"/>
<ellipse cx="482.6" cy="264.2" rx="1.9" ry="1.4" fill="#808bce"/>
<ellipse cx="487.4" cy="264.4" rx="1.7" ry="1.4" fill="#6b78c5"/>
<ellipse cx="490.8" cy="263.9" rx="1.9" ry="1.4" fill="#7581ca"/>
<ellipse cx="495.7" cy="264.5" rx="1.9" ry="1.6" fill="#8a95d3"/>
<ellipse cx="499.0" cy="264.1" rx="1.5" ry="1.6" fill="#6b77c5"/>
<ellipse cx="503.5" cy="263.9" rx="1.6" ry="1.4" fill="#8b96d3"/>
<ellipse cx="507.0" cy="263.8" rx="1.5" ry="1.6" fill="#8a95d3"/>
<ellipse cx="510.6" cy="264.3" rx="1.7" ry="1.5" fill="#8691d1"/>
<ellipse cx="435.3" cy="268.0" rx="1.6" ry="1.7" fill="#7b87cc"/>
<ellipse cx="439.0" cy="267.3" rx="1.8" ry="1.7" fill="#8893d2"/>
<ellipse cx="441.8" cy="269.0" rx="1.5" ry="1.7" fill="#5c69bf"/>
<ellipse cx="446.0" cy="267.3" rx="1.9" ry="1.5" fill="#7d89cd"/>
<ellipse cx="449.7" cy="267.9" rx="1.4" ry="1.3" fill="#5765bd"/>
<ellipse cx="454.0" cy="267.9" rx="1.6" ry="1.3" fill="#7783cb"/>
<ellipse cx="457.5" cy="268.1" rx="1.4" ry="1.5" fill="#8f9ad5"/>
<ellipse cx="461.7" cy="267.5" rx="1.8" ry="1.4" fill="#8792d1"/>
<ellipse cx="465.7" cy="268.2" rx="1.6" ry="1.8" fill="#939dd6"/>
<ellipse cx="469.7" cy="268.5" rx="1.8" ry="1.8" fill="#6f7cc7"/>
<ellipse cx="473.4" cy="267.6" rx="1.7" ry="1.6" fill="#5765bd"/>
<ellipse cx="478.2" cy="267.4" rx="1.7" ry="1.4" fill="#939dd7"/>
<ellipse cx="480.9" cy="268.0" rx="1.7" ry="1.4" fill="#5d6abf"/>
<ellipse cx="485.0" cy="267.6" rx="1.9" ry="1.4" fill="#6b77c5"/>
<ellipse cx="489.7" cy="267.7" rx="1.8" ry="1.6" fill="#616ec1"/>
<ellipse cx="493.1" cy="268.3" rx="1.6" ry="1.7" fill="#8f9ad5"/>
<ellipse cx="496.2" cy="268.0" rx="1.9" ry="1.8" fill="#6f7bc7"/>
<ellipse cx="500.1" cy="268.2" rx="1.6" ry="1.6" fill="#606ec1"/>
<ellipse cx="505.1" cy="268.7" rx="1.7" ry="1.7" fill="#737fc9"/>
<ellipse cx="509.4" cy="267.4" rx="1.8" ry="1.8" fill="#5d6bc0"/>
<ellipse cx="436.4" cy="271.9" rx="1.5" ry="1.4" fill="#6f7bc7"/>
<ellipse cx="440.1" cy="272.4" rx="1.5" ry="1.4" fill="#7c87cd"/>
<ellipse cx="444.2" cy="272.3" rx="1.8" ry="1.7" fill="#6774c4"/>
<ellipse cx="447.4" cy="271.4" rx="1.5" ry="1.5" fill="#7783cb"/>
<ellipse cx="452.4" cy="272.2" rx="1.9" ry="1.6" fill="#5765bd"/>
<ellipse cx="455.9" cy="272.2" rx="1.5" ry="1.5" fill="#8b95d3"/>
<ellipse cx="460.3" cy="271.4" rx="1.6" ry="1.7" fill="#5d6ac0"/>
<ellipse cx="464.1" cy="271.6" rx="1.6" ry="1.4" fill="#7884cb"/>
<ellipse cx="467.0" cy="272.3" rx="1.8" ry="1.4" fill="#6572c3"/>
<ellipse cx="472.2" cy="272.3" rx="1.9" ry="1.4" fill="#959fd7"/>
<ellipse cx="475.0" cy="272.1" rx="1.9" ry="1.3" fill="#5462bc"/>
<ellipse cx="478.5" cy="271.6" rx="1.7" ry="1.5" fill="#808bce"/>
<ellipse cx="482.9" cy="271.6" rx="1.4" ry="1.7" fill="#7a86cc"/>
<ellipse cx="486.9" cy="271.7" rx="1.4" ry="1.5" fill="#8b96d3"/>
<ellipse cx="490.9" cy="272.1" rx="1.5" ry="1.4" fill="#8b96d3"/>
<ellipse cx="495.2" cy="271.2" rx="1.9" ry="1.8" fill="#8993d2"/>
<ellipse cx="498.3" cy="271.1" rx="1.5" ry="1.3" fill="#606ec1"/>
<ellipse cx="502.4" cy="271.5" rx="1.6" ry="1.8" fill="#5b69bf"/>
<ellipse cx="506.7" cy="272.1" rx="1.5" ry="1.5" fill="#8590d1"/>
<ellipse cx="511.4" cy="271.2" rx="1.5" ry="1.3" fill="#7884cb"/>
<ellipse cx="434.1" cy="275.1" rx="1.6" ry="1.3" fill="#606dc1"/>
<ellipse cx="437.5" cy="275.3" rx="1.9" ry="1.6" fill="#949ed7"/>
<ellipse cx="441.5" cy="275.3" rx="1.7" ry="1.8" fill="#707cc8"/>
<ellipse cx="446.4" cy="274.9" rx="1.9" ry="1.8" fill="#6f7bc7"/>
<ellipse cx="451.0" cy="274.8" rx="1.7" ry="1.8" fill="#6673c3"/>
<ellipse cx="453.1" cy="274.4" rx="1.9" ry="1.6" fill="#6874c4"/>
<ellipse cx="457.4" cy="275.5" rx="1.5" ry="1.5" fill="#808bce"/>
<ellipse cx="462.2" cy="274.8" rx="1.5" ry="1.8" fill="#7f8ace"/>
<ellipse cx="466.4" cy="274.5" rx="1.7" ry="1.7" fill="#6e7ac7"/>
<ellipse cx="469.1" cy="275.2" rx="1.8" ry="1.7" fill="#6875c4"/>
<ellipse cx="473.6" cy="275.6" rx="1.6" ry="1.5" fill="#8792d1"/>
<ellipse cx="477.1" cy="275.8" rx="1.6" ry="1.6" fill="#7a86cc"/>
<ellipse cx="481.5" cy="275.4" rx="1.8" ry="1.4" fill="#7985cb"/>
<ellipse cx="485.3" cy="274.6" rx="1.5" ry="1.6" fill="#626fc1"/>
<ellipse cx="489.2" cy="275.9" rx="1.9" ry="1.4" fill="#616ec1"/>
<ellipse cx="492.1" cy="274.8" rx="1.8" ry="1.5" fill="#717dc8"/>
<ellipse cx="496.6" cy="274.7" rx="1.5" ry="1.7" fill="#5966be"/>
<ellipse cx="501.3" cy="275.4" rx="1.9" ry="1.4" fill="#6b77c5"/>
<ellipse cx="504.0" cy="275.5" rx="1.7" ry="1.5" fill="#6874c4"/>
<ellipse cx="509.3" cy="274.3" rx="1.5" ry="1.6" fill="#6774c4"/>
<ellipse cx="435.6" cy="278.8" rx="1.6" ry="1.8" fill="#8590d0"/>
<ellipse cx="441.0" cy="278.7" rx="1.6" ry="1.5" fill="#7d88cd"/>
<ellipse cx="444.3" cy="278.4" rx="1.5" ry="1.6" fill="#6673c3"/>
<ellipse cx="448.3" cy="279.3" rx="1.8" ry="1.3" fill="#7783ca"/>
<ellipse cx="452.2" cy="279.0" rx="1.9" ry="1.5" fill="#5563bc"/>
<ellipse cx="455.9" cy="279.3" rx="1.9" ry="1.5" fill="#838ed0"/>
<ellipse cx="460.3" cy="278.6" rx="1.8" ry="1.5" fill="#5f6dc0"/>
<ellipse cx="463.4" cy="278.2" rx="1.4" ry="1.6" fill="#7581ca"/>
<ellipse cx="468.5" cy="278.9" rx="1.5" ry="1.4" fill="#717dc8"/>
<ellipse cx="470.8" cy="278.6" rx="1.9" ry="1.5" fill="#919bd5"/>
<ellipse cx="475.3" cy="278.8" rx="1.6" ry="1.5" fill="#6875c4"/>
<ellipse cx="479.0" cy="279.3" rx="1.9" ry="1.3" fill="#6d79c6"/>
<ellipse cx="483.2" cy="279.2" rx="1.7" ry="1.6" fill="#6b78c6"/>
<ellipse cx="486.7" cy="279.3" rx="1.8" ry="1.5" fill="#6976c5"/>
<ellipse cx="491.1" cy="278.7" rx="1.9" ry="1.4" fill="#5d6bc0"/>
<ellipse cx="494.8" cy="279.4" rx="1.9" ry="1.4" fill="#828dcf"/>
<ellipse cx="499.0" cy="278.7" rx="1.8" ry="1.5" fill="#8590d1"/>
<ellipse cx="502.5" cy="278.5" rx="1.5" ry="1.6" fill="#909ad5"/>
<ellipse cx="506.2" cy="278.5" rx="1.7" ry="1.8" fill="#949ed7"/>
<ellipse cx="510.1" cy="277.8" rx="1.8" ry="1.6" fill="#6e7ac7"/>
<ellipse cx="434.3" cy="281.2" rx="1.8" ry="1.7" fill="#828ecf"/>
<ellipse cx="438.7" cy="281.4" rx="1.5" ry="1.7" fill="#8691d1"/>
<ellipse cx="443.0" cy="281.8" rx="1.8" ry="1.4" fill="#8893d2"/>
<ellipse cx="445.8" cy="282.2" rx="1.4" ry="1.8" fill="#7884cb"/>
<ellipse cx="449.7" cy="282.5" rx="1.5" ry="1.6" fill="#7e8ace"/>
<ellipse cx="453.6" cy="282.9" rx="1.7" ry="1.7" fill="#6875c4"/>
<ellipse cx="457.1" cy="281.3" rx="1.9" ry="1.7" fill="#8c97d4"/>
<ellipse cx="462.5" cy="282.4" rx="1.7" ry="1.4" fill="#7783cb"/>
<ellipse cx="465.3" cy="282.4" rx="1.9" ry="1.8" fill="#5664bc"/>
<ellipse cx="469.3" cy="282.1" rx="1.5" ry="1.6" fill="#8a95d3"/>
<ellipse cx="473.1" cy="282.2" rx="1.6" ry="1.7" fill="#606ec1"/>
<ellipse cx="477.7" cy="282.7" rx="1.4" ry="1.7" fill="#919bd6"/>
<ellipse cx="480.9" cy="282.2" rx="1.8" ry="1.4" fill="#828ecf"/>
<ellipse cx="485.3" cy="282.8" rx="1.8" ry="1.4" fill="#6b77c5"/>
<ellipse cx="489.1" cy="282.8" rx="1.7" ry="1.4" fill="#5f6cc0"/>
<ellipse cx="493.8" cy="281.9" rx="1.5" ry="1.4" fill="#6572c3"/>
<ellipse cx="496.7" cy="282.9" rx="1.6" ry="1.5" fill="#5a68be"/>
<ellipse cx="500.9" cy="282.2" rx="1.5" ry="1.5" fill="#5d6abf"/>
<ellipse cx="505.2" cy="282.3" rx="1.6" ry="1.3" fill="#5866bd"/>
<ellipse cx="508.6" cy="282.4" rx="1.5" ry="1.6" fill="#848fd0"/>
<ellipse cx="436.0" cy="285.4" rx="1.8" ry="1.8" fill="#5d6abf"/>
<ellipse cx="439.5" cy="286.0" rx="1.4" ry="1.4" fill="#828dcf"/>
<ellipse cx="444.8" cy="286.0" rx="1.9" ry="1.3" fill="#5e6cc0"/>
<ellipse cx="449.0" cy="286.1" rx="1.8" ry="1.8" fill="#8691d1"/>
<ellipse cx="451.3" cy="285.3" rx="1.6" ry="1.5" fill="#707cc7"/>
<ellipse cx="456.7" cy="284.9" rx="1.7" ry="1.7" fill="#7f8ace"/>
<ellipse cx="460.5" cy="286.1" rx="1.9" ry="1.6" fill="#707dc8"/>
<ellipse cx="463.1" cy="285.1" rx="1.6" ry="1.4" fill="#6572c3"/>
<ellipse cx="468.1" cy="285.9" rx="1.4" ry="1.5" fill="#909ad5"/>
<ellipse cx="470.7" cy="285.7" rx="1.7" ry="1.4" fill="#707cc8"/>
<ellipse cx="474.9" cy="286.2" rx="1.5" ry="1.5" fill="#808bce"/>
<ellipse cx="479.4" cy="284.7" rx="1.4" ry="1.8" fill="#6875c4"/>
<ellipse cx="483.1" cy="284.7" rx="1.9" ry="1.7" fill="#5865bd"/>
<ellipse cx="487.9" cy="286.3" rx="1.7" ry="1.6" fill="#919bd6"/>
<ellipse cx="491.4" cy="284.7" rx="1.7" ry="1.5" fill="#717dc8"/>
<ellipse cx="495.7" cy="285.2" rx="1.7" ry="1.7" fill="#5f6cc0"/>
<ellipse cx="499.1" cy="286.1" rx="1.9" ry="1.6" fill="#949ed7"/>
<ellipse cx="502.9" cy="284.9" rx="1.7" ry="1.4" fill="#616ec1"/>
<ellipse cx="506.2" cy="286.0" rx="1.8" ry="1.5" fill="#8c97d4"/>
<ellipse cx="509.9" cy="285.4" rx="1.9" ry="1.5" fill="#6976c5"/>
<ellipse cx="435.3" cy="288.9" rx="1.8" ry="1.5" fill="#5966be"/>
<ellipse cx="437.8" cy="289.4" rx="1.9" ry="1.4" fill="#5b69bf"/>
<ellipse cx="442.0" cy="289.6" rx="1.7" ry="1.4" fill="#606dc1"/>
<ellipse cx="446.0" cy="289.7" rx="1.6" ry="1.8" fill="#6976c5"/>
<ellipse cx="450.7" cy="288.5" rx="1.6" ry="1.8" fill="#7a86cc"/>
<ellipse cx="454.1" cy="289.0" rx="1.9" ry="1.3" fill="#919bd5"/>
<ellipse cx="457.2" cy="289.8" rx="1.8" ry="1.7" fill="#8993d2"/>
<ellipse cx="461.5" cy="289.3" rx="1.8" ry="1.4" fill="#838fd0"/>
<ellipse cx="464.9" cy="289.9" rx="1.8" ry="1.4" fill="#919bd6"/>
<ellipse cx="470.5" cy="289.4" rx="1.5" ry="1.4" fill="#7783ca"/>
<ellipse cx="472.8" cy="289.4" rx="1.5" ry="1.3" fill="#7d88cd"/>
<ellipse cx="477.3" cy="289.1" rx="1.7" ry="1.8" fill="#7c88cd"/>
<ellipse cx="480.8" cy="288.5" rx="1.6" ry="1.4" fill="#5563bc"/>
<ellipse cx="485.8" cy="289.3" rx="1.8" ry="1.4" fill="#909ad5"/>
<ellipse cx="489.5" cy="289.5" rx="1.8" ry="1.6" fill="#737fc9"/>
<ellipse cx="492.8" cy="289.2" rx="1.7" ry="1.4" fill="#737fc9"/>
<ellipse cx="496.5" cy="289.4" rx="1.5" ry="1.6" fill="#5865bd"/>
<ellipse cx="500.7" cy="289.6" rx="1.9" ry="1.5" fill="#5d6ac0"/>
<ellipse cx="504.3" cy="288.9" rx="1.8" ry="1.7" fill="#5462bc"/>
<ellipse cx="507.8" cy="288.3" rx="1.6" ry="1.8" fill="#8590d0"/>
<ellipse cx="435.9" cy="291.7" rx="1.9" ry="1.7" fill="#808bce"/>
<ellipse cx="440.2" cy="292.4" rx="1.6" ry="1.4" fill="#6672c3"/>
<ellipse cx="444.9" cy="291.8" rx="1.6" ry="1.6" fill="#7d89cd"/>
<ellipse cx="449.0" cy="291.9" rx="1.5" ry="1.6" fill="#6c78c6"/>
<ellipse cx="452.6" cy="292.3" rx="1.6" ry="1.4" fill="#838ed0"/>
<ellipse cx="455.5" cy="292.8" rx="1.7" ry="1.6" fill="#7c88cd"/>
<ellipse cx="459.6" cy="291.7" rx="1.9" ry="1.7" fill="#8a95d3"/>
<ellipse cx="463.1" cy="292.9" rx="1.9" ry="1.6" fill="#7b87cc"/>
<ellipse cx="468.0" cy="293.5" rx="1.5" ry="1.5" fill="#7682ca"/>
<ellipse cx="471.1" cy="293.1" rx="1.5" ry="1.5" fill="#6c78c6"/>
<ellipse cx="475.2" cy="292.6" rx="1.5" ry="1.6" fill="#606dc1"/>
<ellipse cx="479.0" cy="292.4" rx="1.8" ry="1.7" fill="#707dc8"/>
<ellipse cx="484.0" cy="292.2" rx="1.9" ry="1.4" fill="#919bd6"/>
<ellipse cx="487.0" cy="293.3" rx="1.9" ry="1.3" fill="#7f8ace"/>
<ellipse cx="491.0" cy="293.2" rx="1.4" ry="1.4" fill="#5d6abf"/>
<ellipse cx="495.0" cy="292.3" rx="1.9" ry="1.4" fill="#929cd6"/>
<ellipse cx="499.2" cy="292.9" rx="1.5" ry="1.8" fill="#5462bc"/>
<ellipse cx="502.5" cy="293.5" rx="1.7" ry="1.5" fill="#6976c5"/>
<ellipse cx="505.9" cy="293.2" rx="1.7" ry="1.8" fill="#6f7cc7"/>
<ellipse cx="510.9" cy="293.0" rx="1.6" ry="1.7" fill="#5866bd"/>
<ellipse cx="434.5" cy="296.5" rx="1.7" ry="1.5" fill="#8792d2"/>
<ellipse cx="437.6" cy="296.4" rx="1.5" ry="1.6" fill="#5563bc"/>
<ellipse cx="443.0" cy="295.9" rx="1.7" ry="1.6" fill="#8f99d5"/>
<ellipse cx="446.6" cy="296.5" rx="1.8" ry="1.8" fill="#6d79c6"/>
<ellipse cx="450.1" cy="296.6" rx="1.8" ry="1.6" fill="#737fc9"/>
<ellipse cx="454.0" cy="295.4" rx="1.9" ry="1.3" fill="#6471c3"/>
<ellipse cx="457.9" cy="296.6" rx="1.9" ry="1.6" fill="#6f7cc7"/>
<ellipse cx="461.2" cy="296.0" rx="1.5" ry="1.5" fill="#6d7ac6"/>
<ellipse cx="466.3" cy="295.2" rx="1.8" ry="1.6" fill="#8590d0"/>
<ellipse cx="470.3" cy="295.8" rx="1.6" ry="1.5" fill="#929cd6"/>
<ellipse cx="473.3" cy="296.5" rx="1.9" ry="1.7" fill="#7d88cd"/>
<ellipse cx="477.5" cy="295.7" rx="1.9" ry="1.3" fill="#8c97d4"/>
<ellipse cx="480.7" cy="296.0" rx="1.5" ry="1.7" fill="#7e89cd"/>
<ellipse cx="485.9" cy="297.0" rx="1.8" ry="1.4" fill="#8792d2"/>
<ellipse cx="489.5" cy="296.5" rx="1.5" ry="1.8" fill="#6c79c6"/>
<ellipse cx="493.3" cy="296.8" rx="1.7" ry="1.6" fill="#828dcf"/>
<ellipse cx="496.3" cy="295.5" rx="1.6" ry="1.4" fill="#848fd0"/>
<ellipse cx="501.4" cy="295.2" rx="1.8" ry="1.6" fill="#929dd6"/>
<ellipse cx="504.7" cy="295.9" rx="1.5" ry="1.4" fill="#7984cb"/>
<ellipse cx="509.4" cy="296.3" rx="1.8" ry="1.7" fill="#5765bd"/>
<ellipse cx="436.0" cy="298.8" rx="1.5" ry="1.5" fill="#6572c3"/>
<ellipse cx="440.3" cy="299.7" rx="1.8" ry="1.4" fill="#6673c3"/>
<ellipse cx="444.2" cy="299.7" rx="1.6" ry="1.8" fill="#6572c3"/>
<ellipse cx="447.4" cy="299.3" rx="1.5" ry="1.4" fill="#838ecf"/>
<ellipse cx="452.6" cy="299.2" rx="1.8" ry="1.7" fill="#5765bd"/>
<ellipse cx="455.4" cy="299.0" rx="1.6" ry="1.8" fill="#5e6cc0"/>
<ellipse cx="460.6" cy="300.3" rx="1.8" ry="1.8" fill="#5765bd"/>
<ellipse cx="463.6" cy="299.3" rx="1.6" ry="1.7" fill="#7f8ace"/>
<ellipse cx="467.4" cy="300.3" rx="1.7" ry="1.6" fill="#909bd5"/>
<ellipse cx="472.3" cy="300.4" rx="1.9" ry="1.8" fill="#7b87cc"/>
<ellipse cx="476.1" cy="299.9" rx="1.7" ry="1.4" fill="#7f8bce"/>
<ellipse cx="478.7" cy="300.4" rx="1.6" ry="1.7" fill="#7480c9"/>
<ellipse cx="482.7" cy="300.0" rx="1.5" ry="1.4" fill="#7480c9"/>
<ellipse cx="486.9" cy="298.8" rx="1.7" ry="1.7" fill="#8590d0"/>
<ellipse cx="491.3" cy="299.2" rx="1.6" ry="1.4" fill="#606dc1"/>
<ellipse cx="495.6" cy="299.0" rx="1.6" ry="1.5" fill="#5f6cc0"/>
<ellipse cx="499.2" cy="299.5" rx="1.5" ry="1.6" fill="#929dd6"/>
<ellipse cx="501.9" cy="299.2" rx="1.9" ry="1.4" fill="#5a67be"/>
<ellipse cx="506.3" cy="300.1" rx="1.6" ry="1.5" fill="#8c97d3"/>
<ellipse cx="511.0" cy="300.4" rx="1.7" ry="1.3" fill="#5a68be"/>
<ellipse cx="433.9" cy="302.6" rx="1.7" ry="1.5" fill="#808bce"/>
<ellipse cx="438.2" cy="302.8" rx="1.8" ry="1.3" fill="#7e8ace"/>
<ellipse cx="441.8" cy="303.6" rx="1.9" ry="1.7" fill="#909ad5"/>
<ellipse cx="445.3" cy="303.2" rx="1.6" ry="1.4" fill="#909bd5"/>
<ellipse cx="449.4" cy="302.8" rx="1.9" ry="1.7" fill="#707cc8"/>
<ellipse cx="453.6" cy="303.0" rx="1.8" ry="1.7" fill="#5b68bf"/>
<ellipse cx="458.7" cy="303.5" rx="1.8" ry="1.8" fill="#727ec8"/>
<ellipse cx="461.7" cy="304.0" rx="1.8" ry="1.6" fill="#6f7cc7"/>
<ellipse cx="465.3" cy="302.5" rx="1.9" ry="1.4" fill="#8792d1"/>
<ellipse cx="469.8" cy="303.6" rx="1.7" ry="1.5" fill="#606dc1"/>
<ellipse cx="473.9" cy="303.1" rx="1.4" ry="1.5" fill="#6774c4"/>
<ellipse cx="477.8" cy="302.8" rx="1.6" ry="1.4" fill="#959fd7"/>
<ellipse cx="482.1" cy="303.5" rx="1.7" ry="1.3" fill="#6c79c6"/>
<ellipse cx="485.7" cy="303.2" rx="1.7" ry="1.5" fill="#5f6cc0"/>
<ellipse cx="489.9" cy="303.0" rx="1.5" ry="1.3" fill="#818dcf"/>
<ellipse cx="493.8" cy="303.0" rx="1.8" ry="1.7" fill="#909ad5"/>
<ellipse cx="497.7" cy="302.8" rx="1.5" ry="1.4" fill="#7b87cc"/>
<ellipse cx="500.8" cy="303.2" rx="1.8" ry="1.6" fill="#717dc8"/>
<ellipse cx="504.8" cy="303.7" rx="1.4" ry="1.8" fill="#7581ca"/>
<ellipse cx="509.2" cy="302.5" rx="1.6" ry="1.7" fill="#6370c2"/>
<ellipse cx="436.8" cy="306.6" rx="1.6" ry="1.5" fill="#929cd6"/>
<ellipse cx="440.2" cy="305.9" rx="1.7" ry="1.4" fill="#8b96d3"/>
<ellipse cx="445.0" cy="307.5" rx="1.6" ry="1.3" fill="#626fc2"/>
<ellipse cx="448.6" cy="306.7" rx="1.9" ry="1.8" fill="#5865bd"/>
<ellipse cx="451.3" cy="306.3" rx="1.6" ry="1.5" fill="#8a95d3"/>
<ellipse cx="455.6" cy="305.9" rx="1.4" ry="1.5" fill="#919cd6"/>
<ellipse cx="459.6" cy="306.4" rx="1.8" ry="1.7" fill="#6b78c6"/>
<ellipse cx="463.6" cy="305.8" rx="1.9" ry="1.6" fill="#959fd7"/>
<ellipse cx="467.0" cy="307.4" rx="1.7" ry="1.4" fill="#909ad5"/>
<ellipse cx="471.6" cy="306.1" rx="1.5" ry="1.8" fill="#7581ca"/>
<ellipse cx="475.4" cy="306.4" rx="1.5" ry="1.7" fill="#8893d2"/>
<ellipse cx="479.3" cy="306.0" rx="1.8" ry="1.4" fill="#7e89ce"/>
<ellipse cx="483.7" cy="307.4" rx="1.5" ry="1.5" fill="#7a86cc"/>
<ellipse cx="487.4" cy="307.4" rx="1.6" ry="1.5" fill="#6b78c6"/>
<ellipse cx="491.6" cy="306.7" rx="1.5" ry="1.6" fill="#7581ca"/>
<ellipse cx="495.0" cy="306.9" rx="1.8" ry="1.3" fill="#5866be"/>
<ellipse cx="498.6" cy="305.8" rx="1.4" ry="1.7" fill="#7380c9"/>
<ellipse cx="502.7" cy="307.2" rx="1.8" ry="1.6" fill="#929cd6"/>
<ellipse cx="507.0" cy="305.8" rx="1.8" ry="1.3" fill="#727ec8"/>
<ellipse cx="511.1" cy="305.8" rx="1.7" ry="1.4" fill="#6b78c5"/>
<ellipse cx="434.5" cy="309.5" rx="1.6" ry="1.4" fill="#727ec8"/>
<ellipse cx="438.0" cy="309.6" rx="1.6" ry="1.4" fill="#7a86cc"/>
<ellipse cx="442.5" cy="310.5" rx="1.5" ry="1.6" fill="#7783ca"/>
<ellipse cx="446.9" cy="310.1" rx="1.8" ry="1.6" fill="#6975c4"/>
<ellipse cx="449.3" cy="309.3" rx="1.6" ry="1.7" fill="#5462bc"/>
<ellipse cx="453.3" cy="309.4" rx="1.8" ry="1.8" fill="#6a76c5"/>
<ellipse cx="457.3" cy="309.7" rx="1.8" ry="1.5" fill="#919bd5"/>
<ellipse cx="461.2" cy="310.7" rx="1.4" ry="1.5" fill="#737fc9"/>
<ellipse cx="465.4" cy="310.1" rx="1.8" ry="1.7" fill="#6572c3"/>
<ellipse cx="470.1" cy="309.5" rx="1.8" ry="1.5" fill="#7d89cd"/>
<ellipse cx="473.5" cy="309.3" rx="1.6" ry="1.3" fill="#7e89cd"/>
<ellipse cx="477.4" cy="310.9" rx="1.9" ry="1.6" fill="#7682ca"/>
<ellipse cx="481.4" cy="309.7" rx="1.6" ry="1.4" fill="#8f99d5"/>
<ellipse cx="485.4" cy="310.1" rx="1.6" ry="1.5" fill="#5e6bc0"/>
<ellipse cx="489.1" cy="310.3" rx="1.6" ry="1.8" fill="#5b68bf"/>
<ellipse cx="493.4" cy="310.8" rx="1.6" ry="1.4" fill="#8792d1"/>
<ellipse cx="497.8" cy="310.9" rx="1.6" ry="1.6" fill="#7480c9"/>
<ellipse cx="501.4" cy="310.4" rx="1.7" ry="1.7" fill="#6673c3"/>
<ellipse cx="505.2" cy="309.5" rx="1.5" ry="1.6" fill="#6673c3"/>
<ellipse cx="508.1" cy="310.7" rx="1.9" ry="1.7" fill="#7985cc"/>
<ellipse cx="436.3" cy="312.7" rx="1.7" ry="1.7" fill="#727ec8"/>
<ellipse cx="440.8" cy="312.9" rx="1.5" ry="1.5" fill="#7985cc"/>
<ellipse cx="443.8" cy="314.4" rx="1.8" ry="1.7" fill="#5b69bf"/>
<ellipse cx="447.6" cy="314.2" rx="1.4" ry="1.5" fill="#7d89cd"/>
<ellipse cx="451.6" cy="314.1" rx="1.8" ry="1.7" fill="#5563bc"/>
<ellipse cx="455.7" cy="313.7" rx="1.8" ry="1.3" fill="#616ec1"/>
<ellipse cx="460.2" cy="314.0" rx="1.9" ry="1.4" fill="#5d6ac0"/>
<ellipse cx="463.2" cy="313.9" rx="1.9" ry="1.7" fill="#7e8ace"/>
<ellipse cx="467.0" cy="313.1" rx="1.6" ry="1.5" fill="#727ec8"/>
<ellipse cx="472.1" cy="313.0" rx="1.8" ry="1.6" fill="#5e6bc0"/>
<ellipse cx="475.3" cy="312.9" rx="1.7" ry="1.4" fill="#8691d1"/>
<ellipse cx="479.5" cy="313.0" rx="1.5" ry="1.7" fill="#6572c3"/>
<ellipse cx="483.0" cy="314.5" rx="1.6" ry="1.8" fill="#7581ca"/>
<ellipse cx="487.1" cy="313.6" rx="1.6" ry="1.4" fill="#6c78c6"/>
<ellipse cx="490.2" cy="313.2" rx="1.5" ry="1.6" fill="#6673c3"/>
<ellipse cx="494.2" cy="313.8" rx="1.7" ry="1.8" fill="#6f7cc7"/>
<ellipse cx="498.2" cy="313.0" rx="1.7" ry="1.6" fill="#6b77c5"/>
<ellipse cx="502.1" cy="314.0" rx="1.7" ry="1.8" fill="#929cd6"/>
<ellipse cx="506.9" cy="313.2" rx="1.5" ry="1.4" fill="#6b78c6"/>
<ellipse cx="510.2" cy="313.2" rx="1.5" ry="1.5" fill="#8a94d2"/>
<ellipse cx="434.6" cy="317.2" rx="1.4" ry="1.7" fill="#8b96d3"/>
<ellipse cx="437.7" cy="316.5" rx="1.5" ry="1.8" fill="#6d7ac7"/>
<ellipse cx="442.5" cy="316.7" rx="1.5" ry="1.4" fill="#8c97d4"/>
<ellipse cx="446.5" cy="316.5" rx="1.4" ry="1.8" fill="#7884cb"/>
<ellipse cx="449.4" cy="316.3" rx="1.6" ry="1.3" fill="#6976c5"/>
<ellipse cx="454.6" cy="317.2" rx="1.7" ry="1.4" fill="#7480c9"/>
<ellipse cx="457.0" cy="316.8" rx="1.7" ry="1.8" fill="#828dcf"/>
<ellipse cx="462.0" cy="316.6" rx="1.9" ry="1.5" fill="#909bd5"/>
<ellipse cx="466.3" cy="316.2" rx="1.8" ry="1.5" fill="#6a77c5"/>
<ellipse cx="469.6" cy="317.2" rx="1.5" ry="1.4" fill="#727ec8"/>
<ellipse cx="472.9" cy="318.0" rx="1.7" ry="1.8" fill="#5a68be"/>
<ellipse cx="477.5" cy="316.4" rx="1.5" ry="1.4" fill="#949ed7"/>
<ellipse cx="481.8" cy="316.3" rx="1.5" ry="1.8" fill="#5967be"/>
<ellipse cx="485.5" cy="317.7" rx="1.6" ry="1.4" fill="#6a77c5"/>
<ellipse cx="489.3" cy="316.2" rx="1.5" ry="1.8" fill="#828dcf"/>
<ellipse cx="492.2" cy="317.7" rx="1.9" ry="1.5" fill="#5563bc"/>
<ellipse cx="497.5" cy="316.7" rx="1.7" ry="1.4" fill="#717dc8"/>
<ellipse cx="501.6" cy="317.7" rx="1.7" ry="1.6" fill="#909ad5"/>
<ellipse cx="504.0" cy="317.8" rx="1.8" ry="1.8" fill="#8d98d4"/>
<ellipse cx="507.7" cy="316.8" rx="1.6" ry="1.4" fill="#5b69bf"/>
<ellipse cx="435.9" cy="320.1" rx="1.5" ry="1.8" fill="#7581ca"/>
<ellipse cx="440.3" cy="319.8" rx="1.6" ry="1.5" fill="#616ec1"/>
<ellipse cx="445.1" cy="320.1" rx="1.8" ry="1.6" fill="#6875c4"/>
<ellipse cx="448.5" cy="320.3" rx="1.6" ry="1.8" fill="#8893d2"/>
<ellipse cx="452.8" cy="320.7" rx="1.6" ry="1.8" fill="#8b95d3"/>
<ellipse cx="455.9" cy="321.1" rx="1.5" ry="1.6" fill="#919bd5"/>
<ellipse cx="460.0" cy="320.5" rx="1.5" ry="1.8" fill="#8d98d4"/>
<ellipse cx="463.2" cy="321.1" rx="1.9" ry="1.5" fill="#6874c4"/>
<ellipse cx="467.9" cy="320.5" rx="1.9" ry="1.5" fill="#929cd6"/>
<ellipse cx="472.4" cy="320.5" rx="1.7" ry="1.6" fill="#5462bc"/>
<ellipse cx="475.9" cy="320.0" rx="1.9" ry="1.5" fill="#6774c4"/>
<ellipse cx="479.1" cy="320.8" rx="1.5" ry="1.7" fill="#7682ca"/>
<ellipse cx="482.8" cy="321.5" rx="1.5" ry="1.8" fill="#7783ca"/>
<ellipse cx="488.0" cy="320.9" rx="1.5" ry="1.7" fill="#6673c3"/>
<ellipse cx="491.4" cy="320.2" rx="1.8" ry="1.5" fill="#6f7cc7"/>
<ellipse cx="495.4" cy="321.2" rx="1.8" ry="1.8" fill="#7884cb"/>
<ellipse cx="498.8" cy="320.7" rx="1.5" ry="1.6" fill="#5e6cc0"/>
<ellipse cx="503.0" cy="320.1" rx="1.8" ry="1.5" fill="#5e6bc0"/>
<ellipse cx="505.8" cy="320.0" rx="1.4" ry="1.5" fill="#6b78c5"/>
<ellipse cx="510.6" cy="320.8" rx="1.5" ry="1.4" fill="#6b78c6"/>
<ellipse cx="435.1" cy="323.7" rx="1.8" ry="1.4" fill="#6673c3"/>
<ellipse cx="437.8" cy="324.0" rx="1.8" ry="1.3" fill="#7581ca"/>
<ellipse cx="441.7" cy="323.7" rx="1.8" ry="1.4" fill="#8a94d2"/>
<ellipse cx="446.2" cy="324.4" rx="1.4" ry="1.8" fill="#5765bd"/>
<ellipse cx="449.4" cy="323.5" rx="1.7" ry="1.6" fill="#5664bd"/>
<ellipse cx="453.9" cy="324.1" rx="1.6" ry="1.5" fill="#7f8ace"/>
<ellipse cx="457.3" cy="324.4" rx="1.8" ry="1.4" fill="#727ec8"/>
<ellipse cx="461.9" cy="324.9" rx="1.7" ry="1.5" fill="#6572c3"/>
<ellipse cx="466.5" cy="324.3" rx="1.6" ry="1.8" fill="#7c87cd"/>
<ellipse cx="468.9" cy="324.1" rx="1.9" ry="1.3" fill="#626fc1"/>
<ellipse cx="473.1" cy="323.7" rx="1.5" ry="1.5" fill="#8994d2"/>
<ellipse cx="476.6" cy="324.4" rx="1.9" ry="1.4" fill="#707cc7"/>
<ellipse cx="481.6" cy="323.7" rx="1.8" ry="1.6" fill="#7581ca"/>
<ellipse cx="484.7" cy="325.0" rx="1.9" ry="1.7" fill="#838ed0"/>
<ellipse cx="489.2" cy="324.5" rx="1.6" ry="1.6" fill="#6471c3"/>
<ellipse cx="492.5" cy="324.9" rx="1.9" ry="1.8" fill="#8590d1"/>
<ellipse cx="497.3" cy="324.1" rx="1.7" ry="1.7" fill="#8792d1"/>
<ellipse cx="500.1" cy="324.0" rx="1.8" ry="1.4" fill="#8d98d4"/>
<ellipse cx="503.8" cy="323.6" rx="1.6" ry="1.8" fill="#6270c2"/>
<ellipse cx="509.1" cy="323.4" rx="1.8" ry="1.5" fill="#6875c4"/>
<ellipse cx="435.9" cy="327.3" rx="1.9" ry="1.8" fill="#828dcf"/>
<ellipse cx="441.2" cy="327.0" rx="1.7" ry="1.4" fill="#7985cb"/>
<ellipse cx="444.1" cy="327.7" rx="1.5" ry="1.4" fill="#8c96d3"/>
<ellipse cx="447.3" cy="327.7" rx="1.7" ry="1.6" fill="#8c97d4"/>
<ellipse cx="451.3" cy="327.3" rx="1.9" ry="1.7" fill="#606dc1"/>
<ellipse cx="455.6" cy="328.5" rx="1.6" ry="1.6" fill="#8d97d4"/>
<ellipse cx="459.7" cy="327.2" rx="1.5" ry="1.3" fill="#7581ca"/>
<ellipse cx="463.4" cy="327.2" rx="1.6" ry="1.8" fill="#7b86cc"/>
<ellipse cx="467.0" cy="327.3" rx="1.8" ry="1.6" fill="#8691d1"/>
<ellipse cx="471.9" cy="327.3" rx="1.7" ry="1.7" fill="#6370c2"/>
<ellipse cx="475.0" cy="326.8" rx="1.7" ry="1.3" fill="#6471c3"/>
<ellipse cx="479.9" cy="327.2" rx="1.6" ry="1.4" fill="#808bce"/>
<ellipse cx="482.8" cy="328.2" rx="1.8" ry="1.4" fill="#828ecf"/>
<ellipse cx="488.0" cy="327.7" rx="1.7" ry="1.8" fill="#5462bc"/>
<ellipse cx="490.3" cy="328.2" rx="1.8" ry="1.6" fill="#5967be"/>
<ellipse cx="495.4" cy="326.7" rx="1.4" ry="1.5" fill="#828dcf"/>
<ellipse cx="498.5" cy="328.2" rx="1.9" ry="1.8" fill="#5664bd"/>
<ellipse cx="502.7" cy="327.0" rx="1.7" ry="1.7" fill="#838ecf"/>
<ellipse cx="507.5" cy="327.1" rx="1.9" ry="1.5" fill="#5c6abf"/>
<ellipse cx="510.0" cy="327.9" rx="1.4" ry="1.3" fill="#707cc7"/>
<ellipse cx="435.4" cy="331.5" rx="1.5" ry="1.6" fill="#919bd5"/>
<ellipse cx="437.5" cy="330.2" rx="1.8" ry="1.5" fill="#838ed0"/>
<ellipse cx="441.8" cy="331.4" rx="1.9" ry="1.4" fill="#818ccf"/>
<ellipse cx="447.0" cy="330.4" rx="1.7" ry="1.7" fill="#6d79c6"/>
<ellipse cx="450.4" cy="331.4" rx="1.4" ry="1.4" fill="#7985cb"/>
<ellipse cx="453.2" cy="331.8" rx="1.9" ry="1.6" fill="#6b78c6"/>
<ellipse cx="457.6" cy="330.9" rx="1.7" ry="1.5" fill="#6572c3"/>
<ellipse cx="462.3" cy="331.2" rx="1.8" ry="1.8" fill="#939dd7"/>
<ellipse cx="465.9" cy="330.3" rx="1.5" ry="1.7" fill="#6d7ac6"/>
<ellipse cx="469.8" cy="330.5" rx="1.9" ry="1.7" fill="#5f6dc1"/>
<ellipse cx="474.1" cy="331.6" rx="1.7" ry="1.7" fill="#8d97d4"/>
<ellipse cx="477.7" cy="331.4" rx="1.6" ry="1.4" fill="#5563bc"/>
<ellipse cx="482.2" cy="331.7" rx="1.7" ry="1.3" fill="#5865bd"/>
<ellipse cx="485.6" cy="330.8" rx="1.5" ry="1.4" fill="#7480c9"/>
<ellipse cx="488.2" cy="332.0" rx="1.9" ry="1.6" fill="#8893d2"/>
<ellipse cx="492.2" cy="330.3" rx="1.5" ry="1.5" fill="#7c88cd"/>
<ellipse cx="497.1" cy="332.0" rx="1.4" ry="1.5" fill="#8e99d4"/>
<ellipse cx="500.7" cy="330.6" rx="1.5" ry="1.4" fill="#6471c2"/>
<ellipse cx="503.8" cy="330.5" rx="1.6" ry="1.8" fill="#848fd0"/>
<ellipse cx="508.4" cy="330.8" rx="1.8" ry="1.5" fill="#6975c5"/>
<ellipse cx="439.8" cy="235.1" rx="1.5" ry="1.8" fill="#a7693a" stroke="#6c3c16" stroke-width="0.6" opacity="0.8"/>
<ellipse cx="439.6" cy="232.7" rx="1.4" ry="1.8" fill="#8e572c" stroke="#5e3312" stroke-width="0.6" opacity="0.8"/>
<ellipse cx="440.1" cy="249.6" rx="1.8" ry="1.7" fill="#885329" stroke="#5b3111" stroke-width="0.6" opacity="0.8"/>
<ellipse cx="440.1" cy="251.1" rx="2.0" ry="1.8" fill="#a46738" stroke="#6a3b16" stroke-width="0.6" opacity="0.8"/>
<ellipse cx="443.7" cy="256.7" rx="2.1" ry="1.3" fill="#7d4b23" stroke="#552d0f" stroke-width="0.6" opacity="0.8"/>
<ellipse cx="443.2" cy="260.8" rx="1.4" ry="1.5" fill="#925a2e" stroke="#603412" stroke-width="0.6" opacity="0.8"/>
<ellipse cx="444.1" cy="256.9" rx="1.8" ry="1.3" fill="#a66939" stroke="#6b3c16" stroke-width="0.6" opacity="0.8"/>
<ellipse cx="446.9" cy="257.0" rx="1.3" ry="1.4" fill="#a56838" stroke="#6a3b16" stroke-width="0.6" opacity="0.8"/>
<ellipse cx="447.1" cy="262.5" rx="1.8" ry="1.6" fill="#7d4b23" stroke="#552d0f" stroke-width="0.6" opacity="0.8"/>
<ellipse cx="448.8" cy="249.2" rx="1.9" ry="1.9" fill="#9d6234" stroke="#663814" stroke-width="0.6" opacity="0.8"/>
<ellipse cx="447.6" cy="248.7" rx="1.3" ry="1.4" fill="#8d562b" stroke="#5d3211" stroke-width="0.6" opacity="0.8"/>
<ellipse cx="451.4" cy="249.4" rx="2.2" ry="1.8" fill="#995f32" stroke="#643714" stroke-width="0.6" opacity="0.8"/>
<ellipse cx="457.0" cy="246.8" rx="1.5" ry="1.7" fill="#b37240" stroke="#724018" stroke-width="0.6" opacity="0.8"/>
<ellipse cx="455.1" cy="248.7" rx="1.9" ry="1.8" fill="#a56839" stroke="#6b3b16" stroke-width="0.6" opacity="0.8"/>
<ellipse cx="473.5" cy="239.5" rx="1.5" ry="1.9" fill="#7d4b23" stroke="#552d0f" stroke-width="0.6" opacity="0.8"/>
<ellipse cx="473.6" cy="239.1" rx="2.0" ry="1.2" fill="#8b552a" stroke="#5c3211" stroke-width="0.6" opacity="0.8"/>
<ellipse cx="469.2" cy="233.6" rx="1.6" ry="2.0" fill="#875228" stroke="#5a3010" stroke-width="0.6" opacity="0.8"/>
<ellipse cx="463.6" cy="232.9" rx="2.0" ry="1.6" fill="#af6f3e" stroke="#703f18" stroke-width="0.6" opacity="0.8"/>
<ellipse cx="475.2" cy="233.1" rx="1.4" ry="1.9" fill="#7d4b23" stroke="#552d0f" stroke-width="0.6" opacity="0.8"/>
<ellipse cx="462.7" cy="236.7" rx="2.1" ry="2.0" fill="#aa6c3b" stroke="#6d3d17" stroke-width="0.6" opacity="0.8"/>
<ellipse cx="473.5" cy="240.0" rx="1.7" ry="1.7" fill="#ae6f3e" stroke="#703f18" stroke-width="0.6" opacity="0.8"/>
<ellipse cx="473.2" cy="236.9" rx="2.1" ry="1.8" fill="#ac6d3c" stroke="#6e3e17" stroke-width="0.6" opacity="0.8"/>
<ellipse cx="474.4" cy="239.4" rx="1.5" ry="1.4" fill="#af6f3e" stroke="#703f18" stroke-width="0.6" opacity="0.8"/>
<ellipse cx="461.2" cy="234.0" rx="2.1" ry="2.0" fill="#985e31" stroke="#633613" stroke-width="0.6" opacity="0.8"/>
<ellipse cx="468.7" cy="232.4" rx="1.8" ry="1.9" fill="#975e31" stroke="#633613" stroke-width="0.6" opacity="0.8"/>
<ellipse cx="470.8" cy="238.9" rx="1.7" ry="1.5" fill="#8d572c" stroke="#5e3312" stroke-width="0.6" opacity="0.8"/>
<ellipse cx="463.8" cy="234.5" rx="1.5" ry="1.2" fill="#a46738" stroke="#6a3b16" stroke-width="0.6" opacity="0.8"/>
<ellipse cx="473.3" cy="238.3" rx="1.7" ry="1.2" fill="#8a542a" stroke="#5c3111" stroke-width="0.6" opacity="0.8"/>
<ellipse cx="465.4" cy="237.2" rx="2.1" ry="1.4" fill="#995f32" stroke="#643714" stroke-width="0.6" opacity="0.8"/>
<ellipse cx="473.3" cy="239.3" rx="1.9" ry="1.4" fill="#8e582c" stroke="#5e3312" stroke-width="0.6" opacity="0.8"/>
<ellipse cx="462.3" cy="224.5" rx="2.0" ry="1.2" fill="#af703e" stroke="#703f18" stroke-width="0.6" opacity="0.8"/>
<ellipse cx="466.8" cy="224.3" rx="1.4" ry="1.7" fill="#865128" stroke="#5a3010" stroke-width="0.6" opacity="0.8"/>
<ellipse cx="482.3" cy="220.1" rx="2.1" ry="1.3" fill="#ac6d3c" stroke="#6e3e17" stroke-width="0.6" opacity="0.8"/>
<ellipse cx="484.0" cy="217.5" rx="2.1" ry="2.0" fill="#814e25" stroke="#572e0f" stroke-width="0.6" opacity="0.8"/>
<ellipse cx="483.0" cy="217.4" rx="1.8" ry="1.2" fill="#925a2e" stroke="#603412" stroke-width="0.6" opacity="0.8"/>
<ellipse cx="486.0" cy="236.2" rx="1.3" ry="2.0" fill="#9f6435" stroke="#673915" stroke-width="0.6" opacity="0.8"/>
<ellipse cx="487.4" cy="235.4" rx="2.0" ry="1.5" fill="#9e6335" stroke="#673915" stroke-width="0.6" opacity="0.8"/>
<ellipse cx="485.3" cy="236.0" rx="1.7" ry="1.9" fill="#9c6133" stroke="#653814" stroke-width="0.6" opacity="0.8"/>
<ellipse cx="500.5" cy="243.9" rx="1.5" ry="1.1" fill="#885329" stroke="#5b3111" stroke-width="0.6" opacity="0.8"/>
<ellipse cx="503.8" cy="242.7" rx="1.5" ry="1.7" fill="#824f26" stroke="#582f10" stroke-width="0.6" opacity="0.8"/>
<ellipse cx="502.4" cy="243.4" rx="1.5" ry="2.0" fill="#7f4d24" stroke="#562e0f" stroke-width="0.6" opacity="0.8"/>
<ellipse cx="503.7" cy="248.7" rx="1.8" ry="1.3" fill="#8f582d" stroke="#5f3312" stroke-width="0.6" opacity="0.8"/>
<ellipse cx="507.8" cy="247.3" rx="1.6" ry="1.2" fill="#975e31" stroke="#633613" stroke-width="0.6" opacity="0.8"/>
<ellipse cx="502.5" cy="238.7" rx="1.7" ry="1.8" fill="#af703e" stroke="#703f18" stroke-width="0.6" opacity="0.8"/>
<ellipse cx="506.3" cy="248.6" rx="1.9" ry="1.9" fill="#91592e" stroke="#603412" stroke-width="0.6" opacity="0.8"/>
<ellipse cx="500.8" cy="245.5" rx="1.5" ry="1.8" fill="#9d6234" stroke="#663814" stroke-width="0.6" opacity="0.8"/>
<ellipse cx="503.7" cy="245.9" rx="1.3" ry="1.6" fill="#ae6e3d" stroke="#6f3e17" stroke-width="0.6" opacity="0.8"/>
<ellipse cx="507.2" cy="238.5" rx="1.5" ry="1.8" fill="#a16536" stroke="#683a15" stroke-width="0.6" opacity="0.8"/>
<ellipse cx="493.6" cy="228.3" rx="1.4" ry="1.9" fill="#9e6335" stroke="#673915" stroke-width="0.6" opacity="0.8"/>
<ellipse cx="492.0" cy="227.1" rx="1.3" ry="1.8" fill="#834f26" stroke="#582f10" stroke-width="0.6" opacity="0.8"/>
<ellipse cx="496.3" cy="226.9" rx="1.5" ry="1.8" fill="#8d572c" stroke="#5e3312" stroke-width="0.6" opacity="0.8"/>
<ellipse cx="493.2" cy="263.7" rx="1.7" ry="1.2" fill="#af6f3e" stroke="#703f18" stroke-width="0.6" opacity="0.8"/>
<ellipse cx="489.3" cy="266.7" rx="2.1" ry="1.8" fill="#955c30" stroke="#623513" stroke-width="0.6" opacity="0.8"/>
<ellipse cx="487.6" cy="266.4" rx="1.7" ry="1.8" fill="#a86a3a" stroke="#6c3c16" stroke-width="0.6" opacity="0.8"/>
<ellipse cx="487.2" cy="269.0" rx="1.6" ry="1.1" fill="#ad6e3d" stroke="#6f3e17" stroke-width="0.6" opacity="0.8"/>
<ellipse cx="491.3" cy="269.7" rx="2.0" ry="1.5" fill="#9f6335" stroke="#673915" stroke-width="0.6" opacity="0.8"/>
<ellipse cx="494.0" cy="266.6" rx="1.6" ry="1.7" fill="#a76a3a" stroke="#6c3c16" stroke-width="0.6" opacity="0.8"/>
<ellipse cx="477.0" cy="268.1" rx="1.4" ry="1.8" fill="#ab6d3c" stroke="#6e3e17" stroke-width="0.6" opacity="0.8"/>
<ellipse cx="477.0" cy="267.3" rx="1.3" ry="1.3" fill="#9d6234" stroke="#663814" stroke-width="0.6" opacity="0.8"/>
<ellipse cx="474.4" cy="266.6" rx="1.7" ry="1.2" fill="#9d6234" stroke="#663814" stroke-width="0.6" opacity="0.8"/>
<ellipse cx="450.6" cy="269.7" rx="1.9" ry="1.2" fill="#8c562b" stroke="#5d3211" stroke-width="0.6" opacity="0.8"/>
<ellipse cx="453.4" cy="264.8" rx="1.9" ry="1.7" fill="#925a2e" stroke="#603412" stroke-width="0.6" opacity="0.8"/>
<ellipse cx="447.3" cy="266.5" rx="1.6" ry="1.7" fill="#8a552a" stroke="#5c3211" stroke-width="0.6" opacity="0.8"/>
<ellipse cx="448.4" cy="268.7" rx="1.3" ry="1.6" fill="#814e25" stroke="#572e0f" stroke-width="0.6" opacity="0.8"/>
<ellipse cx="449.7" cy="267.0" rx="1.6" ry="1.8" fill="#91592e" stroke="#603412" stroke-width="0.6" opacity="0.8"/>
<ellipse cx="504.5" cy="264.9" rx="2.1" ry="1.2" fill="#af6f3e" stroke="#703f18" stroke-width="0.6" opacity="0.8"/>
<ellipse cx="500.4" cy="265.2" rx="2.1" ry="1.2" fill="#965d31" stroke="#633613" stroke-width="0.6" opacity="0.8"/>
<ellipse cx="504.9" cy="264.1" rx="1.3" ry="1.5" fill="#945b2f" stroke="#613513" stroke-width="0.6" opacity="0.8"/>
<ellipse cx="504.8" cy="265.8" rx="1.4" ry="1.6" fill="#8f582d" stroke="#5f3312" stroke-width="0.6" opacity="0.8"/>
<ellipse cx="455.5" cy="218.3" rx="1.7" ry="1.2" fill="#965d30" stroke="#623613" stroke-width="0.6" opacity="0.8"/>
<ellipse cx="455.1" cy="220.9" rx="1.5" ry="1.3" fill="#a26537" stroke="#693a15" stroke-width="0.6" opacity="0.8"/>
<ellipse cx="507.0" cy="222.3" rx="2.1" ry="1.6" fill="#875228" stroke="#5a3010" stroke-width="0.6" opacity="0.8"/>
<ellipse cx="505.3" cy="220.7" rx="1.4" ry="1.9" fill="#a06436" stroke="#683915" stroke-width="0.6" opacity="0.8"/>
<ellipse cx="505.9" cy="218.4" rx="1.8" ry="1.3" fill="#945c2f" stroke="#613513" stroke-width="0.6" opacity="0.8"/>
<ellipse cx="444.2" cy="271.9" rx="1.4" ry="1.3" fill="#b37240" stroke="#724018" stroke-width="0.6" opacity="0.8"/>
<ellipse cx="444.2" cy="273.0" rx="1.8" ry="1.8" fill="#985f32" stroke="#643714" stroke-width="0.6" opacity="0.8"/>
<ellipse cx="457.9" cy="276.9" rx="1.9" ry="2.0" fill="#8f582d" stroke="#5f3312" stroke-width="0.6" opacity="0.8"/>
<ellipse cx="458.2" cy="278.6" rx="1.5" ry="1.1" fill="#865228" stroke="#5a3010" stroke-width="0.6" opacity="0.8"/>
<ellipse cx="456.9" cy="277.9" rx="2.0" ry="1.4" fill="#995f32" stroke="#643714" stroke-width="0.6" opacity="0.8"/>
<ellipse cx="472.3" cy="281.4" rx="1.5" ry="1.5" fill="#a96b3b" stroke="#6d3d17" stroke-width="0.6" opacity="0.8"/>
<ellipse cx="473.7" cy="283.2" rx="1.8" ry="1.5" fill="#ac6d3c" stroke="#6e3e17" stroke-width="0.6" opacity="0.8"/>
<ellipse cx="466.5" cy="284.3" rx="1.8" ry="1.6" fill="#a66839" stroke="#6b3b16" stroke-width="0.6" opacity="0.8"/>
<ellipse cx="467.2" cy="283.1" rx="2.2" ry="1.3" fill="#ac6d3c" stroke="#6e3e17" stroke-width="0.6" opacity="0.8"/>
<ellipse cx="468.6" cy="284.6" rx="1.9" ry="1.2" fill="#9e6335" stroke="#673915" stroke-width="0.6" opacity="0.8"/>
<ellipse cx="469.2" cy="282.7" rx="2.0" ry="1.9" fill="#845027" stroke="#592f10" stroke-width="0.6" opacity="0.8"/>
<ellipse cx="487.0" cy="279.2" rx="2.1" ry="1.2" fill="#9b6133" stroke="#653814" stroke-width="0.6" opacity="0.8"/>
<ellipse cx="489.1" cy="280.5" rx="1.5" ry="1.1" fill="#955c30" stroke="#623513" stroke-width="0.6" opacity="0.8"/>
<ellipse cx="492.3" cy="279.0" rx="2.1" ry="1.3" fill="#875228" stroke="#5a3010" stroke-width="0.6" opacity="0.8"/>
<ellipse cx="497.3" cy="276.2" rx="1.7" ry="1.3" fill="#a06536" stroke="#683a15" stroke-width="0.6" opacity="0.8"/>
<ellipse cx="489.0" cy="281.3" rx="1.5" ry="2.0" fill="#925a2e" stroke="#603412" stroke-width="0.6" opacity="0.8"/>
<ellipse cx="489.5" cy="280.5" rx="1.4" ry="1.3" fill="#885329" stroke="#5b3111" stroke-width="0.6" opacity="0.8"/>
<ellipse cx="494.0" cy="281.7" rx="1.8" ry="1.4" fill="#8f582d" stroke="#5f3312" stroke-width="0.6" opacity="0.8"/>
<ellipse cx="497.9" cy="278.6" rx="1.4" ry="1.1" fill="#9b6133" stroke="#653814" stroke-width="0.6" opacity="0.8"/>
<ellipse cx="497.5" cy="282.6" rx="1.9" ry="1.3" fill="#955d30" stroke="#623613" stroke-width="0.6" opacity="0.8"/>
<ellipse cx="488.5" cy="279.1" rx="2.0" ry="1.1" fill="#915a2e" stroke="#603412" stroke-width="0.6" opacity="0.8"/>
<ellipse cx="504.2" cy="273.0" rx="2.0" ry="1.8" fill="#995f32" stroke="#643714" stroke-width="0.6" opacity="0.8"/>
<ellipse cx="508.4" cy="270.6" rx="1.6" ry="1.2" fill="#90582d" stroke="#5f3312" stroke-width="0.6" opacity="0.8"/>
<ellipse cx="479.4" cy="288.1" rx="1.4" ry="1.2" fill="#a26637" stroke="#693a15" stroke-width="0.6" opacity="0.8"/>
<ellipse cx="480.3" cy="289.8" rx="1.7" ry="1.6" fill="#a66839" stroke="#6b3b16" stroke-width="0.6" opacity="0.8"/>
<ellipse cx="481.5" cy="286.4" rx="1.7" ry="1.8" fill="#945c2f" stroke="#613513" stroke-width="0.6" opacity="0.8"/>
<ellipse cx="452.3" cy="295.7" rx="2.2" ry="1.6" fill="#91592e" stroke="#603412" stroke-width="0.6" opacity="0.8"/>
<ellipse cx="449.4" cy="297.9" rx="1.6" ry="1.3" fill="#965d31" stroke="#633613" stroke-width="0.6" opacity="0.8"/>
<ellipse cx="451.4" cy="299.5" rx="1.4" ry="2.0" fill="#90592d" stroke="#5f3412" stroke-width="0.6" opacity="0.8"/>
<ellipse cx="447.7" cy="298.2" rx="2.0" ry="1.1" fill="#ab6c3c" stroke="#6e3d17" stroke-width="0.6" opacity="0.8"/>
<ellipse cx="458.0" cy="295.5" rx="1.6" ry="2.0" fill="#ad6e3d" stroke="#6f3e17" stroke-width="0.6" opacity="0.8"/>
<ellipse cx="455.6" cy="300.6" rx="1.3" ry="1.5" fill="#8c562b" stroke="#5d3211" stroke-width="0.6" opacity="0.8"/>
<ellipse cx="456.5" cy="295.6" rx="1.9" ry="1.1" fill="#8f582c" stroke="#5e3312" stroke-width="0.6" opacity="0.8"/>
<ellipse cx="452.7" cy="301.5" rx="2.2" ry="1.8" fill="#9e6335" stroke="#673915" stroke-width="0.6" opacity="0.8"/>
<ellipse cx="451.7" cy="299.1" rx="1.7" ry="1.8" fill="#a36637" stroke="#693a15" stroke-width="0.6" opacity="0.8"/>
<ellipse cx="469.2" cy="300.4" rx="1.8" ry="1.6" fill="#b27240" stroke="#724018" stroke-width="0.6" opacity="0.8"/>
<ellipse cx="467.2" cy="301.5" rx="1.9" ry="1.6" fill="#ae6e3d" stroke="#6f3e17" stroke-width="0.6" opacity="0.8"/>
<ellipse cx="468.8" cy="300.7" rx="1.4" ry="1.5" fill="#985e31" stroke="#633613" stroke-width="0.6" opacity="0.8"/>
<ellipse cx="490.1" cy="295.2" rx="1.6" ry="2.0" fill="#9a6032" stroke="#643714" stroke-width="0.6" opacity="0.8"/>
<ellipse cx="486.5" cy="298.7" rx="1.6" ry="1.1" fill="#ae6f3e" stroke="#703f18" stroke-width="0.6" opacity="0.8"/>
<ellipse cx="488.7" cy="299.3" rx="1.7" ry="1.1" fill="#a86a3a" stroke="#6c3c16" stroke-width="0.6" opacity="0.8"/>
<ellipse cx="489.9" cy="294.0" rx="1.9" ry="1.3" fill="#925a2e" stroke="#603412" stroke-width="0.6" opacity="0.8"/>
<ellipse cx="485.1" cy="297.6" rx="1.5" ry="1.4" fill="#a16537" stroke="#693a15" stroke-width="0.6" opacity="0.8"/>
<ellipse cx="485.8" cy="292.7" rx="2.2" ry="1.8" fill="#b27140" stroke="#724018" stroke-width="0.6" opacity="0.8"/>
<ellipse cx="506.2" cy="289.8" rx="1.9" ry="1.8" fill="#9c6134" stroke="#663814" stroke-width="0.6" opacity="0.8"/>
<ellipse cx="505.1" cy="290.0" rx="1.4" ry="1.2" fill="#845027" stroke="#592f10" stroke-width="0.6" opacity="0.8"/>
<ellipse cx="509.0" cy="291.9" rx="1.6" ry="1.4" fill="#a06436" stroke="#683915" stroke-width="0.6" opacity="0.8"/>
<ellipse cx="508.0" cy="290.6" rx="1.4" ry="1.2" fill="#b37240" stroke="#724018" stroke-width="0.6" opacity="0.8"/>
<ellipse cx="505.2" cy="304.6" rx="1.4" ry="1.7" fill="#a66839" stroke="#6b3b16" stroke-width="0.6" opacity="0.8"/>
<ellipse cx="503.6" cy="300.9" rx="1.5" ry="1.5" fill="#995f32" stroke="#643714" stroke-width="0.6" opacity="0.8"/>
<ellipse cx="508.7" cy="301.3" rx="1.5" ry="1.6" fill="#9a6033" stroke="#653714" stroke-width="0.6" opacity="0.8"/>
<ellipse cx="503.0" cy="303.5" rx="1.7" ry="1.7" fill="#895329" stroke="#5b3111" stroke-width="0.6" opacity="0.8"/>
<ellipse cx="503.4" cy="303.1" rx="1.4" ry="1.2" fill="#995f32" stroke="#643714" stroke-width="0.6" opacity="0.8"/>
<ellipse cx="441.7" cy="316.0" rx="2.0" ry="1.7" fill="#ac6d3c" stroke="#6e3e17" stroke-width="0.6" opacity="0.8"/>
<ellipse cx="439.6" cy="312.5" rx="2.1" ry="1.5" fill="#985f32" stroke="#643714" stroke-width="0.6" opacity="0.8"/>
<ellipse cx="438.8" cy="312.2" rx="1.9" ry="1.7" fill="#af6f3e" stroke="#703f18" stroke-width="0.6" opacity="0.8"/>
<ellipse cx="469.0" cy="311.3" rx="1.9" ry="1.2" fill="#975e31" stroke="#633613" stroke-width="0.6" opacity="0.8"/>
<ellipse cx="470.3" cy="314.7" rx="1.5" ry="1.9" fill="#ab6c3c" stroke="#6e3d17" stroke-width="0.6" opacity="0.8"/>
<ellipse cx="473.1" cy="311.2" rx="2.0" ry="1.4" fill="#8a542a" stroke="#5c3111" stroke-width="0.6" opacity="0.8"/>
<ellipse cx="483.1" cy="318.4" rx="1.8" ry="1.8" fill="#b0703f" stroke="#713f18" stroke-width="0.6" opacity="0.8"/>
<ellipse cx="481.8" cy="318.1" rx="1.4" ry="1.4" fill="#8c562b" stroke="#5d3211" stroke-width="0.6" opacity="0.8"/>
<ellipse cx="455.3" cy="322.8" rx="1.3" ry="1.6" fill="#875228" stroke="#5a3010" stroke-width="0.6" opacity="0.8"/>
<ellipse cx="459.2" cy="327.7" rx="1.8" ry="1.7" fill="#945b2f" stroke="#613513" stroke-width="0.6" opacity="0.8"/>
<ellipse cx="460.7" cy="324.1" rx="2.1" ry="1.5" fill="#ae6e3d" stroke="#6f3e17" stroke-width="0.6" opacity="0.8"/>
<ellipse cx="455.8" cy="326.2" rx="1.5" ry="1.4" fill="#965d30" stroke="#623613" stroke-width="0.6" opacity="0.8"/>
<ellipse cx="454.2" cy="326.7" rx="1.3" ry="1.2" fill="#955c30" stroke="#623513" stroke-width="0.6" opacity="0.8"/>
<ellipse cx="473.4" cy="325.7" rx="1.5" ry="1.5" fill="#ae6e3d" stroke="#6f3e17" stroke-width="0.6" opacity="0.8"/>
<ellipse cx="469.7" cy="326.9" rx="2.2" ry="1.1" fill="#7e4b23" stroke="#552d0f" stroke-width="0.6" opacity="0.8"/>
<ellipse cx="469.5" cy="328.0" rx="1.3" ry="1.8" fill="#a36637" stroke="#693a15" stroke-width="0.6" opacity="0.8"/>
<ellipse cx="492.8" cy="328.0" rx="2.1" ry="1.4" fill="#af6f3e" stroke="#703f18" stroke-width="0.6" opacity="0.8"/>
<ellipse cx="492.3" cy="323.8" rx="1.4" ry="1.4" fill="#975e31" stroke="#633613" stroke-width="0.6" opacity="0.8"/>
<ellipse cx="492.9" cy="323.1" rx="1.5" ry="1.2" fill="#8a552a" stroke="#5c3211" stroke-width="0.6" opacity="0.8"/>
<ellipse cx="499.4" cy="325.1" rx="1.4" ry="1.9" fill="#845027" stroke="#592f10" stroke-width="0.6" opacity="0.8"/>
<ellipse cx="494.2" cy="323.0" rx="2.1" ry="1.5" fill="#865128" stroke="#5a3010" stroke-width="0.6" opacity="0.8"/>
<ellipse cx="443.5" cy="285.4" rx="2.1" ry="1.8" fill="#9c6234" stroke="#663814" stroke-width="0.6" opacity="0.8"/>
<ellipse cx="444.3" cy="282.0" rx="2.1" ry="1.6" fill="#9a6032" stroke="#643714" stroke-width="0.6" opacity="0.8"/>
<circle cx="438.4" cy="252.3" r="1.0" fill="#eef0fa" opacity="0.9"/>
<circle cx="457.6" cy="228.0" r="1.0" fill="#eef0fa" opacity="0.9"/>
<circle cx="467.4" cy="280.5" r="0.7" fill="#eef0fa" opacity="0.9"/>
<circle cx="455.3" cy="251.4" r="1.0" fill="#eef0fa" opacity="0.9"/>
<circle cx="471.8" cy="296.5" r="0.8" fill="#eef0fa" opacity="0.9"/>
<circle cx="454.3" cy="318.9" r="1.0" fill="#eef0fa" opacity="0.9"/>
<circle cx="446.6" cy="219.7" r="0.9" fill="#eef0fa" opacity="0.9"/>
<circle cx="447.4" cy="314.4" r="0.7" fill="#eef0fa" opacity="0.9"/>
<circle cx="473.8" cy="246.0" r="0.8" fill="#eef0fa" opacity="0.9"/>
<circle cx="459.1" cy="216.0" r="0.8" fill="#eef0fa" opacity="0.9"/>
<circle cx="499.6" cy="291.2" r="0.7" fill="#eef0fa" opacity="0.9"/>
<circle cx="497.9" cy="219.7" r="0.6" fill="#eef0fa" opacity="0.9"/>
<circle cx="463.1" cy="216.7" r="0.5" fill="#eef0fa" opacity="0.9"/>
<circle cx="494.3" cy="268.5" r="0.8" fill="#eef0fa" opacity="0.9"/>
<circle cx="449.8" cy="319.3" r="1.0" fill="#eef0fa" opacity="0.9"/>
<circle cx="461.0" cy="237.1" r="0.7" fill="#eef0fa" opacity="0.9"/>
<circle cx="457.1" cy="258.4" r="0.8" fill="#eef0fa" opacity="0.9"/>
<circle cx="491.9" cy="318.2" r="0.8" fill="#eef0fa" opacity="0.9"/>
<circle cx="495.9" cy="289.1" r="0.5" fill="#eef0fa" opacity="0.9"/>
<circle cx="449.0" cy="241.4" r="0.6" fill="#eef0fa" opacity="0.9"/>
<circle cx="455.3" cy="291.6" r="0.9" fill="#eef0fa" opacity="0.9"/>
<circle cx="469.0" cy="277.2" r="0.8" fill="#eef0fa" opacity="0.9"/>
<circle cx="486.0" cy="263.7" r="0.7" fill="#eef0fa" opacity="0.9"/>
<circle cx="474.2" cy="281.3" r="0.6" fill="#eef0fa" opacity="0.9"/>
<circle cx="469.7" cy="272.1" r="0.9" fill="#eef0fa" opacity="0.9"/>
<circle cx="457.1" cy="325.1" r="0.9" fill="#eef0fa" opacity="0.9"/>
<circle cx="481.5" cy="272.1" r="0.6" fill="#eef0fa" opacity="0.9"/>
<circle cx="461.1" cy="250.0" r="0.7" fill="#eef0fa" opacity="0.9"/>
<circle cx="441.8" cy="216.5" r="1.0" fill="#eef0fa" opacity="0.9"/>
<circle cx="437.1" cy="248.8" r="0.7" fill="#eef0fa" opacity="0.9"/>
<circle cx="507.9" cy="253.6" r="0.6" fill="#eef0fa" opacity="0.9"/>
<circle cx="471.6" cy="286.7" r="0.9" fill="#eef0fa" opacity="0.9"/>
<circle cx="486.3" cy="222.9" r="1.0" fill="#eef0fa" opacity="0.9"/>
<circle cx="502.1" cy="226.1" r="0.9" fill="#eef0fa" opacity="0.9"/>
<circle cx="502.6" cy="311.4" r="1.0" fill="#eef0fa" opacity="0.9"/>
<circle cx="458.7" cy="287.7" r="0.9" fill="#eef0fa" opacity="0.9"/>
<circle cx="496.7" cy="283.9" r="0.9" fill="#eef0fa" opacity="0.9"/>
<circle cx="484.2" cy="258.4" r="1.0" fill="#eef0fa" opacity="0.9"/>
<circle cx="466.2" cy="226.2" r="1.0" fill="#eef0fa" opacity="0.9"/>
<circle cx="463.3" cy="306.0" r="0.9" fill="#eef0fa" opacity="0.9"/>
<circle cx="493.0" cy="293.9" r="0.7" fill="#eef0fa" opacity="0.9"/>
<circle cx="473.2" cy="259.7" r="0.9" fill="#eef0fa" opacity="0.9"/>
<circle cx="459.2" cy="265.0" r="0.9" fill="#eef0fa" opacity="0.9"/>
<circle cx="444.7" cy="305.2" r="0.8" fill="#eef0fa" opacity="0.9"/>
<circle cx="485.5" cy="292.8" r="0.6" fill="#eef0fa" opacity="0.9"/>
<circle cx="500.8" cy="285.9" r="0.7" fill="#eef0fa" opacity="0.9"/>
<circle cx="444.2" cy="237.9" r="0.5" fill="#eef0fa" opacity="0.9"/>
<circle cx="457.5" cy="229.9" r="0.5" fill="#eef0fa" opacity="0.9"/>
<circle cx="440.3" cy="226.0" r="0.6" fill="#eef0fa" opacity="0.9"/>
<circle cx="443.4" cy="249.8" r="0.6" fill="#eef0fa" opacity="0.9"/>
<circle cx="447.9" cy="281.3" r="0.7" fill="#eef0fa" opacity="0.9"/>
<circle cx="485.9" cy="240.8" r="0.8" fill="#eef0fa" opacity="0.9"/>
<circle cx="456.8" cy="263.7" r="0.6" fill="#eef0fa" opacity="0.9"/>
<circle cx="443.1" cy="329.6" r="0.6" fill="#eef0fa" opacity="0.9"/>
<circle cx="436.7" cy="285.4" r="0.5" fill="#eef0fa" opacity="0.9"/>
<circle cx="443.9" cy="240.4" r="0.6" fill="#eef0fa" opacity="0.9"/>
<circle cx="463.5" cy="252.9" r="0.7" fill="#eef0fa" opacity="0.9"/>
<circle cx="492.7" cy="258.2" r="0.9" fill="#eef0fa" opacity="0.9"/>
<circle cx="487.2" cy="316.4" r="0.7" fill="#eef0fa" opacity="0.9"/>
<circle cx="460.9" cy="281.2" r="1.0" fill="#eef0fa" opacity="0.9"/>
<circle cx="442.2" cy="293.0" r="0.9" fill="#eef0fa" opacity="0.9"/>
<circle cx="476.4" cy="228.4" r="1.0" fill="#eef0fa" opacity="0.9"/>
<circle cx="460.2" cy="320.8" r="0.7" fill="#eef0fa" opacity="0.9"/>
<circle cx="445.0" cy="275.8" r="0.6" fill="#eef0fa" opacity="0.9"/>
<circle cx="458.8" cy="317.2" r="1.0" fill="#eef0fa" opacity="0.9"/>
<circle cx="478.1" cy="290.0" r="0.8" fill="#eef0fa" opacity="0.9"/>
<circle cx="469.0" cy="302.9" r="0.8" fill="#eef0fa" opacity="0.9"/>
<circle cx="508.3" cy="307.0" r="0.9" fill="#eef0fa" opacity="0.9"/>
<circle cx="439.2" cy="268.1" r="0.6" fill="#eef0fa" opacity="0.9"/>
<circle cx="458.6" cy="222.6" r="0.9" fill="#eef0fa" opacity="0.9"/>
<circle cx="469.4" cy="278.5" r="0.9" fill="#eef0fa" opacity="0.9"/>
<circle cx="492.1" cy="314.5" r="0.5" fill="#eef0fa" opacity="0.9"/>
<circle cx="443.8" cy="269.0" r="0.8" fill="#eef0fa" opacity="0.9"/>
<circle cx="507.7" cy="254.7" r="0.6" fill="#eef0fa" opacity="0.9"/>
<circle cx="454.2" cy="228.6" r="0.9" fill="#eef0fa" opacity="0.9"/>
<circle cx="475.9" cy="243.0" r="0.9" fill="#eef0fa" opacity="0.9"/>
<circle cx="464.2" cy="236.9" r="0.5" fill="#eef0fa" opacity="0.9"/>
<circle cx="492.7" cy="310.1" r="0.9" fill="#eef0fa" opacity="0.9"/>
<circle cx="505.9" cy="325.6" r="0.5" fill="#eef0fa" opacity="0.9"/>
<circle cx="446.2" cy="272.3" r="0.8" fill="#eef0fa" opacity="0.9"/>
<circle cx="462.1" cy="239.1" r="0.6" fill="#eef0fa" opacity="0.9"/>
<circle cx="507.0" cy="271.2" r="0.7" fill="#eef0fa" opacity="0.9"/>
<circle cx="490.0" cy="298.8" r="0.9" fill="#eef0fa" opacity="0.9"/>
<circle cx="493.2" cy="249.8" r="0.6" fill="#eef0fa" opacity="0.9"/>
<circle cx="472.8" cy="299.6" r="0.6" fill="#eef0fa" opacity="0.9"/>
<circle cx="502.1" cy="228.1" r="0.6" fill="#eef0fa" opacity="0.9"/>
<circle cx="464.4" cy="234.6" r="0.6" fill="#eef0fa" opacity="0.9"/>
<circle cx="459.1" cy="215.1" r="0.8" fill="#eef0fa" opacity="0.9"/>
<circle cx="476.2" cy="230.7" r="0.9" fill="#eef0fa" opacity="0.9"/>
<circle cx="466.3" cy="277.5" r="0.9" fill="#eef0fa" opacity="0.9"/>
<ellipse cx="444.4" cy="252.7" rx="0.9" ry="1.3" fill="#a56e41" opacity="0.8"/>
<ellipse cx="441.7" cy="266.3" rx="1.1" ry="1.2" fill="#976339" opacity="0.8"/>
<ellipse cx="452.6" cy="250.5" rx="0.9" ry="1.1" fill="#8d5a32" opacity="0.8"/>
<ellipse cx="503.2" cy="281.9" rx="0.8" ry="1.1" fill="#b87d4c" opacity="0.8"/>
<ellipse cx="475.2" cy="285.9" rx="1.6" ry="1.1" fill="#935f36" opacity="0.8"/>
<ellipse cx="442.7" cy="301.1" rx="1.1" ry="0.9" fill="#986439" opacity="0.8"/>
<ellipse cx="485.0" cy="284.1" rx="0.8" ry="1.3" fill="#a76f42" opacity="0.8"/>
<ellipse cx="499.4" cy="291.5" rx="1.3" ry="0.9" fill="#ad7445" opacity="0.8"/>
<ellipse cx="504.0" cy="250.5" rx="1.5" ry="0.9" fill="#9d673c" opacity="0.8"/>
<ellipse cx="506.2" cy="288.2" rx="1.2" ry="0.7" fill="#a26c3f" opacity="0.8"/>
<ellipse cx="446.0" cy="279.6" rx="1.6" ry="0.9" fill="#9f693d" opacity="0.8"/>
<ellipse cx="503.3" cy="234.1" rx="1.5" ry="1.2" fill="#ba7f4d" opacity="0.8"/>
<ellipse cx="446.9" cy="285.1" rx="1.5" ry="0.9" fill="#946037" opacity="0.8"/>
<ellipse cx="482.8" cy="228.8" rx="1.4" ry="0.9" fill="#b27849" opacity="0.8"/>
<ellipse cx="469.6" cy="218.2" rx="1.5" ry="0.7" fill="#946037" opacity="0.8"/>
<ellipse cx="507.8" cy="317.1" rx="1.3" ry="1.4" fill="#bd814f" opacity="0.8"/>
<ellipse cx="463.3" cy="269.0" rx="0.9" ry="1.2" fill="#8e5b33" opacity="0.8"/>
<ellipse cx="468.8" cy="220.5" rx="1.1" ry="1.3" fill="#b47a4a" opacity="0.8"/>
<ellipse cx="464.3" cy="215.7" rx="1.5" ry="1.2" fill="#bd814f" opacity="0.8"/>
<ellipse cx="472.7" cy="256.1" rx="1.6" ry="1.1" fill="#8e5b33" opacity="0.8"/>
<ellipse cx="466.7" cy="254.2" rx="1.2" ry="0.8" fill="#ba7f4d" opacity="0.8"/>
<ellipse cx="459.2" cy="234.6" rx="1.5" ry="1.1" fill="#a06a3e" opacity="0.8"/>
<ellipse cx="480.3" cy="240.1" rx="1.0" ry="0.8" fill="#af7647" opacity="0.8"/>
<ellipse cx="458.6" cy="229.1" rx="1.5" ry="0.8" fill="#ab7344" opacity="0.8"/>
<ellipse cx="460.2" cy="292.1" rx="1.6" ry="0.9" fill="#bc814f" opacity="0.8"/>
<ellipse cx="460.5" cy="276.0" rx="1.2" ry="1.1" fill="#b77d4c" opacity="0.8"/>
<ellipse cx="492.0" cy="258.0" rx="1.4" ry="1.3" fill="#ae7546" opacity="0.8"/>
<ellipse cx="470.5" cy="267.7" rx="0.9" ry="1.1" fill="#a56e41" opacity="0.8"/>
<ellipse cx="463.4" cy="321.7" rx="1.0" ry="0.9" fill="#996439" opacity="0.8"/>
<ellipse cx="480.1" cy="312.4" rx="0.9" ry="0.9" fill="#ac7445" opacity="0.8"/>
<ellipse cx="446.8" cy="259.7" rx="1.4" ry="1.3" fill="#946137" opacity="0.8"/>
<ellipse cx="487.8" cy="235.9" rx="1.2" ry="0.8" fill="#956137" opacity="0.8"/>
<ellipse cx="495.4" cy="297.2" rx="1.2" ry="1.3" fill="#976339" opacity="0.8"/>
<ellipse cx="457.9" cy="292.2" rx="0.9" ry="1.0" fill="#915e35" opacity="0.8"/>
<ellipse cx="449.2" cy="246.1" rx="1.0" ry="1.1" fill="#a16b3e" opacity="0.8"/>
<ellipse cx="477.6" cy="252.2" rx="1.4" ry="1.3" fill="#9c673c" opacity="0.8"/>
<ellipse cx="496.8" cy="267.8" rx="0.9" ry="1.3" fill="#aa7244" opacity="0.8"/>
<ellipse cx="441.9" cy="300.5" rx="0.9" ry="1.1" fill="#956137" opacity="0.8"/>
<ellipse cx="440.2" cy="266.6" rx="0.9" ry="1.2" fill="#a16b3e" opacity="0.8"/>
<ellipse cx="466.8" cy="278.8" rx="1.1" ry="1.1" fill="#b67b4b" opacity="0.8"/>
<ellipse cx="453.6" cy="283.1" rx="0.8" ry="1.3" fill="#bc804f" opacity="0.8"/>
<ellipse cx="467.4" cy="256.5" rx="1.2" ry="0.9" fill="#8e5c33" opacity="0.8"/>
<ellipse cx="474.6" cy="308.4" rx="1.6" ry="1.0" fill="#956137" opacity="0.8"/>
<ellipse cx="459.8" cy="227.7" rx="1.5" ry="1.3" fill="#986339" opacity="0.8"/>
<ellipse cx="502.4" cy="271.6" rx="1.3" ry="1.1" fill="#925f36" opacity="0.8"/>
<ellipse cx="451.9" cy="255.2" rx="1.2" ry="1.1" fill="#b17748" opacity="0.8"/>
<ellipse cx="452.8" cy="236.8" rx="1.3" ry="1.0" fill="#b07647" opacity="0.8"/>
<ellipse cx="505.7" cy="325.2" rx="1.6" ry="1.3" fill="#bc814f" opacity="0.8"/>
<ellipse cx="440.3" cy="306.4" rx="1.5" ry="0.8" fill="#b37949" opacity="0.8"/>
<ellipse cx="501.8" cy="234.2" rx="0.8" ry="0.9" fill="#915e35" opacity="0.8"/>
<ellipse cx="458.4" cy="235.7" rx="1.2" ry="1.3" fill="#9d673c" opacity="0.8"/>
<ellipse cx="471.2" cy="322.8" rx="1.4" ry="0.7" fill="#8d5b33" opacity="0.8"/>
<ellipse cx="450.5" cy="231.9" rx="1.5" ry="1.3" fill="#a87043" opacity="0.8"/>
<ellipse cx="437.6" cy="216.0" rx="1.1" ry="1.0" fill="#bd814f" opacity="0.8"/>
<ellipse cx="502.6" cy="268.0" rx="1.6" ry="0.7" fill="#915e35" opacity="0.8"/>
<ellipse cx="444.1" cy="326.5" rx="1.5" ry="0.8" fill="#a36c40" opacity="0.8"/>
<ellipse cx="506.8" cy="282.8" rx="1.1" ry="1.1" fill="#9d683c" opacity="0.8"/>
<ellipse cx="497.6" cy="224.6" rx="1.3" ry="1.3" fill="#a36c40" opacity="0.8"/>
<ellipse cx="458.9" cy="262.4" rx="1.3" ry="1.3" fill="#8d5b32" opacity="0.8"/>
<ellipse cx="442.6" cy="324.5" rx="0.9" ry="1.3" fill="#a76f42" opacity="0.8"/>
<ellipse cx="444.1" cy="291.0" rx="1.1" ry="1.3" fill="#915e35" opacity="0.8"/>
<ellipse cx="444.2" cy="223.6" rx="1.2" ry="0.8" fill="#8f5c33" opacity="0.8"/>
<ellipse cx="469.3" cy="304.0" rx="1.4" ry="1.0" fill="#946036" opacity="0.8"/>
<ellipse cx="455.3" cy="294.1" rx="1.1" ry="1.2" fill="#9d673c" opacity="0.8"/>
<ellipse cx="452.6" cy="277.4" rx="0.8" ry="1.3" fill="#915e35" opacity="0.8"/>
<ellipse cx="468.0" cy="225.6" rx="1.1" ry="0.9" fill="#b67b4b" opacity="0.8"/>
<ellipse cx="468.1" cy="230.6" rx="0.8" ry="0.8" fill="#9d683c" opacity="0.8"/>
<ellipse cx="450.7" cy="262.3" rx="0.9" ry="0.8" fill="#935f36" opacity="0.8"/>
<ellipse cx="477.4" cy="246.3" rx="1.4" ry="1.1" fill="#a97143" opacity="0.8"/>
<ellipse cx="498.9" cy="280.0" rx="0.9" ry="1.0" fill="#966238" opacity="0.8"/>
<ellipse cx="458.8" cy="316.7" rx="1.1" ry="1.0" fill="#8e5b33" opacity="0.8"/>
<ellipse cx="468.4" cy="315.0" rx="1.5" ry="1.0" fill="#8d5b32" opacity="0.8"/>
<ellipse cx="507.2" cy="227.0" rx="1.5" ry="0.9" fill="#bd814f" opacity="0.8"/>
<ellipse cx="471.0" cy="239.8" rx="1.0" ry="1.4" fill="#aa7244" opacity="0.8"/>
<ellipse cx="466.3" cy="308.7" rx="1.4" ry="1.0" fill="#b77c4c" opacity="0.8"/>
<ellipse cx="497.4" cy="253.4" rx="1.5" ry="1.0" fill="#b47a4a" opacity="0.8"/>
<ellipse cx="500.8" cy="306.3" rx="1.0" ry="1.1" fill="#966238" opacity="0.8"/>
<ellipse cx="492.2" cy="226.6" rx="1.6" ry="1.3" fill="#936036" opacity="0.8"/>
<ellipse cx="502.4" cy="266.5" rx="1.3" ry="1.3" fill="#9e683c" opacity="0.8"/>
<ellipse cx="437.0" cy="250.3" rx="1.2" ry="1.2" fill="#8d5a32" opacity="0.8"/>
<ellipse cx="441.6" cy="214.4" rx="0.8" ry="0.8" fill="#966238" opacity="0.8"/>
<ellipse cx="466.8" cy="244.8" rx="0.9" ry="1.0" fill="#bb7f4e" opacity="0.8"/>
<ellipse cx="451.9" cy="266.6" rx="1.1" ry="1.4" fill="#986339" opacity="0.8"/>
<ellipse cx="439.6" cy="221.0" rx="1.4" ry="1.1" fill="#a16a3e" opacity="0.8"/>
<ellipse cx="505.8" cy="248.4" rx="0.9" ry="1.0" fill="#a97143" opacity="0.8"/>
<ellipse cx="501.0" cy="279.5" rx="1.4" ry="0.9" fill="#bb804e" opacity="0.8"/>
<ellipse cx="451.8" cy="283.4" rx="1.4" ry="1.1" fill="#a26c3f" opacity="0.8"/>
<ellipse cx="453.8" cy="305.5" rx="1.4" ry="1.3" fill="#b67c4b" opacity="0.8"/>
<ellipse cx="458.5" cy="258.5" rx="1.4" ry="0.9" fill="#a77042" opacity="0.8"/>
<ellipse cx="487.2" cy="329.4" rx="1.1" ry="1.1" fill="#bc804f" opacity="0.8"/>
</g></g>
<line x1="436.5" y1="214.1" x2="436.5" y2="329.8" stroke="#5a3010" stroke-width="1.6"/>
<rect x="369.2" y="318.8" width="11.6" height="5.8" fill="#000"/>
<text x="370.2" y="322.9" font-size="3.4" fill="#fff" textLength="9.6" lengthAdjust="spacingAndGlyphs">40 pos</text>
<rect x="444.2" y="318.8" width="10.4" height="5.8" fill="#000"/>
<text x="445.0" y="322.9" font-size="3.4" fill="#fff" textLength="8.8" lengthAdjust="spacingAndGlyphs">40 neg</text>
</svg>
</body></html>
